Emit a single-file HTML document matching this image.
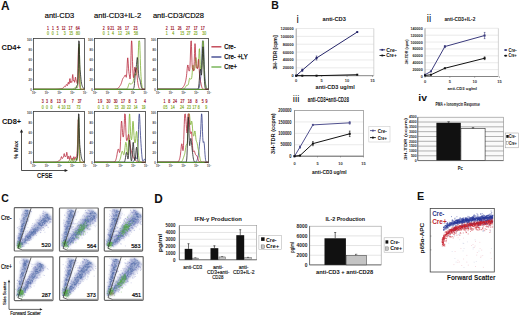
<!DOCTYPE html>
<html><head><meta charset="utf-8"><style>
html,body{margin:0;padding:0;background:#fff;width:520px;height:316px;overflow:hidden}
svg{display:block}
text{font-family:"Liberation Sans", sans-serif}
</style></head><body>
<svg width="520" height="316" viewBox="0 0 520 316">
<defs><filter id="bl" x="-50%" y="-50%" width="200%" height="200%"><feGaussianBlur stdDeviation="1.1"/></filter></defs>
<rect width="520" height="316" fill="#fff"/>
<text x="1.10" y="10.30" font-size="11.92" fill="#111" font-weight="bold" textLength="8.60" lengthAdjust="spacingAndGlyphs">A</text>
<text x="44.80" y="17.60" font-size="7.27" fill="#000" textLength="29.40" lengthAdjust="spacingAndGlyphs" stroke="#000" stroke-width="0.15">anti-CD3</text>
<text x="94.00" y="17.80" font-size="7.56" fill="#000" textLength="47.30" lengthAdjust="spacingAndGlyphs" stroke="#000" stroke-width="0.15">anti-CD3+IL-2</text>
<text x="152.90" y="17.80" font-size="7.27" fill="#000" textLength="51.10" lengthAdjust="spacingAndGlyphs" stroke="#000" stroke-width="0.15">anti-CD3/CD28</text>
<text x="1.50" y="50.30" font-size="7.56" fill="#111" font-weight="bold" textLength="19.40" lengthAdjust="spacingAndGlyphs">CD4+</text>
<text x="1.90" y="123.70" font-size="7.56" fill="#111" font-weight="bold" textLength="19.30" lengthAdjust="spacingAndGlyphs">CD8+</text>
<text x="47.12" y="29.65" font-size="4.80" fill="#a01830" textLength="1.95" lengthAdjust="spacingAndGlyphs" stroke="#a01830" stroke-width="0.2">1</text>
<text x="51.92" y="29.65" font-size="4.80" fill="#a01830" textLength="1.95" lengthAdjust="spacingAndGlyphs" stroke="#a01830" stroke-width="0.2">1</text>
<text x="56.82" y="29.65" font-size="4.80" fill="#a01830" textLength="1.95" lengthAdjust="spacingAndGlyphs" stroke="#a01830" stroke-width="0.2">5</text>
<text x="61.65" y="29.65" font-size="4.80" fill="#a01830" textLength="3.90" lengthAdjust="spacingAndGlyphs" stroke="#a01830" stroke-width="0.2">12</text>
<text x="68.55" y="29.65" font-size="4.80" fill="#a01830" textLength="3.90" lengthAdjust="spacingAndGlyphs" stroke="#a01830" stroke-width="0.2">17</text>
<text x="75.85" y="29.65" font-size="4.80" fill="#a01830" textLength="3.90" lengthAdjust="spacingAndGlyphs" stroke="#a01830" stroke-width="0.2">64</text>
<text x="46.92" y="34.55" font-size="4.80" fill="#88b030" textLength="1.95" lengthAdjust="spacingAndGlyphs" stroke="#88b030" stroke-width="0.2">0</text>
<text x="51.82" y="34.55" font-size="4.80" fill="#88b030" textLength="1.95" lengthAdjust="spacingAndGlyphs" stroke="#88b030" stroke-width="0.2">0</text>
<text x="56.62" y="34.55" font-size="4.80" fill="#88b030" textLength="1.95" lengthAdjust="spacingAndGlyphs" stroke="#88b030" stroke-width="0.2">1</text>
<text x="63.82" y="34.55" font-size="4.80" fill="#88b030" textLength="1.95" lengthAdjust="spacingAndGlyphs" stroke="#88b030" stroke-width="0.2">3</text>
<text x="69.15" y="34.55" font-size="4.80" fill="#88b030" textLength="3.90" lengthAdjust="spacingAndGlyphs" stroke="#88b030" stroke-width="0.2">15</text>
<text x="76.05" y="34.55" font-size="4.80" fill="#88b030" textLength="3.90" lengthAdjust="spacingAndGlyphs" stroke="#88b030" stroke-width="0.2">80</text>
<text x="102.73" y="29.95" font-size="4.80" fill="#a01830" textLength="1.95" lengthAdjust="spacingAndGlyphs" stroke="#a01830" stroke-width="0.2">2</text>
<text x="107.53" y="29.95" font-size="4.80" fill="#a01830" textLength="1.95" lengthAdjust="spacingAndGlyphs" stroke="#a01830" stroke-width="0.2">9</text>
<text x="110.35" y="29.95" font-size="4.80" fill="#a01830" textLength="3.90" lengthAdjust="spacingAndGlyphs" stroke="#a01830" stroke-width="0.2">21</text>
<text x="117.55" y="29.95" font-size="4.80" fill="#a01830" textLength="3.90" lengthAdjust="spacingAndGlyphs" stroke="#a01830" stroke-width="0.2">26</text>
<text x="124.95" y="29.95" font-size="4.80" fill="#a01830" textLength="3.90" lengthAdjust="spacingAndGlyphs" stroke="#a01830" stroke-width="0.2">17</text>
<text x="133.45" y="29.95" font-size="4.80" fill="#a01830" textLength="3.90" lengthAdjust="spacingAndGlyphs" stroke="#a01830" stroke-width="0.2">23</text>
<text x="102.73" y="34.95" font-size="4.80" fill="#88b030" textLength="1.95" lengthAdjust="spacingAndGlyphs" stroke="#88b030" stroke-width="0.2">0</text>
<text x="107.53" y="34.95" font-size="4.80" fill="#88b030" textLength="1.95" lengthAdjust="spacingAndGlyphs" stroke="#88b030" stroke-width="0.2">1</text>
<text x="112.03" y="34.95" font-size="4.80" fill="#88b030" textLength="1.95" lengthAdjust="spacingAndGlyphs" stroke="#88b030" stroke-width="0.2">4</text>
<text x="118.05" y="34.95" font-size="4.80" fill="#88b030" textLength="3.90" lengthAdjust="spacingAndGlyphs" stroke="#88b030" stroke-width="0.2">12</text>
<text x="125.75" y="34.95" font-size="4.80" fill="#88b030" textLength="3.90" lengthAdjust="spacingAndGlyphs" stroke="#88b030" stroke-width="0.2">24</text>
<text x="133.95" y="34.95" font-size="4.80" fill="#88b030" textLength="3.90" lengthAdjust="spacingAndGlyphs" stroke="#88b030" stroke-width="0.2">58</text>
<text x="165.83" y="29.95" font-size="4.80" fill="#a01830" textLength="1.95" lengthAdjust="spacingAndGlyphs" stroke="#a01830" stroke-width="0.2">2</text>
<text x="170.55" y="29.95" font-size="4.80" fill="#a01830" textLength="3.90" lengthAdjust="spacingAndGlyphs" stroke="#a01830" stroke-width="0.2">11</text>
<text x="177.65" y="29.95" font-size="4.80" fill="#a01830" textLength="3.90" lengthAdjust="spacingAndGlyphs" stroke="#a01830" stroke-width="0.2">26</text>
<text x="186.05" y="29.95" font-size="4.80" fill="#a01830" textLength="3.90" lengthAdjust="spacingAndGlyphs" stroke="#a01830" stroke-width="0.2">27</text>
<text x="193.65" y="29.95" font-size="4.80" fill="#a01830" textLength="3.90" lengthAdjust="spacingAndGlyphs" stroke="#a01830" stroke-width="0.2">17</text>
<text x="200.75" y="29.95" font-size="4.80" fill="#a01830" textLength="3.90" lengthAdjust="spacingAndGlyphs" stroke="#a01830" stroke-width="0.2">17</text>
<text x="165.72" y="34.75" font-size="4.80" fill="#88b030" textLength="1.95" lengthAdjust="spacingAndGlyphs" stroke="#88b030" stroke-width="0.2">1</text>
<text x="172.33" y="34.75" font-size="4.80" fill="#88b030" textLength="1.95" lengthAdjust="spacingAndGlyphs" stroke="#88b030" stroke-width="0.2">4</text>
<text x="180.35" y="34.75" font-size="4.80" fill="#88b030" textLength="3.90" lengthAdjust="spacingAndGlyphs" stroke="#88b030" stroke-width="0.2">15</text>
<text x="186.65" y="34.75" font-size="4.80" fill="#88b030" textLength="3.90" lengthAdjust="spacingAndGlyphs" stroke="#88b030" stroke-width="0.2">27</text>
<text x="193.65" y="34.75" font-size="4.80" fill="#88b030" textLength="3.90" lengthAdjust="spacingAndGlyphs" stroke="#88b030" stroke-width="0.2">23</text>
<text x="202.25" y="34.75" font-size="4.80" fill="#88b030" textLength="3.90" lengthAdjust="spacingAndGlyphs" stroke="#88b030" stroke-width="0.2">30</text>
<text x="41.82" y="103.35" font-size="4.80" fill="#a01830" textLength="1.95" lengthAdjust="spacingAndGlyphs" stroke="#a01830" stroke-width="0.2">3</text>
<text x="46.02" y="103.35" font-size="4.80" fill="#a01830" textLength="1.95" lengthAdjust="spacingAndGlyphs" stroke="#a01830" stroke-width="0.2">3</text>
<text x="50.62" y="103.35" font-size="4.80" fill="#a01830" textLength="1.95" lengthAdjust="spacingAndGlyphs" stroke="#a01830" stroke-width="0.2">8</text>
<text x="56.85" y="103.35" font-size="4.80" fill="#a01830" textLength="3.90" lengthAdjust="spacingAndGlyphs" stroke="#a01830" stroke-width="0.2">13</text>
<text x="63.82" y="103.35" font-size="4.80" fill="#a01830" textLength="1.95" lengthAdjust="spacingAndGlyphs" stroke="#a01830" stroke-width="0.2">9</text>
<text x="71.83" y="103.35" font-size="4.80" fill="#a01830" textLength="1.95" lengthAdjust="spacingAndGlyphs" stroke="#a01830" stroke-width="0.2">7</text>
<text x="77.65" y="103.35" font-size="4.80" fill="#a01830" textLength="3.90" lengthAdjust="spacingAndGlyphs" stroke="#a01830" stroke-width="0.2">37</text>
<text x="41.82" y="108.55" font-size="4.80" fill="#88b030" textLength="1.95" lengthAdjust="spacingAndGlyphs" stroke="#88b030" stroke-width="0.2">0</text>
<text x="46.12" y="108.55" font-size="4.80" fill="#88b030" textLength="1.95" lengthAdjust="spacingAndGlyphs" stroke="#88b030" stroke-width="0.2">0</text>
<text x="50.62" y="108.55" font-size="4.80" fill="#88b030" textLength="1.95" lengthAdjust="spacingAndGlyphs" stroke="#88b030" stroke-width="0.2">0</text>
<text x="58.02" y="108.55" font-size="4.80" fill="#88b030" textLength="1.95" lengthAdjust="spacingAndGlyphs" stroke="#88b030" stroke-width="0.2">4</text>
<text x="61.45" y="108.55" font-size="4.80" fill="#88b030" textLength="3.90" lengthAdjust="spacingAndGlyphs" stroke="#88b030" stroke-width="0.2">10</text>
<text x="66.65" y="108.55" font-size="4.80" fill="#88b030" textLength="3.90" lengthAdjust="spacingAndGlyphs" stroke="#88b030" stroke-width="0.2">13</text>
<text x="76.45" y="108.55" font-size="4.80" fill="#88b030" textLength="3.90" lengthAdjust="spacingAndGlyphs" stroke="#88b030" stroke-width="0.2">73</text>
<text x="97.73" y="103.35" font-size="4.80" fill="#a01830" textLength="1.95" lengthAdjust="spacingAndGlyphs" stroke="#a01830" stroke-width="0.2">1</text>
<text x="100.23" y="103.35" font-size="4.80" fill="#a01830" textLength="1.95" lengthAdjust="spacingAndGlyphs" stroke="#a01830" stroke-width="0.2">9</text>
<text x="106.55" y="103.35" font-size="4.80" fill="#a01830" textLength="3.90" lengthAdjust="spacingAndGlyphs" stroke="#a01830" stroke-width="0.2">30</text>
<text x="113.65" y="103.35" font-size="4.80" fill="#a01830" textLength="3.90" lengthAdjust="spacingAndGlyphs" stroke="#a01830" stroke-width="0.2">30</text>
<text x="120.95" y="103.35" font-size="4.80" fill="#a01830" textLength="3.90" lengthAdjust="spacingAndGlyphs" stroke="#a01830" stroke-width="0.2">17</text>
<text x="128.43" y="103.35" font-size="4.80" fill="#a01830" textLength="1.95" lengthAdjust="spacingAndGlyphs" stroke="#a01830" stroke-width="0.2">8</text>
<text x="134.83" y="103.35" font-size="4.80" fill="#a01830" textLength="1.95" lengthAdjust="spacingAndGlyphs" stroke="#a01830" stroke-width="0.2">3</text>
<text x="144.03" y="103.35" font-size="4.80" fill="#a01830" textLength="1.95" lengthAdjust="spacingAndGlyphs" stroke="#a01830" stroke-width="0.2">4</text>
<text x="97.83" y="108.55" font-size="4.80" fill="#88b030" textLength="1.95" lengthAdjust="spacingAndGlyphs" stroke="#88b030" stroke-width="0.2">0</text>
<text x="102.33" y="108.55" font-size="4.80" fill="#88b030" textLength="1.95" lengthAdjust="spacingAndGlyphs" stroke="#88b030" stroke-width="0.2">1</text>
<text x="106.53" y="108.55" font-size="4.80" fill="#88b030" textLength="1.95" lengthAdjust="spacingAndGlyphs" stroke="#88b030" stroke-width="0.2">0</text>
<text x="114.55" y="108.55" font-size="4.80" fill="#88b030" textLength="3.90" lengthAdjust="spacingAndGlyphs" stroke="#88b030" stroke-width="0.2">15</text>
<text x="121.15" y="108.55" font-size="4.80" fill="#88b030" textLength="3.90" lengthAdjust="spacingAndGlyphs" stroke="#88b030" stroke-width="0.2">20</text>
<text x="126.95" y="108.55" font-size="4.80" fill="#88b030" textLength="3.90" lengthAdjust="spacingAndGlyphs" stroke="#88b030" stroke-width="0.2">22</text>
<text x="133.65" y="108.55" font-size="4.80" fill="#88b030" textLength="3.90" lengthAdjust="spacingAndGlyphs" stroke="#88b030" stroke-width="0.2">14</text>
<text x="141.65" y="108.55" font-size="4.80" fill="#88b030" textLength="3.90" lengthAdjust="spacingAndGlyphs" stroke="#88b030" stroke-width="0.2">19</text>
<text x="163.43" y="103.35" font-size="4.80" fill="#a01830" textLength="1.95" lengthAdjust="spacingAndGlyphs" stroke="#a01830" stroke-width="0.2">1</text>
<text x="168.33" y="103.35" font-size="4.80" fill="#a01830" textLength="1.95" lengthAdjust="spacingAndGlyphs" stroke="#a01830" stroke-width="0.2">8</text>
<text x="173.05" y="103.35" font-size="4.80" fill="#a01830" textLength="3.90" lengthAdjust="spacingAndGlyphs" stroke="#a01830" stroke-width="0.2">24</text>
<text x="180.55" y="103.35" font-size="4.80" fill="#a01830" textLength="3.90" lengthAdjust="spacingAndGlyphs" stroke="#a01830" stroke-width="0.2">27</text>
<text x="187.85" y="103.35" font-size="4.80" fill="#a01830" textLength="3.90" lengthAdjust="spacingAndGlyphs" stroke="#a01830" stroke-width="0.2">18</text>
<text x="195.43" y="103.35" font-size="4.80" fill="#a01830" textLength="1.95" lengthAdjust="spacingAndGlyphs" stroke="#a01830" stroke-width="0.2">8</text>
<text x="201.72" y="103.35" font-size="4.80" fill="#a01830" textLength="1.95" lengthAdjust="spacingAndGlyphs" stroke="#a01830" stroke-width="0.2">5</text>
<text x="205.53" y="103.35" font-size="4.80" fill="#a01830" textLength="1.95" lengthAdjust="spacingAndGlyphs" stroke="#a01830" stroke-width="0.2">9</text>
<text x="163.33" y="108.55" font-size="4.80" fill="#88b030" textLength="1.95" lengthAdjust="spacingAndGlyphs" stroke="#88b030" stroke-width="0.2">0</text>
<text x="165.43" y="108.55" font-size="4.80" fill="#88b030" textLength="1.95" lengthAdjust="spacingAndGlyphs" stroke="#88b030" stroke-width="0.2">5</text>
<text x="170.75" y="108.55" font-size="4.80" fill="#88b030" textLength="3.90" lengthAdjust="spacingAndGlyphs" stroke="#88b030" stroke-width="0.2">14</text>
<text x="180.05" y="108.55" font-size="4.80" fill="#88b030" textLength="3.90" lengthAdjust="spacingAndGlyphs" stroke="#88b030" stroke-width="0.2">24</text>
<text x="186.95" y="108.55" font-size="4.80" fill="#88b030" textLength="3.90" lengthAdjust="spacingAndGlyphs" stroke="#88b030" stroke-width="0.2">23</text>
<text x="192.45" y="108.55" font-size="4.80" fill="#88b030" textLength="3.90" lengthAdjust="spacingAndGlyphs" stroke="#88b030" stroke-width="0.2">17</text>
<text x="197.72" y="108.55" font-size="4.80" fill="#88b030" textLength="1.95" lengthAdjust="spacingAndGlyphs" stroke="#88b030" stroke-width="0.2">8</text>
<text x="205.22" y="108.55" font-size="4.80" fill="#88b030" textLength="1.95" lengthAdjust="spacingAndGlyphs" stroke="#88b030" stroke-width="0.2">9</text>
<rect x="33.50" y="38.50" width="51.00" height="51.00" fill="#fff" stroke="#3a3a3a" stroke-width="0.8"/>
<line x1="32.50" y1="89.50" x2="33.50" y2="89.50" stroke="#666" stroke-width="0.5"/>
<text x="30.15" y="90.50" font-size="2.90" fill="#333" font-weight="bold" textLength="1.55" lengthAdjust="spacingAndGlyphs">0</text>
<line x1="32.50" y1="79.60" x2="33.50" y2="79.60" stroke="#666" stroke-width="0.5"/>
<text x="28.60" y="80.60" font-size="2.90" fill="#333" font-weight="bold" textLength="3.10" lengthAdjust="spacingAndGlyphs">20</text>
<line x1="32.50" y1="69.70" x2="33.50" y2="69.70" stroke="#666" stroke-width="0.5"/>
<text x="28.60" y="70.70" font-size="2.90" fill="#333" font-weight="bold" textLength="3.10" lengthAdjust="spacingAndGlyphs">40</text>
<line x1="32.50" y1="59.80" x2="33.50" y2="59.80" stroke="#666" stroke-width="0.5"/>
<text x="28.60" y="60.80" font-size="2.90" fill="#333" font-weight="bold" textLength="3.10" lengthAdjust="spacingAndGlyphs">60</text>
<line x1="32.50" y1="49.90" x2="33.50" y2="49.90" stroke="#666" stroke-width="0.5"/>
<text x="28.60" y="50.90" font-size="2.90" fill="#333" font-weight="bold" textLength="3.10" lengthAdjust="spacingAndGlyphs">80</text>
<line x1="32.50" y1="40.00" x2="33.50" y2="40.00" stroke="#666" stroke-width="0.5"/>
<text x="27.05" y="41.00" font-size="2.90" fill="#333" font-weight="bold" textLength="4.65" lengthAdjust="spacingAndGlyphs">100</text>
<line x1="33.50" y1="89.50" x2="33.50" y2="90.50" stroke="#666" stroke-width="0.5"/>
<text x="32.10" y="93.80" font-size="2.6" fill="#333" font-weight="bold">10<tspan dy="-1" font-size="1.9">0</tspan></text>
<line x1="46.25" y1="89.50" x2="46.25" y2="90.50" stroke="#666" stroke-width="0.5"/>
<text x="44.85" y="93.80" font-size="2.6" fill="#333" font-weight="bold">10<tspan dy="-1" font-size="1.9">1</tspan></text>
<line x1="59.00" y1="89.50" x2="59.00" y2="90.50" stroke="#666" stroke-width="0.5"/>
<text x="57.60" y="93.80" font-size="2.6" fill="#333" font-weight="bold">10<tspan dy="-1" font-size="1.9">2</tspan></text>
<line x1="71.75" y1="89.50" x2="71.75" y2="90.50" stroke="#666" stroke-width="0.5"/>
<text x="70.35" y="93.80" font-size="2.6" fill="#333" font-weight="bold">10<tspan dy="-1" font-size="1.9">3</tspan></text>
<line x1="84.50" y1="89.50" x2="84.50" y2="90.50" stroke="#666" stroke-width="0.5"/>
<text x="83.10" y="93.80" font-size="2.6" fill="#333" font-weight="bold">10<tspan dy="-1" font-size="1.9">4</tspan></text>
<path d="M33.50 89.20 L33.75 89.20 L34.00 89.20 L34.25 89.20 L34.50 89.20 L34.75 89.20 L35.00 89.20 L35.25 89.20 L35.50 89.20 L35.75 89.20 L36.00 89.20 L36.25 89.20 L36.50 89.20 L36.75 89.20 L37.00 89.20 L37.25 89.20 L37.50 89.20 L37.75 89.20 L38.00 89.20 L38.25 89.20 L38.50 89.20 L38.75 89.20 L39.00 89.20 L39.25 89.20 L39.50 89.20 L39.75 89.20 L40.00 89.20 L40.25 89.20 L40.50 89.20 L40.75 89.20 L41.00 89.20 L41.25 89.20 L41.50 89.20 L41.75 89.20 L42.00 89.20 L42.25 89.20 L42.50 89.20 L42.75 89.20 L43.00 89.20 L43.25 89.20 L43.50 89.20 L43.75 89.20 L44.00 89.20 L44.25 89.20 L44.50 89.20 L44.75 89.20 L45.00 89.20 L45.25 89.20 L45.50 89.20 L45.75 89.20 L46.00 89.20 L46.25 89.20 L46.50 89.20 L46.75 89.20 L47.00 89.20 L47.25 89.20 L47.50 89.20 L47.75 89.20 L48.00 89.20 L48.25 89.20 L48.50 89.20 L48.75 89.20 L49.00 89.20 L49.25 89.20 L49.50 89.20 L49.75 89.20 L50.00 89.20 L50.25 89.20 L50.50 89.20 L50.75 89.20 L51.00 89.20 L51.25 89.20 L51.50 89.20 L51.75 89.20 L52.00 89.20 L52.25 89.20 L52.50 89.20 L52.75 89.20 L53.00 89.20 L53.25 89.20 L53.50 89.20 L53.75 89.20 L54.00 89.19 L54.25 89.19 L54.50 89.19 L54.75 89.19 L55.00 89.19 L55.25 89.19 L55.50 89.18 L55.75 89.18 L56.00 89.18 L56.25 89.17 L56.50 89.16 L56.75 89.16 L57.00 89.15 L57.25 89.14 L57.50 89.13 L57.75 89.12 L58.00 89.11 L58.25 89.09 L58.50 89.07 L58.75 89.05 L59.00 89.03 L59.25 89.01 L59.50 88.98 L59.75 88.95 L60.00 88.92 L60.25 88.88 L60.50 88.84 L60.75 88.80 L61.00 88.75 L61.25 88.70 L61.50 88.65 L61.75 88.59 L62.00 88.53 L62.25 88.47 L62.50 88.39 L62.75 88.29 L63.00 88.14 L63.25 87.93 L63.50 87.63 L63.75 87.25 L64.00 86.84 L64.25 86.51 L64.50 86.33 L64.75 86.35 L65.00 86.49 L65.25 86.61 L65.50 86.52 L65.75 86.08 L66.00 85.36 L66.25 84.65 L66.50 84.33 L66.75 84.59 L67.00 85.21 L67.25 85.68 L67.50 85.50 L67.75 84.48 L68.00 83.07 L68.25 82.22 L68.50 82.56 L68.75 83.61 L69.00 84.14 L69.25 83.16 L69.50 80.87 L69.75 78.79 L70.00 78.53 L70.25 80.17 L70.50 82.13 L70.75 82.80 L71.00 82.18 L71.25 81.54 L71.50 81.80 L71.75 82.32 L72.00 81.49 L72.25 78.71 L72.50 75.54 L72.75 74.53 L73.00 76.42 L73.25 79.25 L73.50 80.65 L73.75 80.38 L74.00 80.13 L74.25 81.04 L74.50 82.30 L74.75 82.17 L75.00 80.15 L75.25 77.81 L75.50 77.14 L75.75 78.38 L76.00 79.99 L76.25 80.72 L76.50 80.89 L76.75 81.52 L77.00 82.79 L77.25 83.57 L77.50 81.89 L77.75 76.05 L78.00 66.01 L78.25 54.74 L78.50 47.51 L78.75 48.41 L79.00 56.98 L79.25 68.65 L79.50 78.61 L79.75 84.79 L80.00 87.71 L80.25 88.78 L80.50 89.10 L80.75 89.17 L81.00 89.19 L81.25 89.19 L81.50 89.19 L81.75 89.19 L82.00 89.19 L82.25 89.20 L82.50 89.20 L82.75 89.20 L83.00 89.20 L83.25 89.20 L83.50 89.20 L83.75 89.20 L84.00 89.20 L84.25 89.20 L84.50 89.20" stroke="#b8283c" stroke-width="0.8" fill="none" stroke-linejoin="round"/>
<path d="M33.50 89.20 L33.75 89.20 L34.00 89.20 L34.25 89.20 L34.50 89.20 L34.75 89.20 L35.00 89.20 L35.25 89.20 L35.50 89.20 L35.75 89.20 L36.00 89.20 L36.25 89.20 L36.50 89.20 L36.75 89.20 L37.00 89.20 L37.25 89.20 L37.50 89.20 L37.75 89.20 L38.00 89.20 L38.25 89.20 L38.50 89.20 L38.75 89.20 L39.00 89.20 L39.25 89.20 L39.50 89.20 L39.75 89.20 L40.00 89.20 L40.25 89.20 L40.50 89.20 L40.75 89.20 L41.00 89.20 L41.25 89.20 L41.50 89.20 L41.75 89.20 L42.00 89.20 L42.25 89.20 L42.50 89.20 L42.75 89.20 L43.00 89.20 L43.25 89.20 L43.50 89.20 L43.75 89.20 L44.00 89.20 L44.25 89.20 L44.50 89.20 L44.75 89.20 L45.00 89.20 L45.25 89.20 L45.50 89.20 L45.75 89.20 L46.00 89.20 L46.25 89.20 L46.50 89.20 L46.75 89.20 L47.00 89.20 L47.25 89.20 L47.50 89.20 L47.75 89.20 L48.00 89.20 L48.25 89.20 L48.50 89.20 L48.75 89.20 L49.00 89.20 L49.25 89.20 L49.50 89.20 L49.75 89.20 L50.00 89.20 L50.25 89.20 L50.50 89.20 L50.75 89.20 L51.00 89.20 L51.25 89.20 L51.50 89.20 L51.75 89.20 L52.00 89.20 L52.25 89.20 L52.50 89.20 L52.75 89.20 L53.00 89.20 L53.25 89.20 L53.50 89.20 L53.75 89.20 L54.00 89.20 L54.25 89.20 L54.50 89.20 L54.75 89.20 L55.00 89.20 L55.25 89.20 L55.50 89.20 L55.75 89.20 L56.00 89.20 L56.25 89.20 L56.50 89.20 L56.75 89.20 L57.00 89.20 L57.25 89.20 L57.50 89.20 L57.75 89.20 L58.00 89.20 L58.25 89.20 L58.50 89.20 L58.75 89.20 L59.00 89.20 L59.25 89.20 L59.50 89.20 L59.75 89.20 L60.00 89.20 L60.25 89.20 L60.50 89.20 L60.75 89.20 L61.00 89.20 L61.25 89.20 L61.50 89.20 L61.75 89.20 L62.00 89.20 L62.25 89.20 L62.50 89.20 L62.75 89.20 L63.00 89.20 L63.25 89.20 L63.50 89.20 L63.75 89.20 L64.00 89.20 L64.25 89.20 L64.50 89.20 L64.75 89.20 L65.00 89.20 L65.25 89.20 L65.50 89.20 L65.75 89.20 L66.00 89.20 L66.25 89.20 L66.50 89.20 L66.75 89.20 L67.00 89.20 L67.25 89.20 L67.50 89.20 L67.75 89.20 L68.00 89.20 L68.25 89.20 L68.50 89.20 L68.75 89.20 L69.00 89.20 L69.25 89.20 L69.50 89.20 L69.75 89.20 L70.00 89.20 L70.25 89.20 L70.50 89.20 L70.75 89.20 L71.00 89.20 L71.25 89.20 L71.50 89.19 L71.75 89.19 L72.00 89.18 L72.25 89.16 L72.50 89.13 L72.75 89.09 L73.00 89.03 L73.25 88.95 L73.50 88.84 L73.75 88.70 L74.00 88.54 L74.25 88.34 L74.50 88.13 L74.75 87.90 L75.00 87.69 L75.25 87.49 L75.50 87.34 L75.75 87.24 L76.00 87.21 L76.25 87.24 L76.50 87.34 L76.75 87.49 L77.00 87.66 L77.25 87.77 L77.50 87.56 L77.75 86.33 L78.00 82.78 L78.25 75.43 L78.50 64.13 L78.75 51.81 L79.00 43.99 L79.25 45.01 L79.50 54.31 L79.75 66.96 L80.00 77.75 L80.25 84.44 L80.50 87.60 L80.75 88.77 L81.00 89.10 L81.25 89.18 L81.50 89.20 L81.75 89.20 L82.00 89.20 L82.25 89.20 L82.50 89.20 L82.75 89.20 L83.00 89.20 L83.25 89.20 L83.50 89.20 L83.75 89.20 L84.00 89.20 L84.25 89.20 L84.50 89.20" stroke="#7cb030" stroke-width="0.8" fill="none" stroke-linejoin="round"/>
<path d="M33.50 89.20 L33.75 89.20 L34.00 89.20 L34.25 89.20 L34.50 89.20 L34.75 89.20 L35.00 89.20 L35.25 89.20 L35.50 89.20 L35.75 89.20 L36.00 89.20 L36.25 89.20 L36.50 89.20 L36.75 89.20 L37.00 89.20 L37.25 89.20 L37.50 89.20 L37.75 89.20 L38.00 89.20 L38.25 89.20 L38.50 89.20 L38.75 89.20 L39.00 89.20 L39.25 89.20 L39.50 89.20 L39.75 89.20 L40.00 89.20 L40.25 89.20 L40.50 89.20 L40.75 89.20 L41.00 89.20 L41.25 89.20 L41.50 89.20 L41.75 89.20 L42.00 89.20 L42.25 89.20 L42.50 89.20 L42.75 89.20 L43.00 89.20 L43.25 89.20 L43.50 89.20 L43.75 89.20 L44.00 89.20 L44.25 89.20 L44.50 89.20 L44.75 89.20 L45.00 89.20 L45.25 89.20 L45.50 89.20 L45.75 89.20 L46.00 89.20 L46.25 89.20 L46.50 89.20 L46.75 89.20 L47.00 89.20 L47.25 89.20 L47.50 89.20 L47.75 89.20 L48.00 89.20 L48.25 89.20 L48.50 89.20 L48.75 89.20 L49.00 89.20 L49.25 89.20 L49.50 89.20 L49.75 89.20 L50.00 89.20 L50.25 89.20 L50.50 89.20 L50.75 89.20 L51.00 89.20 L51.25 89.20 L51.50 89.20 L51.75 89.20 L52.00 89.20 L52.25 89.20 L52.50 89.20 L52.75 89.20 L53.00 89.20 L53.25 89.20 L53.50 89.20 L53.75 89.20 L54.00 89.20 L54.25 89.20 L54.50 89.20 L54.75 89.20 L55.00 89.20 L55.25 89.20 L55.50 89.20 L55.75 89.20 L56.00 89.20 L56.25 89.20 L56.50 89.20 L56.75 89.20 L57.00 89.20 L57.25 89.20 L57.50 89.20 L57.75 89.20 L58.00 89.20 L58.25 89.20 L58.50 89.20 L58.75 89.20 L59.00 89.20 L59.25 89.20 L59.50 89.20 L59.75 89.20 L60.00 89.20 L60.25 89.20 L60.50 89.20 L60.75 89.20 L61.00 89.20 L61.25 89.20 L61.50 89.20 L61.75 89.20 L62.00 89.20 L62.25 89.20 L62.50 89.20 L62.75 89.20 L63.00 89.20 L63.25 89.20 L63.50 89.20 L63.75 89.20 L64.00 89.20 L64.25 89.20 L64.50 89.20 L64.75 89.20 L65.00 89.20 L65.25 89.20 L65.50 89.20 L65.75 89.20 L66.00 89.20 L66.25 89.20 L66.50 89.20 L66.75 89.20 L67.00 89.20 L67.25 89.20 L67.50 89.20 L67.75 89.20 L68.00 89.20 L68.25 89.20 L68.50 89.20 L68.75 89.20 L69.00 89.20 L69.25 89.20 L69.50 89.20 L69.75 89.20 L70.00 89.20 L70.25 89.20 L70.50 89.20 L70.75 89.20 L71.00 89.20 L71.25 89.20 L71.50 89.20 L71.75 89.20 L72.00 89.20 L72.25 89.20 L72.50 89.20 L72.75 89.20 L73.00 89.20 L73.25 89.20 L73.50 89.20 L73.75 89.20 L74.00 89.20 L74.25 89.20 L74.50 89.19 L74.75 89.17 L75.00 89.13 L75.25 89.04 L75.50 88.86 L75.75 88.56 L76.00 88.10 L76.25 87.48 L76.50 86.74 L76.75 86.01 L77.00 85.42 L77.25 85.05 L77.50 84.71 L77.75 83.48 L78.00 79.05 L78.25 68.46 L78.50 52.03 L78.75 40.89 L79.00 40.89 L79.25 41.64 L79.50 54.77 L79.75 64.49 L80.00 69.41 L80.25 71.99 L80.50 74.28 L80.75 76.81 L81.00 79.32 L81.25 81.49 L81.50 83.19 L81.75 84.43 L82.00 85.34 L82.25 86.03 L82.50 86.61 L82.75 87.11 L83.00 87.55 L83.25 87.94 L83.50 88.27 L83.75 88.53 L84.00 88.74 L84.25 88.89 L84.50 89.00" stroke="#222" stroke-width="0.8" fill="none" stroke-linejoin="round"/>
<line x1="33.90" y1="89.40" x2="80.50" y2="89.40" stroke="#5a9a30" stroke-width="1.0"/>
<rect x="94.50" y="38.50" width="50.50" height="51.00" fill="#fff" stroke="#3a3a3a" stroke-width="0.8"/>
<line x1="93.50" y1="89.50" x2="94.50" y2="89.50" stroke="#666" stroke-width="0.5"/>
<text x="91.15" y="90.50" font-size="2.90" fill="#333" font-weight="bold" textLength="1.55" lengthAdjust="spacingAndGlyphs">0</text>
<line x1="93.50" y1="79.60" x2="94.50" y2="79.60" stroke="#666" stroke-width="0.5"/>
<text x="89.60" y="80.60" font-size="2.90" fill="#333" font-weight="bold" textLength="3.10" lengthAdjust="spacingAndGlyphs">20</text>
<line x1="93.50" y1="69.70" x2="94.50" y2="69.70" stroke="#666" stroke-width="0.5"/>
<text x="89.60" y="70.70" font-size="2.90" fill="#333" font-weight="bold" textLength="3.10" lengthAdjust="spacingAndGlyphs">40</text>
<line x1="93.50" y1="59.80" x2="94.50" y2="59.80" stroke="#666" stroke-width="0.5"/>
<text x="89.60" y="60.80" font-size="2.90" fill="#333" font-weight="bold" textLength="3.10" lengthAdjust="spacingAndGlyphs">60</text>
<line x1="93.50" y1="49.90" x2="94.50" y2="49.90" stroke="#666" stroke-width="0.5"/>
<text x="89.60" y="50.90" font-size="2.90" fill="#333" font-weight="bold" textLength="3.10" lengthAdjust="spacingAndGlyphs">80</text>
<line x1="93.50" y1="40.00" x2="94.50" y2="40.00" stroke="#666" stroke-width="0.5"/>
<text x="88.05" y="41.00" font-size="2.90" fill="#333" font-weight="bold" textLength="4.65" lengthAdjust="spacingAndGlyphs">100</text>
<line x1="94.50" y1="89.50" x2="94.50" y2="90.50" stroke="#666" stroke-width="0.5"/>
<text x="93.10" y="93.80" font-size="2.6" fill="#333" font-weight="bold">10<tspan dy="-1" font-size="1.9">0</tspan></text>
<line x1="107.12" y1="89.50" x2="107.12" y2="90.50" stroke="#666" stroke-width="0.5"/>
<text x="105.72" y="93.80" font-size="2.6" fill="#333" font-weight="bold">10<tspan dy="-1" font-size="1.9">1</tspan></text>
<line x1="119.75" y1="89.50" x2="119.75" y2="90.50" stroke="#666" stroke-width="0.5"/>
<text x="118.35" y="93.80" font-size="2.6" fill="#333" font-weight="bold">10<tspan dy="-1" font-size="1.9">2</tspan></text>
<line x1="132.38" y1="89.50" x2="132.38" y2="90.50" stroke="#666" stroke-width="0.5"/>
<text x="130.97" y="93.80" font-size="2.6" fill="#333" font-weight="bold">10<tspan dy="-1" font-size="1.9">3</tspan></text>
<line x1="145.00" y1="89.50" x2="145.00" y2="90.50" stroke="#666" stroke-width="0.5"/>
<text x="143.60" y="93.80" font-size="2.6" fill="#333" font-weight="bold">10<tspan dy="-1" font-size="1.9">4</tspan></text>
<path d="M94.50 89.20 L94.75 89.20 L95.00 89.20 L95.25 89.20 L95.50 89.20 L95.75 89.20 L96.00 89.20 L96.25 89.20 L96.50 89.20 L96.75 89.20 L97.00 89.20 L97.25 89.20 L97.50 89.20 L97.75 89.20 L98.00 89.20 L98.25 89.20 L98.50 89.20 L98.75 89.20 L99.00 89.20 L99.25 89.20 L99.50 89.20 L99.75 89.20 L100.00 89.20 L100.25 89.20 L100.50 89.20 L100.75 89.20 L101.00 89.20 L101.25 89.20 L101.50 89.20 L101.75 89.20 L102.00 89.20 L102.25 89.20 L102.50 89.20 L102.75 89.20 L103.00 89.20 L103.25 89.20 L103.50 89.20 L103.75 89.20 L104.00 89.20 L104.25 89.20 L104.50 89.20 L104.75 89.20 L105.00 89.20 L105.25 89.20 L105.50 89.20 L105.75 89.20 L106.00 89.20 L106.25 89.20 L106.50 89.20 L106.75 89.20 L107.00 89.20 L107.25 89.20 L107.50 89.20 L107.75 89.20 L108.00 89.20 L108.25 89.20 L108.50 89.20 L108.75 89.20 L109.00 89.20 L109.25 89.20 L109.50 89.20 L109.75 89.20 L110.00 89.20 L110.25 89.20 L110.50 89.20 L110.75 89.20 L111.00 89.20 L111.25 89.20 L111.50 89.20 L111.75 89.20 L112.00 89.20 L112.25 89.20 L112.50 89.20 L112.75 89.20 L113.00 89.20 L113.25 89.20 L113.50 89.20 L113.75 89.20 L114.00 89.20 L114.25 89.20 L114.50 89.20 L114.75 89.20 L115.00 89.20 L115.25 89.20 L115.50 89.20 L115.75 89.20 L116.00 89.20 L116.25 89.20 L116.50 89.20 L116.75 89.20 L117.00 89.20 L117.25 89.20 L117.50 89.20 L117.75 89.20 L118.00 89.20 L118.25 89.20 L118.50 89.20 L118.75 89.20 L119.00 89.20 L119.25 89.20 L119.50 89.20 L119.75 89.20 L120.00 89.20 L120.25 89.20 L120.50 89.20 L120.75 89.20 L121.00 89.20 L121.25 89.20 L121.50 89.20 L121.75 89.20 L122.00 89.20 L122.25 89.20 L122.50 89.20 L122.75 89.20 L123.00 89.20 L123.25 89.20 L123.50 89.20 L123.75 89.20 L124.00 89.20 L124.25 89.20 L124.50 89.20 L124.75 89.20 L125.00 89.20 L125.25 89.20 L125.50 89.19 L125.75 89.19 L126.00 89.17 L126.25 89.14 L126.50 89.07 L126.75 88.97 L127.00 88.79 L127.25 88.52 L127.50 88.12 L127.75 87.59 L128.00 86.92 L128.25 86.14 L128.50 85.30 L128.75 84.50 L129.00 83.81 L129.25 83.33 L129.50 83.11 L129.75 83.16 L130.00 83.41 L130.25 83.77 L130.50 84.11 L130.75 84.33 L131.00 84.36 L131.25 84.20 L131.50 83.91 L131.75 83.59 L132.00 83.32 L132.25 83.13 L132.50 82.97 L132.75 82.74 L133.00 82.28 L133.25 81.47 L133.50 80.29 L133.75 78.79 L134.00 77.15 L134.25 75.62 L134.50 74.44 L134.75 73.79 L135.00 73.70 L135.25 74.06 L135.50 74.65 L135.75 75.15 L136.00 75.32 L136.25 75.01 L136.50 74.24 L136.75 73.15 L137.00 71.89 L137.25 70.42 L137.50 68.48 L137.75 65.53 L138.00 61.07 L138.25 54.98 L138.50 47.83 L138.75 40.96 L139.00 40.89 L139.25 40.89 L139.50 40.89 L139.75 42.66 L140.00 50.32 L140.25 58.40 L140.50 65.73 L140.75 71.74 L141.00 76.40 L141.25 79.94 L141.50 82.64 L141.75 84.70 L142.00 86.25 L142.25 87.37 L142.50 88.13 L142.75 88.61 L143.00 88.90 L143.25 89.06 L143.50 89.14 L143.75 89.17 L144.00 89.19 L144.25 89.20 L144.50 89.20 L144.75 89.20 L145.00 89.20" stroke="#7cb030" stroke-width="0.8" fill="none" stroke-linejoin="round"/>
<path d="M94.50 89.20 L94.75 89.20 L95.00 89.20 L95.25 89.20 L95.50 89.20 L95.75 89.20 L96.00 89.20 L96.25 89.20 L96.50 89.20 L96.75 89.20 L97.00 89.20 L97.25 89.20 L97.50 89.20 L97.75 89.20 L98.00 89.20 L98.25 89.20 L98.50 89.20 L98.75 89.20 L99.00 89.20 L99.25 89.20 L99.50 89.20 L99.75 89.20 L100.00 89.20 L100.25 89.20 L100.50 89.20 L100.75 89.20 L101.00 89.20 L101.25 89.20 L101.50 89.20 L101.75 89.20 L102.00 89.20 L102.25 89.20 L102.50 89.20 L102.75 89.20 L103.00 89.20 L103.25 89.20 L103.50 89.20 L103.75 89.20 L104.00 89.20 L104.25 89.20 L104.50 89.20 L104.75 89.20 L105.00 89.20 L105.25 89.20 L105.50 89.20 L105.75 89.20 L106.00 89.20 L106.25 89.20 L106.50 89.20 L106.75 89.20 L107.00 89.20 L107.25 89.20 L107.50 89.20 L107.75 89.20 L108.00 89.20 L108.25 89.20 L108.50 89.20 L108.75 89.20 L109.00 89.20 L109.25 89.20 L109.50 89.20 L109.75 89.20 L110.00 89.20 L110.25 89.20 L110.50 89.20 L110.75 89.20 L111.00 89.20 L111.25 89.20 L111.50 89.20 L111.75 89.20 L112.00 89.20 L112.25 89.20 L112.50 89.20 L112.75 89.20 L113.00 89.20 L113.25 89.20 L113.50 89.20 L113.75 89.20 L114.00 89.20 L114.25 89.20 L114.50 89.20 L114.75 89.19 L115.00 89.19 L115.25 89.18 L115.50 89.17 L115.75 89.16 L116.00 89.14 L116.25 89.10 L116.50 89.06 L116.75 88.99 L117.00 88.91 L117.25 88.80 L117.50 88.66 L117.75 88.49 L118.00 88.29 L118.25 88.05 L118.50 87.79 L118.75 87.50 L119.00 87.19 L119.25 86.87 L119.50 86.54 L119.75 86.20 L120.00 85.85 L120.25 85.47 L120.50 85.05 L120.75 84.57 L121.00 84.02 L121.25 83.37 L121.50 82.63 L121.75 81.82 L122.00 80.98 L122.25 80.14 L122.50 79.38 L122.75 78.74 L123.00 78.24 L123.25 77.90 L123.50 77.64 L123.75 77.41 L124.00 77.09 L124.25 76.65 L124.50 76.09 L124.75 75.51 L125.00 75.09 L125.25 75.03 L125.50 75.43 L125.75 76.23 L126.00 77.06 L126.25 77.31 L126.50 76.18 L126.75 73.14 L127.00 68.37 L127.25 63.04 L127.50 59.00 L127.75 57.82 L128.00 59.83 L128.25 63.88 L128.50 68.15 L128.75 71.32 L129.00 73.20 L129.25 74.53 L129.50 76.04 L129.75 77.79 L130.00 78.90 L130.25 77.94 L130.50 73.68 L130.75 65.84 L131.00 55.68 L131.25 46.00 L131.50 40.89 L131.75 40.89 L132.00 44.93 L132.25 53.12 L132.50 61.54 L132.75 68.35 L133.00 73.14 L133.25 76.23 L133.50 77.73 L133.75 77.36 L134.00 75.00 L134.25 71.42 L134.50 68.30 L134.75 67.26 L135.00 68.59 L135.25 70.90 L135.50 72.17 L135.75 71.36 L136.00 69.25 L136.25 67.72 L136.50 68.23 L136.75 70.85 L137.00 74.50 L137.25 77.93 L137.50 80.53 L137.75 82.41 L138.00 83.88 L138.25 85.20 L138.50 86.38 L138.75 87.38 L139.00 88.12 L139.25 88.62 L139.50 88.92 L139.75 89.07 L140.00 89.15 L140.25 89.18 L140.50 89.19 L140.75 89.20 L141.00 89.20 L141.25 89.20 L141.50 89.20 L141.75 89.20 L142.00 89.20 L142.25 89.20 L142.50 89.20 L142.75 89.20 L143.00 89.20 L143.25 89.20 L143.50 89.20 L143.75 89.20 L144.00 89.20 L144.25 89.20 L144.50 89.20 L144.75 89.20 L145.00 89.20" stroke="#b8283c" stroke-width="0.8" fill="none" stroke-linejoin="round"/>
<path d="M94.50 89.20 L94.75 89.20 L95.00 89.20 L95.25 89.20 L95.50 89.20 L95.75 89.20 L96.00 89.20 L96.25 89.20 L96.50 89.20 L96.75 89.20 L97.00 89.20 L97.25 89.20 L97.50 89.20 L97.75 89.20 L98.00 89.20 L98.25 89.20 L98.50 89.20 L98.75 89.20 L99.00 89.20 L99.25 89.20 L99.50 89.20 L99.75 89.20 L100.00 89.20 L100.25 89.20 L100.50 89.20 L100.75 89.20 L101.00 89.20 L101.25 89.20 L101.50 89.20 L101.75 89.20 L102.00 89.20 L102.25 89.20 L102.50 89.20 L102.75 89.20 L103.00 89.20 L103.25 89.20 L103.50 89.20 L103.75 89.20 L104.00 89.20 L104.25 89.20 L104.50 89.20 L104.75 89.20 L105.00 89.20 L105.25 89.20 L105.50 89.20 L105.75 89.20 L106.00 89.20 L106.25 89.20 L106.50 89.20 L106.75 89.20 L107.00 89.20 L107.25 89.20 L107.50 89.20 L107.75 89.20 L108.00 89.20 L108.25 89.20 L108.50 89.20 L108.75 89.20 L109.00 89.20 L109.25 89.20 L109.50 89.20 L109.75 89.20 L110.00 89.20 L110.25 89.20 L110.50 89.20 L110.75 89.20 L111.00 89.20 L111.25 89.20 L111.50 89.20 L111.75 89.20 L112.00 89.20 L112.25 89.20 L112.50 89.20 L112.75 89.20 L113.00 89.20 L113.25 89.20 L113.50 89.20 L113.75 89.20 L114.00 89.20 L114.25 89.20 L114.50 89.20 L114.75 89.20 L115.00 89.20 L115.25 89.20 L115.50 89.20 L115.75 89.20 L116.00 89.20 L116.25 89.20 L116.50 89.20 L116.75 89.20 L117.00 89.20 L117.25 89.20 L117.50 89.20 L117.75 89.20 L118.00 89.20 L118.25 89.20 L118.50 89.20 L118.75 89.20 L119.00 89.20 L119.25 89.20 L119.50 89.20 L119.75 89.20 L120.00 89.20 L120.25 89.20 L120.50 89.20 L120.75 89.20 L121.00 89.20 L121.25 89.20 L121.50 89.20 L121.75 89.20 L122.00 89.20 L122.25 89.20 L122.50 89.20 L122.75 89.20 L123.00 89.20 L123.25 89.20 L123.50 89.20 L123.75 89.20 L124.00 89.20 L124.25 89.20 L124.50 89.20 L124.75 89.20 L125.00 89.20 L125.25 89.20 L125.50 89.20 L125.75 89.20 L126.00 89.20 L126.25 89.20 L126.50 89.20 L126.75 89.20 L127.00 89.20 L127.25 89.20 L127.50 89.20 L127.75 89.20 L128.00 89.20 L128.25 89.20 L128.50 89.20 L128.75 89.20 L129.00 89.20 L129.25 89.20 L129.50 89.20 L129.75 89.20 L130.00 89.20 L130.25 89.20 L130.50 89.20 L130.75 89.20 L131.00 89.20 L131.25 89.20 L131.50 89.20 L131.75 89.20 L132.00 89.20 L132.25 89.20 L132.50 89.19 L132.75 89.18 L133.00 89.13 L133.25 89.02 L133.50 88.76 L133.75 88.24 L134.00 87.27 L134.25 85.69 L134.50 83.37 L134.75 80.39 L135.00 77.05 L135.25 73.83 L135.50 71.21 L135.75 69.38 L136.00 68.07 L136.25 66.70 L136.50 64.67 L136.75 61.94 L137.00 59.16 L137.25 57.46 L137.50 57.80 L137.75 60.41 L138.00 64.62 L138.25 69.24 L138.50 73.19 L138.75 75.92 L139.00 77.46 L139.25 78.23 L139.50 78.72 L139.75 79.31 L140.00 80.19 L140.25 81.36 L140.50 82.71 L140.75 84.10 L141.00 85.40 L141.25 86.52 L141.50 87.41 L141.75 88.06 L142.00 88.52 L142.25 88.81 L142.50 88.99 L142.75 89.09 L143.00 89.15 L143.25 89.18 L143.50 89.19 L143.75 89.20 L144.00 89.20 L144.25 89.20 L144.50 89.20 L144.75 89.20 L145.00 89.20" stroke="#222" stroke-width="0.8" fill="none" stroke-linejoin="round"/>
<line x1="94.90" y1="89.40" x2="141.00" y2="89.40" stroke="#5a9a30" stroke-width="1.0"/>
<rect x="157.50" y="38.50" width="51.00" height="51.00" fill="#fff" stroke="#3a3a3a" stroke-width="0.8"/>
<line x1="156.50" y1="89.50" x2="157.50" y2="89.50" stroke="#666" stroke-width="0.5"/>
<text x="154.15" y="90.50" font-size="2.90" fill="#333" font-weight="bold" textLength="1.55" lengthAdjust="spacingAndGlyphs">0</text>
<line x1="156.50" y1="79.60" x2="157.50" y2="79.60" stroke="#666" stroke-width="0.5"/>
<text x="152.60" y="80.60" font-size="2.90" fill="#333" font-weight="bold" textLength="3.10" lengthAdjust="spacingAndGlyphs">20</text>
<line x1="156.50" y1="69.70" x2="157.50" y2="69.70" stroke="#666" stroke-width="0.5"/>
<text x="152.60" y="70.70" font-size="2.90" fill="#333" font-weight="bold" textLength="3.10" lengthAdjust="spacingAndGlyphs">40</text>
<line x1="156.50" y1="59.80" x2="157.50" y2="59.80" stroke="#666" stroke-width="0.5"/>
<text x="152.60" y="60.80" font-size="2.90" fill="#333" font-weight="bold" textLength="3.10" lengthAdjust="spacingAndGlyphs">60</text>
<line x1="156.50" y1="49.90" x2="157.50" y2="49.90" stroke="#666" stroke-width="0.5"/>
<text x="152.60" y="50.90" font-size="2.90" fill="#333" font-weight="bold" textLength="3.10" lengthAdjust="spacingAndGlyphs">80</text>
<line x1="156.50" y1="40.00" x2="157.50" y2="40.00" stroke="#666" stroke-width="0.5"/>
<text x="151.05" y="41.00" font-size="2.90" fill="#333" font-weight="bold" textLength="4.65" lengthAdjust="spacingAndGlyphs">100</text>
<line x1="157.50" y1="89.50" x2="157.50" y2="90.50" stroke="#666" stroke-width="0.5"/>
<text x="156.10" y="93.80" font-size="2.6" fill="#333" font-weight="bold">10<tspan dy="-1" font-size="1.9">0</tspan></text>
<line x1="170.25" y1="89.50" x2="170.25" y2="90.50" stroke="#666" stroke-width="0.5"/>
<text x="168.85" y="93.80" font-size="2.6" fill="#333" font-weight="bold">10<tspan dy="-1" font-size="1.9">1</tspan></text>
<line x1="183.00" y1="89.50" x2="183.00" y2="90.50" stroke="#666" stroke-width="0.5"/>
<text x="181.60" y="93.80" font-size="2.6" fill="#333" font-weight="bold">10<tspan dy="-1" font-size="1.9">2</tspan></text>
<line x1="195.75" y1="89.50" x2="195.75" y2="90.50" stroke="#666" stroke-width="0.5"/>
<text x="194.35" y="93.80" font-size="2.6" fill="#333" font-weight="bold">10<tspan dy="-1" font-size="1.9">3</tspan></text>
<line x1="208.50" y1="89.50" x2="208.50" y2="90.50" stroke="#666" stroke-width="0.5"/>
<text x="207.10" y="93.80" font-size="2.6" fill="#333" font-weight="bold">10<tspan dy="-1" font-size="1.9">4</tspan></text>
<path d="M157.50 89.20 L157.75 89.20 L158.00 89.20 L158.25 89.20 L158.50 89.20 L158.75 89.20 L159.00 89.20 L159.25 89.20 L159.50 89.20 L159.75 89.20 L160.00 89.20 L160.25 89.20 L160.50 89.20 L160.75 89.20 L161.00 89.20 L161.25 89.20 L161.50 89.20 L161.75 89.20 L162.00 89.20 L162.25 89.20 L162.50 89.20 L162.75 89.20 L163.00 89.20 L163.25 89.20 L163.50 89.20 L163.75 89.20 L164.00 89.20 L164.25 89.20 L164.50 89.20 L164.75 89.20 L165.00 89.20 L165.25 89.20 L165.50 89.20 L165.75 89.20 L166.00 89.20 L166.25 89.20 L166.50 89.20 L166.75 89.20 L167.00 89.20 L167.25 89.20 L167.50 89.20 L167.75 89.20 L168.00 89.20 L168.25 89.20 L168.50 89.20 L168.75 89.20 L169.00 89.20 L169.25 89.20 L169.50 89.20 L169.75 89.20 L170.00 89.20 L170.25 89.20 L170.50 89.20 L170.75 89.20 L171.00 89.20 L171.25 89.20 L171.50 89.20 L171.75 89.20 L172.00 89.20 L172.25 89.20 L172.50 89.20 L172.75 89.20 L173.00 89.20 L173.25 89.20 L173.50 89.20 L173.75 89.20 L174.00 89.20 L174.25 89.20 L174.50 89.20 L174.75 89.20 L175.00 89.20 L175.25 89.20 L175.50 89.20 L175.75 89.20 L176.00 89.20 L176.25 89.20 L176.50 89.20 L176.75 89.20 L177.00 89.20 L177.25 89.20 L177.50 89.20 L177.75 89.20 L178.00 89.20 L178.25 89.20 L178.50 89.20 L178.75 89.20 L179.00 89.20 L179.25 89.20 L179.50 89.20 L179.75 89.20 L180.00 89.20 L180.25 89.20 L180.50 89.20 L180.75 89.20 L181.00 89.20 L181.25 89.20 L181.50 89.20 L181.75 89.20 L182.00 89.20 L182.25 89.20 L182.50 89.20 L182.75 89.20 L183.00 89.20 L183.25 89.20 L183.50 89.20 L183.75 89.20 L184.00 89.20 L184.25 89.20 L184.50 89.20 L184.75 89.20 L185.00 89.20 L185.25 89.20 L185.50 89.20 L185.75 89.20 L186.00 89.20 L186.25 89.20 L186.50 89.20 L186.75 89.20 L187.00 89.20 L187.25 89.20 L187.50 89.20 L187.75 89.20 L188.00 89.20 L188.25 89.20 L188.50 89.20 L188.75 89.20 L189.00 89.20 L189.25 89.20 L189.50 89.20 L189.75 89.20 L190.00 89.20 L190.25 89.20 L190.50 89.20 L190.75 89.20 L191.00 89.20 L191.25 89.20 L191.50 89.20 L191.75 89.20 L192.00 89.20 L192.25 89.20 L192.50 89.20 L192.75 89.20 L193.00 89.20 L193.25 89.20 L193.50 89.20 L193.75 89.20 L194.00 89.20 L194.25 89.20 L194.50 89.20 L194.75 89.20 L195.00 89.20 L195.25 89.20 L195.50 89.20 L195.75 89.20 L196.00 89.20 L196.25 89.20 L196.50 89.20 L196.75 89.20 L197.00 89.20 L197.25 89.19 L197.50 89.18 L197.75 89.16 L198.00 89.12 L198.25 89.04 L198.50 88.88 L198.75 88.62 L199.00 88.17 L199.25 87.49 L199.50 86.51 L199.75 85.16 L200.00 83.45 L200.25 81.40 L200.50 79.06 L200.75 76.45 L201.00 73.50 L201.25 69.99 L201.50 65.59 L201.75 59.98 L202.00 53.17 L202.25 45.73 L202.50 40.89 L202.75 40.89 L203.00 40.89 L203.25 40.89 L203.50 41.31 L203.75 49.08 L204.00 57.20 L204.25 64.47 L204.50 70.32 L204.75 74.79 L205.00 78.19 L205.25 80.89 L205.50 83.09 L205.75 84.89 L206.00 86.32 L206.25 87.39 L206.50 88.13 L206.75 88.61 L207.00 88.90 L207.25 89.06 L207.50 89.14 L207.75 89.17 L208.00 89.19 L208.25 89.20 L208.50 89.20" stroke="#343c86" stroke-width="0.8" fill="none" stroke-linejoin="round"/>
<path d="M157.50 89.20 L157.75 89.20 L158.00 89.20 L158.25 89.20 L158.50 89.20 L158.75 89.20 L159.00 89.20 L159.25 89.20 L159.50 89.20 L159.75 89.20 L160.00 89.20 L160.25 89.20 L160.50 89.20 L160.75 89.20 L161.00 89.20 L161.25 89.20 L161.50 89.20 L161.75 89.20 L162.00 89.20 L162.25 89.20 L162.50 89.20 L162.75 89.20 L163.00 89.20 L163.25 89.20 L163.50 89.20 L163.75 89.20 L164.00 89.20 L164.25 89.20 L164.50 89.20 L164.75 89.20 L165.00 89.20 L165.25 89.20 L165.50 89.20 L165.75 89.20 L166.00 89.20 L166.25 89.20 L166.50 89.20 L166.75 89.20 L167.00 89.20 L167.25 89.20 L167.50 89.20 L167.75 89.20 L168.00 89.20 L168.25 89.20 L168.50 89.20 L168.75 89.20 L169.00 89.20 L169.25 89.20 L169.50 89.20 L169.75 89.20 L170.00 89.20 L170.25 89.20 L170.50 89.20 L170.75 89.20 L171.00 89.20 L171.25 89.20 L171.50 89.20 L171.75 89.20 L172.00 89.20 L172.25 89.20 L172.50 89.20 L172.75 89.20 L173.00 89.20 L173.25 89.20 L173.50 89.20 L173.75 89.20 L174.00 89.20 L174.25 89.20 L174.50 89.20 L174.75 89.20 L175.00 89.20 L175.25 89.20 L175.50 89.20 L175.75 89.20 L176.00 89.20 L176.25 89.20 L176.50 89.20 L176.75 89.20 L177.00 89.20 L177.25 89.20 L177.50 89.20 L177.75 89.20 L178.00 89.20 L178.25 89.20 L178.50 89.20 L178.75 89.20 L179.00 89.20 L179.25 89.20 L179.50 89.20 L179.75 89.20 L180.00 89.20 L180.25 89.20 L180.50 89.20 L180.75 89.20 L181.00 89.20 L181.25 89.20 L181.50 89.20 L181.75 89.20 L182.00 89.20 L182.25 89.19 L182.50 89.18 L182.75 89.17 L183.00 89.15 L183.25 89.12 L183.50 89.06 L183.75 88.98 L184.00 88.86 L184.25 88.70 L184.50 88.48 L184.75 88.21 L185.00 87.87 L185.25 87.48 L185.50 87.05 L185.75 86.60 L186.00 86.17 L186.25 85.78 L186.50 85.48 L186.75 85.27 L187.00 85.18 L187.25 85.18 L187.50 85.23 L187.75 85.24 L188.00 85.07 L188.25 84.60 L188.50 83.73 L188.75 82.47 L189.00 80.99 L189.25 79.60 L189.50 78.61 L189.75 78.22 L190.00 78.39 L190.25 78.83 L190.50 79.20 L190.75 79.32 L191.00 79.21 L191.25 79.00 L191.50 78.58 L191.75 77.55 L192.00 75.42 L192.25 72.16 L192.50 68.55 L192.75 65.83 L193.00 64.98 L193.25 65.98 L193.50 67.87 L193.75 69.46 L194.00 70.15 L194.25 70.08 L194.50 69.59 L194.75 68.61 L195.00 66.66 L195.25 63.55 L195.50 60.00 L195.75 57.56 L196.00 57.55 L196.25 60.03 L196.50 63.67 L196.75 66.61 L197.00 67.78 L197.25 67.49 L197.50 66.94 L197.75 67.06 L198.00 67.61 L198.25 67.27 L198.50 64.61 L198.75 59.45 L199.00 53.37 L199.25 49.06 L199.50 48.68 L199.75 52.51 L200.00 58.73 L200.25 64.68 L200.50 68.41 L200.75 69.66 L201.00 69.51 L201.25 69.17 L201.50 68.91 L201.75 67.71 L202.00 64.03 L202.25 57.23 L202.50 48.58 L202.75 41.04 L203.00 40.89 L203.25 40.89 L203.50 47.79 L203.75 57.41 L204.00 66.41 L204.25 73.20 L204.50 77.60 L204.75 80.29 L205.00 82.10 L205.25 83.56 L205.50 84.88 L205.75 86.07 L206.00 87.08 L206.25 87.85 L206.50 88.40 L206.75 88.76 L207.00 88.97 L207.25 89.09 L207.50 89.15 L207.75 89.18 L208.00 89.19 L208.25 89.20 L208.50 89.20" stroke="#7cb030" stroke-width="0.8" fill="none" stroke-linejoin="round"/>
<path d="M157.50 89.20 L157.75 89.20 L158.00 89.20 L158.25 89.20 L158.50 89.20 L158.75 89.20 L159.00 89.20 L159.25 89.20 L159.50 89.20 L159.75 89.20 L160.00 89.20 L160.25 89.20 L160.50 89.20 L160.75 89.20 L161.00 89.20 L161.25 89.20 L161.50 89.20 L161.75 89.20 L162.00 89.20 L162.25 89.20 L162.50 89.20 L162.75 89.20 L163.00 89.20 L163.25 89.20 L163.50 89.20 L163.75 89.20 L164.00 89.20 L164.25 89.20 L164.50 89.20 L164.75 89.20 L165.00 89.20 L165.25 89.20 L165.50 89.20 L165.75 89.20 L166.00 89.20 L166.25 89.20 L166.50 89.20 L166.75 89.20 L167.00 89.20 L167.25 89.20 L167.50 89.20 L167.75 89.20 L168.00 89.20 L168.25 89.20 L168.50 89.20 L168.75 89.20 L169.00 89.20 L169.25 89.20 L169.50 89.20 L169.75 89.20 L170.00 89.20 L170.25 89.20 L170.50 89.20 L170.75 89.20 L171.00 89.20 L171.25 89.20 L171.50 89.20 L171.75 89.20 L172.00 89.20 L172.25 89.20 L172.50 89.20 L172.75 89.20 L173.00 89.20 L173.25 89.20 L173.50 89.20 L173.75 89.20 L174.00 89.20 L174.25 89.20 L174.50 89.20 L174.75 89.20 L175.00 89.20 L175.25 89.20 L175.50 89.20 L175.75 89.20 L176.00 89.20 L176.25 89.20 L176.50 89.20 L176.75 89.20 L177.00 89.20 L177.25 89.20 L177.50 89.20 L177.75 89.20 L178.00 89.20 L178.25 89.20 L178.50 89.20 L178.75 89.19 L179.00 89.19 L179.25 89.18 L179.50 89.17 L179.75 89.16 L180.00 89.14 L180.25 89.10 L180.50 89.06 L180.75 88.99 L181.00 88.91 L181.25 88.80 L181.50 88.66 L181.75 88.49 L182.00 88.29 L182.25 88.06 L182.50 87.80 L182.75 87.51 L183.00 87.21 L183.25 86.90 L183.50 86.57 L183.75 86.22 L184.00 85.84 L184.25 85.39 L184.50 84.86 L184.75 84.23 L185.00 83.47 L185.25 82.60 L185.50 81.62 L185.75 80.52 L186.00 79.27 L186.25 77.76 L186.50 75.86 L186.75 73.51 L187.00 70.82 L187.25 68.14 L187.50 66.01 L187.75 64.96 L188.00 65.24 L188.25 66.59 L188.50 68.39 L188.75 69.94 L189.00 70.85 L189.25 71.13 L189.50 70.80 L189.75 69.41 L190.00 66.06 L190.25 60.07 L190.50 52.02 L190.75 44.17 L191.00 40.89 L191.25 40.89 L191.50 46.50 L191.75 55.05 L192.00 62.80 L192.25 67.54 L192.50 69.09 L192.75 68.90 L193.00 68.79 L193.25 69.67 L193.50 70.93 L193.75 70.90 L194.00 67.92 L194.25 61.60 L194.50 53.47 L194.75 46.51 L195.00 43.60 L195.25 45.92 L195.50 52.15 L195.75 59.37 L196.00 64.84 L196.25 67.44 L196.50 67.91 L196.75 67.80 L197.00 68.15 L197.25 68.81 L197.50 68.70 L197.75 66.92 L198.00 63.72 L198.25 60.57 L198.50 59.30 L198.75 60.92 L199.00 65.01 L199.25 70.10 L199.50 74.67 L199.75 77.87 L200.00 79.74 L200.25 80.77 L200.50 81.55 L200.75 82.42 L201.00 83.49 L201.25 84.69 L201.50 85.86 L201.75 86.90 L202.00 87.72 L202.25 88.31 L202.50 88.70 L202.75 88.94 L203.00 89.07 L203.25 89.14 L203.50 89.18 L203.75 89.19 L204.00 89.20 L204.25 89.20 L204.50 89.20 L204.75 89.20 L205.00 89.20 L205.25 89.20 L205.50 89.20 L205.75 89.20 L206.00 89.20 L206.25 89.20 L206.50 89.20 L206.75 89.20 L207.00 89.20 L207.25 89.20 L207.50 89.20 L207.75 89.20 L208.00 89.20 L208.25 89.20 L208.50 89.20" stroke="#b8283c" stroke-width="0.8" fill="none" stroke-linejoin="round"/>
<path d="M157.50 89.20 L157.75 89.20 L158.00 89.20 L158.25 89.20 L158.50 89.20 L158.75 89.20 L159.00 89.20 L159.25 89.20 L159.50 89.20 L159.75 89.20 L160.00 89.20 L160.25 89.20 L160.50 89.20 L160.75 89.20 L161.00 89.20 L161.25 89.20 L161.50 89.20 L161.75 89.20 L162.00 89.20 L162.25 89.20 L162.50 89.20 L162.75 89.20 L163.00 89.20 L163.25 89.20 L163.50 89.20 L163.75 89.20 L164.00 89.20 L164.25 89.20 L164.50 89.20 L164.75 89.20 L165.00 89.20 L165.25 89.20 L165.50 89.20 L165.75 89.20 L166.00 89.20 L166.25 89.20 L166.50 89.20 L166.75 89.20 L167.00 89.20 L167.25 89.20 L167.50 89.20 L167.75 89.20 L168.00 89.20 L168.25 89.20 L168.50 89.20 L168.75 89.20 L169.00 89.20 L169.25 89.20 L169.50 89.20 L169.75 89.20 L170.00 89.20 L170.25 89.20 L170.50 89.20 L170.75 89.20 L171.00 89.20 L171.25 89.20 L171.50 89.20 L171.75 89.20 L172.00 89.20 L172.25 89.20 L172.50 89.20 L172.75 89.20 L173.00 89.20 L173.25 89.20 L173.50 89.20 L173.75 89.20 L174.00 89.20 L174.25 89.20 L174.50 89.20 L174.75 89.20 L175.00 89.20 L175.25 89.20 L175.50 89.20 L175.75 89.20 L176.00 89.20 L176.25 89.20 L176.50 89.20 L176.75 89.20 L177.00 89.20 L177.25 89.20 L177.50 89.20 L177.75 89.20 L178.00 89.20 L178.25 89.20 L178.50 89.20 L178.75 89.20 L179.00 89.20 L179.25 89.20 L179.50 89.20 L179.75 89.20 L180.00 89.20 L180.25 89.20 L180.50 89.20 L180.75 89.20 L181.00 89.20 L181.25 89.20 L181.50 89.20 L181.75 89.20 L182.00 89.20 L182.25 89.20 L182.50 89.20 L182.75 89.20 L183.00 89.20 L183.25 89.20 L183.50 89.20 L183.75 89.20 L184.00 89.20 L184.25 89.20 L184.50 89.20 L184.75 89.20 L185.00 89.20 L185.25 89.20 L185.50 89.20 L185.75 89.20 L186.00 89.20 L186.25 89.20 L186.50 89.20 L186.75 89.20 L187.00 89.20 L187.25 89.20 L187.50 89.20 L187.75 89.20 L188.00 89.20 L188.25 89.20 L188.50 89.20 L188.75 89.20 L189.00 89.20 L189.25 89.20 L189.50 89.20 L189.75 89.20 L190.00 89.20 L190.25 89.20 L190.50 89.20 L190.75 89.20 L191.00 89.20 L191.25 89.20 L191.50 89.20 L191.75 89.20 L192.00 89.20 L192.25 89.20 L192.50 89.20 L192.75 89.20 L193.00 89.20 L193.25 89.20 L193.50 89.20 L193.75 89.20 L194.00 89.20 L194.25 89.20 L194.50 89.20 L194.75 89.20 L195.00 89.20 L195.25 89.20 L195.50 89.20 L195.75 89.20 L196.00 89.20 L196.25 89.20 L196.50 89.20 L196.75 89.20 L197.00 89.20 L197.25 89.18 L197.50 89.15 L197.75 89.06 L198.00 88.85 L198.25 88.39 L198.50 87.51 L198.75 86.01 L199.00 83.70 L199.25 80.60 L199.50 76.97 L199.75 73.37 L200.00 70.56 L200.25 69.18 L200.50 69.52 L200.75 71.24 L201.00 73.48 L201.25 75.08 L201.50 74.93 L201.75 72.32 L202.00 67.24 L202.25 60.53 L202.50 53.71 L202.75 48.63 L203.00 46.79 L203.25 48.81 L203.50 54.20 L203.75 61.62 L204.00 69.44 L204.25 76.33 L204.50 81.58 L204.75 85.10 L205.00 87.19 L205.25 88.31 L205.50 88.84 L205.75 89.07 L206.00 89.16 L206.25 89.19 L206.50 89.20 L206.75 89.20 L207.00 89.20 L207.25 89.20 L207.50 89.20 L207.75 89.20 L208.00 89.20 L208.25 89.20 L208.50 89.20" stroke="#222" stroke-width="0.8" fill="none" stroke-linejoin="round"/>
<line x1="157.90" y1="89.40" x2="204.50" y2="89.40" stroke="#5a9a30" stroke-width="1.0"/>
<rect x="33.50" y="111.50" width="51.00" height="51.00" fill="#fff" stroke="#3a3a3a" stroke-width="0.8"/>
<line x1="32.50" y1="162.50" x2="33.50" y2="162.50" stroke="#666" stroke-width="0.5"/>
<text x="30.15" y="163.50" font-size="2.90" fill="#333" font-weight="bold" textLength="1.55" lengthAdjust="spacingAndGlyphs">0</text>
<line x1="32.50" y1="152.60" x2="33.50" y2="152.60" stroke="#666" stroke-width="0.5"/>
<text x="28.60" y="153.60" font-size="2.90" fill="#333" font-weight="bold" textLength="3.10" lengthAdjust="spacingAndGlyphs">20</text>
<line x1="32.50" y1="142.70" x2="33.50" y2="142.70" stroke="#666" stroke-width="0.5"/>
<text x="28.60" y="143.70" font-size="2.90" fill="#333" font-weight="bold" textLength="3.10" lengthAdjust="spacingAndGlyphs">40</text>
<line x1="32.50" y1="132.80" x2="33.50" y2="132.80" stroke="#666" stroke-width="0.5"/>
<text x="28.60" y="133.80" font-size="2.90" fill="#333" font-weight="bold" textLength="3.10" lengthAdjust="spacingAndGlyphs">60</text>
<line x1="32.50" y1="122.90" x2="33.50" y2="122.90" stroke="#666" stroke-width="0.5"/>
<text x="28.60" y="123.90" font-size="2.90" fill="#333" font-weight="bold" textLength="3.10" lengthAdjust="spacingAndGlyphs">80</text>
<line x1="32.50" y1="113.00" x2="33.50" y2="113.00" stroke="#666" stroke-width="0.5"/>
<text x="27.05" y="114.00" font-size="2.90" fill="#333" font-weight="bold" textLength="4.65" lengthAdjust="spacingAndGlyphs">100</text>
<line x1="33.50" y1="162.50" x2="33.50" y2="163.50" stroke="#666" stroke-width="0.5"/>
<text x="32.10" y="166.80" font-size="2.6" fill="#333" font-weight="bold">10<tspan dy="-1" font-size="1.9">0</tspan></text>
<line x1="46.25" y1="162.50" x2="46.25" y2="163.50" stroke="#666" stroke-width="0.5"/>
<text x="44.85" y="166.80" font-size="2.6" fill="#333" font-weight="bold">10<tspan dy="-1" font-size="1.9">1</tspan></text>
<line x1="59.00" y1="162.50" x2="59.00" y2="163.50" stroke="#666" stroke-width="0.5"/>
<text x="57.60" y="166.80" font-size="2.6" fill="#333" font-weight="bold">10<tspan dy="-1" font-size="1.9">2</tspan></text>
<line x1="71.75" y1="162.50" x2="71.75" y2="163.50" stroke="#666" stroke-width="0.5"/>
<text x="70.35" y="166.80" font-size="2.6" fill="#333" font-weight="bold">10<tspan dy="-1" font-size="1.9">3</tspan></text>
<line x1="84.50" y1="162.50" x2="84.50" y2="163.50" stroke="#666" stroke-width="0.5"/>
<text x="83.10" y="166.80" font-size="2.6" fill="#333" font-weight="bold">10<tspan dy="-1" font-size="1.9">4</tspan></text>
<path d="M33.50 162.20 L33.75 162.20 L34.00 162.20 L34.25 162.20 L34.50 162.20 L34.75 162.20 L35.00 162.20 L35.25 162.20 L35.50 162.20 L35.75 162.20 L36.00 162.20 L36.25 162.20 L36.50 162.20 L36.75 162.20 L37.00 162.20 L37.25 162.20 L37.50 162.20 L37.75 162.20 L38.00 162.20 L38.25 162.20 L38.50 162.20 L38.75 162.20 L39.00 162.20 L39.25 162.20 L39.50 162.20 L39.75 162.20 L40.00 162.20 L40.25 162.20 L40.50 162.20 L40.75 162.20 L41.00 162.20 L41.25 162.20 L41.50 162.20 L41.75 162.20 L42.00 162.20 L42.25 162.20 L42.50 162.20 L42.75 162.20 L43.00 162.20 L43.25 162.20 L43.50 162.20 L43.75 162.20 L44.00 162.20 L44.25 162.20 L44.50 162.20 L44.75 162.20 L45.00 162.20 L45.25 162.20 L45.50 162.20 L45.75 162.20 L46.00 162.20 L46.25 162.20 L46.50 162.20 L46.75 162.20 L47.00 162.20 L47.25 162.20 L47.50 162.20 L47.75 162.20 L48.00 162.20 L48.25 162.20 L48.50 162.20 L48.75 162.20 L49.00 162.20 L49.25 162.20 L49.50 162.20 L49.75 162.20 L50.00 162.20 L50.25 162.20 L50.50 162.20 L50.75 162.20 L51.00 162.20 L51.25 162.20 L51.50 162.19 L51.75 162.19 L52.00 162.19 L52.25 162.19 L52.50 162.19 L52.75 162.18 L53.00 162.18 L53.25 162.18 L53.50 162.17 L53.75 162.17 L54.00 162.16 L54.25 162.16 L54.50 162.15 L54.75 162.14 L55.00 162.13 L55.25 162.12 L55.50 162.10 L55.75 162.09 L56.00 162.07 L56.25 162.05 L56.50 162.03 L56.75 162.01 L57.00 161.97 L57.25 161.93 L57.50 161.86 L57.75 161.75 L58.00 161.60 L58.25 161.37 L58.50 161.09 L58.75 160.77 L59.00 160.47 L59.25 160.23 L59.50 160.11 L59.75 160.11 L60.00 160.17 L60.25 160.17 L60.50 159.89 L60.75 159.18 L61.00 158.09 L61.25 157.05 L61.50 156.60 L61.75 156.97 L62.00 157.81 L62.25 158.45 L62.50 158.44 L62.75 157.95 L63.00 157.52 L63.25 157.29 L63.50 156.77 L63.75 155.49 L64.00 154.03 L64.25 153.59 L64.50 154.57 L64.75 156.03 L65.00 156.76 L65.25 156.62 L65.50 156.38 L65.75 156.52 L66.00 156.45 L66.25 155.34 L66.50 153.46 L66.75 152.30 L67.00 153.09 L67.25 155.45 L67.50 157.81 L67.75 158.90 L68.00 158.50 L68.25 157.26 L68.50 156.29 L68.75 156.48 L69.00 157.73 L69.25 159.10 L69.50 159.61 L69.75 158.87 L70.00 157.26 L70.25 155.86 L70.50 155.75 L70.75 157.05 L71.00 158.77 L71.25 159.77 L71.50 159.61 L71.75 158.70 L72.00 157.95 L72.25 158.10 L72.50 159.08 L72.75 160.13 L73.00 160.45 L73.25 159.68 L73.50 158.15 L73.75 156.82 L74.00 156.65 L74.25 157.71 L74.50 159.03 L74.75 159.59 L75.00 159.07 L75.25 157.98 L75.50 157.11 L75.75 156.95 L76.00 157.30 L76.25 157.45 L76.50 156.88 L76.75 155.61 L77.00 153.70 L77.25 150.38 L77.50 144.16 L77.75 134.71 L78.00 124.84 L78.25 119.63 L78.50 122.54 L78.75 132.25 L79.00 143.92 L79.25 153.19 L79.50 158.61 L79.75 161.05 L80.00 161.90 L80.25 162.14 L80.50 162.19 L80.75 162.20 L81.00 162.20 L81.25 162.20 L81.50 162.20 L81.75 162.20 L82.00 162.20 L82.25 162.20 L82.50 162.20 L82.75 162.20 L83.00 162.20 L83.25 162.20 L83.50 162.20 L83.75 162.20 L84.00 162.20 L84.25 162.20 L84.50 162.20" stroke="#b8283c" stroke-width="0.8" fill="none" stroke-linejoin="round"/>
<path d="M33.50 162.20 L33.75 162.20 L34.00 162.20 L34.25 162.20 L34.50 162.20 L34.75 162.20 L35.00 162.20 L35.25 162.20 L35.50 162.20 L35.75 162.20 L36.00 162.20 L36.25 162.20 L36.50 162.20 L36.75 162.20 L37.00 162.20 L37.25 162.20 L37.50 162.20 L37.75 162.20 L38.00 162.20 L38.25 162.20 L38.50 162.20 L38.75 162.20 L39.00 162.20 L39.25 162.20 L39.50 162.20 L39.75 162.20 L40.00 162.20 L40.25 162.20 L40.50 162.20 L40.75 162.20 L41.00 162.20 L41.25 162.20 L41.50 162.20 L41.75 162.20 L42.00 162.20 L42.25 162.20 L42.50 162.20 L42.75 162.20 L43.00 162.20 L43.25 162.20 L43.50 162.20 L43.75 162.20 L44.00 162.20 L44.25 162.20 L44.50 162.20 L44.75 162.20 L45.00 162.20 L45.25 162.20 L45.50 162.20 L45.75 162.20 L46.00 162.20 L46.25 162.20 L46.50 162.20 L46.75 162.20 L47.00 162.20 L47.25 162.20 L47.50 162.20 L47.75 162.20 L48.00 162.20 L48.25 162.20 L48.50 162.20 L48.75 162.20 L49.00 162.20 L49.25 162.20 L49.50 162.20 L49.75 162.20 L50.00 162.20 L50.25 162.20 L50.50 162.20 L50.75 162.20 L51.00 162.20 L51.25 162.20 L51.50 162.20 L51.75 162.20 L52.00 162.20 L52.25 162.20 L52.50 162.20 L52.75 162.20 L53.00 162.20 L53.25 162.20 L53.50 162.20 L53.75 162.20 L54.00 162.20 L54.25 162.20 L54.50 162.20 L54.75 162.20 L55.00 162.20 L55.25 162.20 L55.50 162.20 L55.75 162.20 L56.00 162.20 L56.25 162.20 L56.50 162.20 L56.75 162.20 L57.00 162.20 L57.25 162.20 L57.50 162.20 L57.75 162.20 L58.00 162.20 L58.25 162.20 L58.50 162.20 L58.75 162.20 L59.00 162.20 L59.25 162.20 L59.50 162.20 L59.75 162.20 L60.00 162.20 L60.25 162.20 L60.50 162.20 L60.75 162.20 L61.00 162.20 L61.25 162.20 L61.50 162.20 L61.75 162.20 L62.00 162.20 L62.25 162.20 L62.50 162.20 L62.75 162.20 L63.00 162.20 L63.25 162.20 L63.50 162.20 L63.75 162.20 L64.00 162.20 L64.25 162.20 L64.50 162.20 L64.75 162.20 L65.00 162.20 L65.25 162.20 L65.50 162.20 L65.75 162.20 L66.00 162.20 L66.25 162.20 L66.50 162.20 L66.75 162.20 L67.00 162.20 L67.25 162.19 L67.50 162.18 L67.75 162.13 L68.00 162.03 L68.25 161.84 L68.50 161.54 L68.75 161.13 L69.00 160.69 L69.25 160.34 L69.50 160.21 L69.75 160.34 L70.00 160.68 L70.25 161.11 L70.50 161.46 L70.75 161.60 L71.00 161.40 L71.25 160.80 L71.50 159.90 L71.75 159.06 L72.00 158.71 L72.25 159.07 L72.50 159.93 L72.75 160.87 L73.00 161.56 L73.25 161.91 L73.50 161.96 L73.75 161.73 L74.00 161.20 L74.25 160.41 L74.50 159.61 L74.75 159.12 L75.00 159.07 L75.25 159.24 L75.50 159.19 L75.75 158.75 L76.00 158.23 L76.25 158.15 L76.50 158.74 L76.75 159.69 L77.00 160.30 L77.25 159.59 L77.50 156.23 L77.75 148.86 L78.00 137.47 L78.25 125.06 L78.50 117.16 L78.75 118.12 L79.00 127.38 L79.25 140.00 L79.50 150.78 L79.75 157.46 L80.00 160.61 L80.25 161.77 L80.50 162.11 L80.75 162.18 L81.00 162.20 L81.25 162.20 L81.50 162.20 L81.75 162.20 L82.00 162.20 L82.25 162.20 L82.50 162.20 L82.75 162.20 L83.00 162.20 L83.25 162.20 L83.50 162.20 L83.75 162.20 L84.00 162.20 L84.25 162.20 L84.50 162.20" stroke="#7cb030" stroke-width="0.8" fill="none" stroke-linejoin="round"/>
<path d="M33.50 162.20 L33.75 162.20 L34.00 162.20 L34.25 162.20 L34.50 162.20 L34.75 162.20 L35.00 162.20 L35.25 162.20 L35.50 162.20 L35.75 162.20 L36.00 162.20 L36.25 162.20 L36.50 162.20 L36.75 162.20 L37.00 162.20 L37.25 162.20 L37.50 162.20 L37.75 162.20 L38.00 162.20 L38.25 162.20 L38.50 162.20 L38.75 162.20 L39.00 162.20 L39.25 162.20 L39.50 162.20 L39.75 162.20 L40.00 162.20 L40.25 162.20 L40.50 162.20 L40.75 162.20 L41.00 162.20 L41.25 162.20 L41.50 162.20 L41.75 162.20 L42.00 162.20 L42.25 162.20 L42.50 162.20 L42.75 162.20 L43.00 162.20 L43.25 162.20 L43.50 162.20 L43.75 162.20 L44.00 162.20 L44.25 162.20 L44.50 162.20 L44.75 162.20 L45.00 162.20 L45.25 162.20 L45.50 162.20 L45.75 162.20 L46.00 162.20 L46.25 162.20 L46.50 162.20 L46.75 162.20 L47.00 162.20 L47.25 162.20 L47.50 162.20 L47.75 162.20 L48.00 162.20 L48.25 162.20 L48.50 162.20 L48.75 162.20 L49.00 162.20 L49.25 162.20 L49.50 162.20 L49.75 162.20 L50.00 162.20 L50.25 162.20 L50.50 162.20 L50.75 162.20 L51.00 162.20 L51.25 162.20 L51.50 162.20 L51.75 162.20 L52.00 162.20 L52.25 162.20 L52.50 162.20 L52.75 162.20 L53.00 162.20 L53.25 162.20 L53.50 162.20 L53.75 162.20 L54.00 162.20 L54.25 162.20 L54.50 162.20 L54.75 162.20 L55.00 162.20 L55.25 162.20 L55.50 162.20 L55.75 162.20 L56.00 162.20 L56.25 162.20 L56.50 162.20 L56.75 162.20 L57.00 162.20 L57.25 162.20 L57.50 162.20 L57.75 162.20 L58.00 162.20 L58.25 162.20 L58.50 162.20 L58.75 162.20 L59.00 162.20 L59.25 162.20 L59.50 162.20 L59.75 162.20 L60.00 162.20 L60.25 162.20 L60.50 162.20 L60.75 162.20 L61.00 162.20 L61.25 162.20 L61.50 162.20 L61.75 162.20 L62.00 162.20 L62.25 162.20 L62.50 162.20 L62.75 162.20 L63.00 162.20 L63.25 162.20 L63.50 162.20 L63.75 162.20 L64.00 162.20 L64.25 162.20 L64.50 162.20 L64.75 162.20 L65.00 162.20 L65.25 162.20 L65.50 162.20 L65.75 162.20 L66.00 162.20 L66.25 162.20 L66.50 162.20 L66.75 162.20 L67.00 162.20 L67.25 162.20 L67.50 162.20 L67.75 162.20 L68.00 162.20 L68.25 162.20 L68.50 162.20 L68.75 162.20 L69.00 162.20 L69.25 162.20 L69.50 162.20 L69.75 162.20 L70.00 162.20 L70.25 162.20 L70.50 162.20 L70.75 162.20 L71.00 162.20 L71.25 162.20 L71.50 162.20 L71.75 162.20 L72.00 162.20 L72.25 162.20 L72.50 162.20 L72.75 162.20 L73.00 162.20 L73.25 162.20 L73.50 162.20 L73.75 162.20 L74.00 162.20 L74.25 162.20 L74.50 162.19 L74.75 162.17 L75.00 162.13 L75.25 162.04 L75.50 161.86 L75.75 161.56 L76.00 161.10 L76.25 160.47 L76.50 159.73 L76.75 158.99 L77.00 158.36 L77.25 157.78 L77.50 156.65 L77.75 153.04 L78.00 144.02 L78.25 128.85 L78.50 113.89 L78.75 113.89 L79.00 114.31 L79.25 127.73 L79.50 138.71 L79.75 144.52 L80.00 147.24 L80.25 149.21 L80.50 151.29 L80.75 153.40 L81.00 155.28 L81.25 156.78 L81.50 157.89 L81.75 158.71 L82.00 159.33 L82.25 159.84 L82.50 160.29 L82.75 160.68 L83.00 161.03 L83.25 161.33 L83.50 161.57 L83.75 161.76 L84.00 161.90 L84.25 162.01 L84.50 162.08" stroke="#222" stroke-width="0.8" fill="none" stroke-linejoin="round"/>
<line x1="33.90" y1="162.40" x2="80.50" y2="162.40" stroke="#5a9a30" stroke-width="1.0"/>
<rect x="94.50" y="111.50" width="51.00" height="51.00" fill="#fff" stroke="#3a3a3a" stroke-width="0.8"/>
<line x1="93.50" y1="162.50" x2="94.50" y2="162.50" stroke="#666" stroke-width="0.5"/>
<text x="91.15" y="163.50" font-size="2.90" fill="#333" font-weight="bold" textLength="1.55" lengthAdjust="spacingAndGlyphs">0</text>
<line x1="93.50" y1="152.60" x2="94.50" y2="152.60" stroke="#666" stroke-width="0.5"/>
<text x="89.60" y="153.60" font-size="2.90" fill="#333" font-weight="bold" textLength="3.10" lengthAdjust="spacingAndGlyphs">20</text>
<line x1="93.50" y1="142.70" x2="94.50" y2="142.70" stroke="#666" stroke-width="0.5"/>
<text x="89.60" y="143.70" font-size="2.90" fill="#333" font-weight="bold" textLength="3.10" lengthAdjust="spacingAndGlyphs">40</text>
<line x1="93.50" y1="132.80" x2="94.50" y2="132.80" stroke="#666" stroke-width="0.5"/>
<text x="89.60" y="133.80" font-size="2.90" fill="#333" font-weight="bold" textLength="3.10" lengthAdjust="spacingAndGlyphs">60</text>
<line x1="93.50" y1="122.90" x2="94.50" y2="122.90" stroke="#666" stroke-width="0.5"/>
<text x="89.60" y="123.90" font-size="2.90" fill="#333" font-weight="bold" textLength="3.10" lengthAdjust="spacingAndGlyphs">80</text>
<line x1="93.50" y1="113.00" x2="94.50" y2="113.00" stroke="#666" stroke-width="0.5"/>
<text x="88.05" y="114.00" font-size="2.90" fill="#333" font-weight="bold" textLength="4.65" lengthAdjust="spacingAndGlyphs">100</text>
<line x1="94.50" y1="162.50" x2="94.50" y2="163.50" stroke="#666" stroke-width="0.5"/>
<text x="93.10" y="166.80" font-size="2.6" fill="#333" font-weight="bold">10<tspan dy="-1" font-size="1.9">0</tspan></text>
<line x1="107.25" y1="162.50" x2="107.25" y2="163.50" stroke="#666" stroke-width="0.5"/>
<text x="105.85" y="166.80" font-size="2.6" fill="#333" font-weight="bold">10<tspan dy="-1" font-size="1.9">1</tspan></text>
<line x1="120.00" y1="162.50" x2="120.00" y2="163.50" stroke="#666" stroke-width="0.5"/>
<text x="118.60" y="166.80" font-size="2.6" fill="#333" font-weight="bold">10<tspan dy="-1" font-size="1.9">2</tspan></text>
<line x1="132.75" y1="162.50" x2="132.75" y2="163.50" stroke="#666" stroke-width="0.5"/>
<text x="131.35" y="166.80" font-size="2.6" fill="#333" font-weight="bold">10<tspan dy="-1" font-size="1.9">3</tspan></text>
<line x1="145.50" y1="162.50" x2="145.50" y2="163.50" stroke="#666" stroke-width="0.5"/>
<text x="144.10" y="166.80" font-size="2.6" fill="#333" font-weight="bold">10<tspan dy="-1" font-size="1.9">4</tspan></text>
<path d="M94.50 162.20 L94.75 162.20 L95.00 162.20 L95.25 162.20 L95.50 162.20 L95.75 162.20 L96.00 162.20 L96.25 162.20 L96.50 162.20 L96.75 162.20 L97.00 162.20 L97.25 162.20 L97.50 162.20 L97.75 162.20 L98.00 162.20 L98.25 162.20 L98.50 162.20 L98.75 162.20 L99.00 162.20 L99.25 162.20 L99.50 162.20 L99.75 162.20 L100.00 162.20 L100.25 162.20 L100.50 162.20 L100.75 162.20 L101.00 162.20 L101.25 162.20 L101.50 162.20 L101.75 162.20 L102.00 162.20 L102.25 162.20 L102.50 162.20 L102.75 162.20 L103.00 162.20 L103.25 162.20 L103.50 162.20 L103.75 162.20 L104.00 162.20 L104.25 162.20 L104.50 162.20 L104.75 162.20 L105.00 162.20 L105.25 162.20 L105.50 162.20 L105.75 162.20 L106.00 162.20 L106.25 162.20 L106.50 162.20 L106.75 162.20 L107.00 162.20 L107.25 162.20 L107.50 162.20 L107.75 162.20 L108.00 162.20 L108.25 162.20 L108.50 162.20 L108.75 162.20 L109.00 162.20 L109.25 162.20 L109.50 162.20 L109.75 162.20 L110.00 162.20 L110.25 162.20 L110.50 162.20 L110.75 162.20 L111.00 162.20 L111.25 162.20 L111.50 162.20 L111.75 162.20 L112.00 162.20 L112.25 162.20 L112.50 162.20 L112.75 162.20 L113.00 162.20 L113.25 162.20 L113.50 162.20 L113.75 162.20 L114.00 162.20 L114.25 162.20 L114.50 162.20 L114.75 162.20 L115.00 162.20 L115.25 162.20 L115.50 162.20 L115.75 162.20 L116.00 162.20 L116.25 162.20 L116.50 162.20 L116.75 162.20 L117.00 162.20 L117.25 162.20 L117.50 162.20 L117.75 162.20 L118.00 162.20 L118.25 162.20 L118.50 162.20 L118.75 162.20 L119.00 162.20 L119.25 162.20 L119.50 162.20 L119.75 162.20 L120.00 162.20 L120.25 162.20 L120.50 162.20 L120.75 162.20 L121.00 162.20 L121.25 162.20 L121.50 162.20 L121.75 162.20 L122.00 162.20 L122.25 162.20 L122.50 162.20 L122.75 162.20 L123.00 162.20 L123.25 162.20 L123.50 162.20 L123.75 162.20 L124.00 162.20 L124.25 162.20 L124.50 162.20 L124.75 162.20 L125.00 162.20 L125.25 162.20 L125.50 162.20 L125.75 162.20 L126.00 162.20 L126.25 162.20 L126.50 162.20 L126.75 162.20 L127.00 162.20 L127.25 162.20 L127.50 162.20 L127.75 162.20 L128.00 162.20 L128.25 162.20 L128.50 162.20 L128.75 162.20 L129.00 162.20 L129.25 162.20 L129.50 162.20 L129.75 162.20 L130.00 162.20 L130.25 162.20 L130.50 162.20 L130.75 162.20 L131.00 162.20 L131.25 162.20 L131.50 162.20 L131.75 162.19 L132.00 162.19 L132.25 162.17 L132.50 162.14 L132.75 162.08 L133.00 161.98 L133.25 161.82 L133.50 161.57 L133.75 161.22 L134.00 160.76 L134.25 160.18 L134.50 159.51 L134.75 158.82 L135.00 158.16 L135.25 157.63 L135.50 157.30 L135.75 157.22 L136.00 157.39 L136.25 157.76 L136.50 158.23 L136.75 158.61 L137.00 158.62 L137.25 157.84 L137.50 155.78 L137.75 151.94 L138.00 146.02 L138.25 138.26 L138.50 129.54 L138.75 121.38 L139.00 115.48 L139.25 113.89 L139.50 114.36 L139.75 118.57 L140.00 124.28 L140.25 130.13 L140.50 135.34 L140.75 139.79 L141.00 143.75 L141.25 147.49 L141.50 151.08 L141.75 154.35 L142.00 157.07 L142.25 159.09 L142.50 160.40 L142.75 161.08 L143.00 161.29 L143.25 161.14 L143.50 160.75 L143.75 160.23 L144.00 159.72 L144.25 159.35 L144.50 159.21 L144.75 159.35 L145.00 159.73 L145.25 160.25 L145.50 160.81" stroke="#343c86" stroke-width="0.8" fill="none" stroke-linejoin="round"/>
<path d="M94.50 162.20 L94.75 162.20 L95.00 162.20 L95.25 162.20 L95.50 162.20 L95.75 162.20 L96.00 162.20 L96.25 162.20 L96.50 162.20 L96.75 162.20 L97.00 162.20 L97.25 162.20 L97.50 162.20 L97.75 162.20 L98.00 162.20 L98.25 162.20 L98.50 162.20 L98.75 162.20 L99.00 162.20 L99.25 162.20 L99.50 162.20 L99.75 162.20 L100.00 162.20 L100.25 162.20 L100.50 162.20 L100.75 162.20 L101.00 162.20 L101.25 162.20 L101.50 162.20 L101.75 162.20 L102.00 162.20 L102.25 162.20 L102.50 162.20 L102.75 162.20 L103.00 162.20 L103.25 162.20 L103.50 162.20 L103.75 162.20 L104.00 162.20 L104.25 162.20 L104.50 162.20 L104.75 162.20 L105.00 162.20 L105.25 162.20 L105.50 162.20 L105.75 162.20 L106.00 162.20 L106.25 162.20 L106.50 162.20 L106.75 162.20 L107.00 162.20 L107.25 162.20 L107.50 162.20 L107.75 162.20 L108.00 162.20 L108.25 162.20 L108.50 162.20 L108.75 162.20 L109.00 162.20 L109.25 162.20 L109.50 162.20 L109.75 162.20 L110.00 162.20 L110.25 162.20 L110.50 162.20 L110.75 162.20 L111.00 162.20 L111.25 162.20 L111.50 162.20 L111.75 162.20 L112.00 162.20 L112.25 162.20 L112.50 162.20 L112.75 162.20 L113.00 162.20 L113.25 162.20 L113.50 162.20 L113.75 162.20 L114.00 162.20 L114.25 162.20 L114.50 162.20 L114.75 162.20 L115.00 162.20 L115.25 162.20 L115.50 162.20 L115.75 162.20 L116.00 162.20 L116.25 162.19 L116.50 162.19 L116.75 162.18 L117.00 162.17 L117.25 162.15 L117.50 162.11 L117.75 162.06 L118.00 161.99 L118.25 161.88 L118.50 161.74 L118.75 161.55 L119.00 161.30 L119.25 160.99 L119.50 160.60 L119.75 160.11 L120.00 159.51 L120.25 158.76 L120.50 157.86 L120.75 156.81 L121.00 155.63 L121.25 154.38 L121.50 153.18 L121.75 152.16 L122.00 151.44 L122.25 151.14 L122.50 151.30 L122.75 151.86 L123.00 152.72 L123.25 153.66 L123.50 154.43 L123.75 154.81 L124.00 154.59 L124.25 153.68 L124.50 152.09 L124.75 149.96 L125.00 147.57 L125.25 145.27 L125.50 143.44 L125.75 142.39 L126.00 142.33 L126.25 143.28 L126.50 145.11 L126.75 147.53 L127.00 150.18 L127.25 152.60 L127.50 154.31 L127.75 154.69 L128.00 153.10 L128.25 148.96 L128.50 142.13 L128.75 133.30 L129.00 124.12 L129.25 116.84 L129.50 113.89 L129.75 114.42 L130.00 119.04 L130.25 125.29 L130.50 131.17 L130.75 135.53 L131.00 138.22 L131.25 139.57 L131.50 139.82 L131.75 138.80 L132.00 136.17 L132.25 131.98 L132.50 127.09 L132.75 123.01 L133.00 121.25 L133.25 122.47 L133.50 126.15 L133.75 130.95 L134.00 135.49 L134.25 138.95 L134.50 141.22 L134.75 142.54 L135.00 143.05 L135.25 142.62 L135.50 141.08 L135.75 138.48 L136.00 135.39 L136.25 132.73 L136.50 131.45 L136.75 132.09 L137.00 134.57 L137.25 138.31 L137.50 142.52 L137.75 146.56 L138.00 150.05 L138.25 152.92 L138.50 155.25 L138.75 157.13 L139.00 158.63 L139.25 159.81 L139.50 160.69 L139.75 161.30 L140.00 161.70 L140.25 161.94 L140.50 162.07 L140.75 162.14 L141.00 162.18 L141.25 162.19 L141.50 162.20 L141.75 162.20 L142.00 162.20 L142.25 162.20 L142.50 162.20 L142.75 162.20 L143.00 162.20 L143.25 162.20 L143.50 162.20 L143.75 162.20 L144.00 162.20 L144.25 162.20 L144.50 162.20 L144.75 162.20 L145.00 162.20 L145.25 162.20 L145.50 162.20" stroke="#7cb030" stroke-width="0.8" fill="none" stroke-linejoin="round"/>
<path d="M94.50 162.20 L94.75 162.20 L95.00 162.20 L95.25 162.20 L95.50 162.20 L95.75 162.20 L96.00 162.20 L96.25 162.20 L96.50 162.20 L96.75 162.20 L97.00 162.20 L97.25 162.20 L97.50 162.20 L97.75 162.20 L98.00 162.20 L98.25 162.20 L98.50 162.20 L98.75 162.20 L99.00 162.20 L99.25 162.20 L99.50 162.20 L99.75 162.20 L100.00 162.20 L100.25 162.20 L100.50 162.20 L100.75 162.20 L101.00 162.20 L101.25 162.20 L101.50 162.20 L101.75 162.20 L102.00 162.20 L102.25 162.20 L102.50 162.20 L102.75 162.20 L103.00 162.20 L103.25 162.20 L103.50 162.20 L103.75 162.20 L104.00 162.20 L104.25 162.20 L104.50 162.20 L104.75 162.20 L105.00 162.20 L105.25 162.20 L105.50 162.20 L105.75 162.20 L106.00 162.20 L106.25 162.20 L106.50 162.20 L106.75 162.20 L107.00 162.20 L107.25 162.20 L107.50 162.20 L107.75 162.20 L108.00 162.20 L108.25 162.20 L108.50 162.20 L108.75 162.20 L109.00 162.20 L109.25 162.20 L109.50 162.20 L109.75 162.20 L110.00 162.20 L110.25 162.20 L110.50 162.20 L110.75 162.20 L111.00 162.20 L111.25 162.20 L111.50 162.20 L111.75 162.20 L112.00 162.20 L112.25 162.20 L112.50 162.20 L112.75 162.19 L113.00 162.18 L113.25 162.17 L113.50 162.15 L113.75 162.12 L114.00 162.06 L114.25 161.98 L114.50 161.85 L114.75 161.68 L115.00 161.43 L115.25 161.10 L115.50 160.66 L115.75 160.09 L116.00 159.37 L116.25 158.47 L116.50 157.38 L116.75 156.11 L117.00 154.68 L117.25 153.19 L117.50 151.73 L117.75 150.46 L118.00 149.53 L118.25 149.08 L118.50 149.17 L118.75 149.78 L119.00 150.77 L119.25 151.82 L119.50 152.52 L119.75 152.29 L120.00 150.60 L120.25 147.04 L120.50 141.66 L120.75 135.09 L121.00 128.53 L121.25 123.47 L121.50 121.04 L121.75 121.60 L122.00 124.52 L122.25 128.54 L122.50 132.35 L122.75 135.13 L123.00 136.67 L123.25 137.08 L123.50 136.37 L123.75 134.22 L124.00 130.24 L124.25 124.60 L124.50 118.43 L124.75 113.89 L125.00 113.89 L125.25 114.51 L125.50 120.19 L125.75 127.19 L126.00 133.49 L126.25 137.83 L126.50 140.05 L126.75 140.70 L127.00 140.51 L127.25 139.91 L127.50 139.02 L127.75 137.83 L128.00 136.45 L128.25 135.19 L128.50 134.46 L128.75 134.61 L129.00 135.71 L129.25 137.58 L129.50 139.86 L129.75 142.17 L130.00 144.27 L130.25 146.05 L130.50 147.56 L130.75 148.85 L131.00 149.99 L131.25 150.99 L131.50 151.89 L131.75 152.70 L132.00 153.48 L132.25 154.28 L132.50 155.12 L132.75 155.97 L133.00 156.78 L133.25 157.48 L133.50 158.03 L133.75 158.41 L134.00 158.66 L134.25 158.82 L134.50 158.97 L134.75 159.16 L135.00 159.40 L135.25 159.71 L135.50 160.06 L135.75 160.44 L136.00 160.80 L136.25 161.14 L136.50 161.43 L136.75 161.66 L137.00 161.84 L137.25 161.97 L137.50 162.06 L137.75 162.12 L138.00 162.15 L138.25 162.17 L138.50 162.19 L138.75 162.19 L139.00 162.20 L139.25 162.20 L139.50 162.20 L139.75 162.20 L140.00 162.20 L140.25 162.20 L140.50 162.20 L140.75 162.20 L141.00 162.20 L141.25 162.20 L141.50 162.20 L141.75 162.20 L142.00 162.20 L142.25 162.20 L142.50 162.20 L142.75 162.20 L143.00 162.20 L143.25 162.20 L143.50 162.20 L143.75 162.20 L144.00 162.20 L144.25 162.20 L144.50 162.20 L144.75 162.20 L145.00 162.20 L145.25 162.20 L145.50 162.20" stroke="#b8283c" stroke-width="0.8" fill="none" stroke-linejoin="round"/>
<path d="M94.50 162.20 L94.75 162.20 L95.00 162.20 L95.25 162.20 L95.50 162.20 L95.75 162.20 L96.00 162.20 L96.25 162.20 L96.50 162.20 L96.75 162.20 L97.00 162.20 L97.25 162.20 L97.50 162.20 L97.75 162.20 L98.00 162.20 L98.25 162.20 L98.50 162.20 L98.75 162.20 L99.00 162.20 L99.25 162.20 L99.50 162.20 L99.75 162.20 L100.00 162.20 L100.25 162.20 L100.50 162.20 L100.75 162.20 L101.00 162.20 L101.25 162.20 L101.50 162.20 L101.75 162.20 L102.00 162.20 L102.25 162.20 L102.50 162.20 L102.75 162.20 L103.00 162.20 L103.25 162.20 L103.50 162.20 L103.75 162.20 L104.00 162.20 L104.25 162.20 L104.50 162.20 L104.75 162.20 L105.00 162.20 L105.25 162.20 L105.50 162.20 L105.75 162.20 L106.00 162.20 L106.25 162.20 L106.50 162.20 L106.75 162.20 L107.00 162.20 L107.25 162.20 L107.50 162.20 L107.75 162.20 L108.00 162.20 L108.25 162.20 L108.50 162.20 L108.75 162.20 L109.00 162.20 L109.25 162.20 L109.50 162.20 L109.75 162.20 L110.00 162.20 L110.25 162.20 L110.50 162.20 L110.75 162.20 L111.00 162.20 L111.25 162.20 L111.50 162.20 L111.75 162.20 L112.00 162.20 L112.25 162.20 L112.50 162.20 L112.75 162.20 L113.00 162.20 L113.25 162.20 L113.50 162.20 L113.75 162.20 L114.00 162.20 L114.25 162.20 L114.50 162.20 L114.75 162.20 L115.00 162.20 L115.25 162.20 L115.50 162.20 L115.75 162.20 L116.00 162.20 L116.25 162.20 L116.50 162.20 L116.75 162.20 L117.00 162.20 L117.25 162.20 L117.50 162.20 L117.75 162.20 L118.00 162.20 L118.25 162.20 L118.50 162.20 L118.75 162.20 L119.00 162.20 L119.25 162.20 L119.50 162.20 L119.75 162.20 L120.00 162.20 L120.25 162.20 L120.50 162.20 L120.75 162.20 L121.00 162.20 L121.25 162.20 L121.50 162.20 L121.75 162.20 L122.00 162.20 L122.25 162.20 L122.50 162.20 L122.75 162.20 L123.00 162.20 L123.25 162.20 L123.50 162.19 L123.75 162.17 L124.00 162.11 L124.25 161.99 L124.50 161.73 L124.75 161.23 L125.00 160.41 L125.25 159.17 L125.50 157.55 L125.75 155.71 L126.00 153.97 L126.25 152.70 L126.50 152.24 L126.75 152.70 L127.00 153.95 L127.25 155.66 L127.50 157.37 L127.75 158.65 L128.00 159.06 L128.25 158.20 L128.50 155.79 L128.75 151.85 L129.00 147.02 L129.25 142.58 L129.50 140.02 L129.75 140.33 L130.00 143.40 L130.25 148.10 L130.50 152.98 L130.75 156.92 L131.00 159.49 L131.25 160.76 L131.50 160.94 L131.75 160.08 L132.00 158.06 L132.25 154.79 L132.50 150.56 L132.75 146.25 L133.00 143.14 L133.25 142.33 L133.50 144.15 L133.75 147.90 L134.00 152.32 L134.25 156.20 L134.50 158.90 L134.75 160.25 L135.00 160.37 L135.25 159.31 L135.50 157.15 L135.75 154.13 L136.00 150.84 L136.25 148.25 L136.50 147.26 L136.75 148.25 L137.00 150.84 L137.25 154.14 L137.50 157.21 L137.75 159.51 L138.00 160.94 L138.25 161.68 L138.50 162.01 L138.75 162.14 L139.00 162.18 L139.25 162.20 L139.50 162.20 L139.75 162.20 L140.00 162.20 L140.25 162.20 L140.50 162.20 L140.75 162.20 L141.00 162.20 L141.25 162.20 L141.50 162.20 L141.75 162.20 L142.00 162.20 L142.25 162.20 L142.50 162.20 L142.75 162.20 L143.00 162.20 L143.25 162.20 L143.50 162.20 L143.75 162.20 L144.00 162.20 L144.25 162.20 L144.50 162.20 L144.75 162.20 L145.00 162.20 L145.25 162.20 L145.50 162.20" stroke="#222" stroke-width="0.8" fill="none" stroke-linejoin="round"/>
<line x1="94.90" y1="162.40" x2="141.50" y2="162.40" stroke="#5a9a30" stroke-width="1.0"/>
<rect x="157.50" y="111.50" width="51.00" height="51.00" fill="#fff" stroke="#3a3a3a" stroke-width="0.8"/>
<line x1="156.50" y1="162.50" x2="157.50" y2="162.50" stroke="#666" stroke-width="0.5"/>
<text x="154.15" y="163.50" font-size="2.90" fill="#333" font-weight="bold" textLength="1.55" lengthAdjust="spacingAndGlyphs">0</text>
<line x1="156.50" y1="152.60" x2="157.50" y2="152.60" stroke="#666" stroke-width="0.5"/>
<text x="152.60" y="153.60" font-size="2.90" fill="#333" font-weight="bold" textLength="3.10" lengthAdjust="spacingAndGlyphs">20</text>
<line x1="156.50" y1="142.70" x2="157.50" y2="142.70" stroke="#666" stroke-width="0.5"/>
<text x="152.60" y="143.70" font-size="2.90" fill="#333" font-weight="bold" textLength="3.10" lengthAdjust="spacingAndGlyphs">40</text>
<line x1="156.50" y1="132.80" x2="157.50" y2="132.80" stroke="#666" stroke-width="0.5"/>
<text x="152.60" y="133.80" font-size="2.90" fill="#333" font-weight="bold" textLength="3.10" lengthAdjust="spacingAndGlyphs">60</text>
<line x1="156.50" y1="122.90" x2="157.50" y2="122.90" stroke="#666" stroke-width="0.5"/>
<text x="152.60" y="123.90" font-size="2.90" fill="#333" font-weight="bold" textLength="3.10" lengthAdjust="spacingAndGlyphs">80</text>
<line x1="156.50" y1="113.00" x2="157.50" y2="113.00" stroke="#666" stroke-width="0.5"/>
<text x="151.05" y="114.00" font-size="2.90" fill="#333" font-weight="bold" textLength="4.65" lengthAdjust="spacingAndGlyphs">100</text>
<line x1="157.50" y1="162.50" x2="157.50" y2="163.50" stroke="#666" stroke-width="0.5"/>
<text x="156.10" y="166.80" font-size="2.6" fill="#333" font-weight="bold">10<tspan dy="-1" font-size="1.9">0</tspan></text>
<line x1="170.25" y1="162.50" x2="170.25" y2="163.50" stroke="#666" stroke-width="0.5"/>
<text x="168.85" y="166.80" font-size="2.6" fill="#333" font-weight="bold">10<tspan dy="-1" font-size="1.9">1</tspan></text>
<line x1="183.00" y1="162.50" x2="183.00" y2="163.50" stroke="#666" stroke-width="0.5"/>
<text x="181.60" y="166.80" font-size="2.6" fill="#333" font-weight="bold">10<tspan dy="-1" font-size="1.9">2</tspan></text>
<line x1="195.75" y1="162.50" x2="195.75" y2="163.50" stroke="#666" stroke-width="0.5"/>
<text x="194.35" y="166.80" font-size="2.6" fill="#333" font-weight="bold">10<tspan dy="-1" font-size="1.9">3</tspan></text>
<line x1="208.50" y1="162.50" x2="208.50" y2="163.50" stroke="#666" stroke-width="0.5"/>
<text x="207.10" y="166.80" font-size="2.6" fill="#333" font-weight="bold">10<tspan dy="-1" font-size="1.9">4</tspan></text>
<path d="M157.50 162.20 L157.75 162.20 L158.00 162.20 L158.25 162.20 L158.50 162.20 L158.75 162.20 L159.00 162.20 L159.25 162.20 L159.50 162.20 L159.75 162.20 L160.00 162.20 L160.25 162.20 L160.50 162.20 L160.75 162.20 L161.00 162.20 L161.25 162.20 L161.50 162.20 L161.75 162.20 L162.00 162.20 L162.25 162.20 L162.50 162.20 L162.75 162.20 L163.00 162.20 L163.25 162.20 L163.50 162.20 L163.75 162.20 L164.00 162.20 L164.25 162.20 L164.50 162.20 L164.75 162.20 L165.00 162.20 L165.25 162.20 L165.50 162.20 L165.75 162.20 L166.00 162.20 L166.25 162.20 L166.50 162.20 L166.75 162.20 L167.00 162.20 L167.25 162.20 L167.50 162.20 L167.75 162.20 L168.00 162.20 L168.25 162.20 L168.50 162.20 L168.75 162.20 L169.00 162.20 L169.25 162.20 L169.50 162.20 L169.75 162.20 L170.00 162.20 L170.25 162.20 L170.50 162.20 L170.75 162.20 L171.00 162.20 L171.25 162.20 L171.50 162.20 L171.75 162.20 L172.00 162.20 L172.25 162.20 L172.50 162.20 L172.75 162.20 L173.00 162.20 L173.25 162.20 L173.50 162.20 L173.75 162.20 L174.00 162.20 L174.25 162.20 L174.50 162.20 L174.75 162.20 L175.00 162.20 L175.25 162.20 L175.50 162.20 L175.75 162.20 L176.00 162.20 L176.25 162.20 L176.50 162.20 L176.75 162.20 L177.00 162.20 L177.25 162.20 L177.50 162.20 L177.75 162.20 L178.00 162.20 L178.25 162.20 L178.50 162.20 L178.75 162.20 L179.00 162.20 L179.25 162.20 L179.50 162.20 L179.75 162.20 L180.00 162.20 L180.25 162.20 L180.50 162.20 L180.75 162.20 L181.00 162.20 L181.25 162.20 L181.50 162.20 L181.75 162.20 L182.00 162.20 L182.25 162.20 L182.50 162.20 L182.75 162.20 L183.00 162.20 L183.25 162.20 L183.50 162.20 L183.75 162.20 L184.00 162.20 L184.25 162.20 L184.50 162.20 L184.75 162.20 L185.00 162.20 L185.25 162.20 L185.50 162.20 L185.75 162.20 L186.00 162.20 L186.25 162.20 L186.50 162.20 L186.75 162.20 L187.00 162.20 L187.25 162.20 L187.50 162.20 L187.75 162.20 L188.00 162.20 L188.25 162.20 L188.50 162.20 L188.75 162.20 L189.00 162.20 L189.25 162.20 L189.50 162.20 L189.75 162.20 L190.00 162.20 L190.25 162.20 L190.50 162.20 L190.75 162.20 L191.00 162.20 L191.25 162.20 L191.50 162.20 L191.75 162.20 L192.00 162.20 L192.25 162.20 L192.50 162.20 L192.75 162.20 L193.00 162.20 L193.25 162.20 L193.50 162.20 L193.75 162.20 L194.00 162.20 L194.25 162.20 L194.50 162.19 L194.75 162.19 L195.00 162.17 L195.25 162.15 L195.50 162.09 L195.75 162.01 L196.00 161.86 L196.25 161.63 L196.50 161.30 L196.75 160.85 L197.00 160.28 L197.25 159.60 L197.50 158.81 L197.75 157.92 L198.00 156.90 L198.25 155.66 L198.50 154.08 L198.75 152.04 L199.00 149.53 L199.25 146.73 L199.50 143.97 L199.75 141.54 L200.00 139.47 L200.25 137.29 L200.50 134.21 L200.75 129.62 L201.00 123.67 L201.25 117.65 L201.50 113.89 L201.75 113.89 L202.00 116.93 L202.25 123.74 L202.50 131.37 L202.75 137.65 L203.00 141.33 L203.25 142.46 L203.50 142.09 L203.75 141.58 L204.00 142.04 L204.25 143.93 L204.50 147.02 L204.75 150.70 L205.00 154.28 L205.25 157.23 L205.50 159.37 L205.75 160.73 L206.00 161.51 L206.25 161.90 L206.50 162.08 L206.75 162.16 L207.00 162.19 L207.25 162.20 L207.50 162.20 L207.75 162.20 L208.00 162.20 L208.25 162.20 L208.50 162.20" stroke="#343c86" stroke-width="0.8" fill="none" stroke-linejoin="round"/>
<path d="M157.50 162.20 L157.75 162.20 L158.00 162.20 L158.25 162.20 L158.50 162.20 L158.75 162.20 L159.00 162.20 L159.25 162.20 L159.50 162.20 L159.75 162.20 L160.00 162.20 L160.25 162.20 L160.50 162.20 L160.75 162.20 L161.00 162.20 L161.25 162.20 L161.50 162.20 L161.75 162.20 L162.00 162.20 L162.25 162.20 L162.50 162.20 L162.75 162.20 L163.00 162.20 L163.25 162.20 L163.50 162.20 L163.75 162.20 L164.00 162.20 L164.25 162.20 L164.50 162.20 L164.75 162.20 L165.00 162.20 L165.25 162.20 L165.50 162.20 L165.75 162.20 L166.00 162.20 L166.25 162.20 L166.50 162.20 L166.75 162.20 L167.00 162.20 L167.25 162.20 L167.50 162.20 L167.75 162.20 L168.00 162.20 L168.25 162.20 L168.50 162.20 L168.75 162.20 L169.00 162.20 L169.25 162.20 L169.50 162.20 L169.75 162.20 L170.00 162.20 L170.25 162.20 L170.50 162.20 L170.75 162.20 L171.00 162.20 L171.25 162.20 L171.50 162.20 L171.75 162.20 L172.00 162.20 L172.25 162.20 L172.50 162.20 L172.75 162.20 L173.00 162.20 L173.25 162.20 L173.50 162.20 L173.75 162.20 L174.00 162.20 L174.25 162.20 L174.50 162.20 L174.75 162.20 L175.00 162.20 L175.25 162.20 L175.50 162.20 L175.75 162.20 L176.00 162.20 L176.25 162.20 L176.50 162.20 L176.75 162.20 L177.00 162.20 L177.25 162.20 L177.50 162.20 L177.75 162.20 L178.00 162.20 L178.25 162.20 L178.50 162.20 L178.75 162.20 L179.00 162.20 L179.25 162.20 L179.50 162.19 L179.75 162.19 L180.00 162.18 L180.25 162.16 L180.50 162.13 L180.75 162.07 L181.00 161.99 L181.25 161.87 L181.50 161.69 L181.75 161.45 L182.00 161.12 L182.25 160.71 L182.50 160.20 L182.75 159.61 L183.00 158.96 L183.25 158.27 L183.50 157.56 L183.75 156.86 L184.00 156.17 L184.25 155.45 L184.50 154.63 L184.75 153.64 L185.00 152.38 L185.25 150.85 L185.50 149.11 L185.75 147.37 L186.00 145.87 L186.25 144.88 L186.50 144.47 L186.75 144.46 L187.00 144.33 L187.25 143.33 L187.50 140.70 L187.75 136.04 L188.00 129.61 L188.25 122.42 L188.50 115.92 L188.75 113.89 L189.00 113.89 L189.25 113.89 L189.50 113.89 L189.75 116.87 L190.00 120.12 L190.25 122.72 L190.50 124.35 L190.75 124.83 L191.00 124.17 L191.25 122.79 L191.50 121.49 L191.75 121.16 L192.00 122.32 L192.25 124.86 L192.50 128.12 L192.75 131.29 L193.00 133.77 L193.25 135.37 L193.50 136.11 L193.75 136.06 L194.00 135.26 L194.25 133.84 L194.50 132.22 L194.75 131.06 L195.00 131.00 L195.25 132.29 L195.50 134.62 L195.75 137.26 L196.00 139.46 L196.25 140.84 L196.50 141.52 L196.75 141.95 L197.00 142.61 L197.25 143.72 L197.50 145.19 L197.75 146.78 L198.00 148.24 L198.25 149.49 L198.50 150.59 L198.75 151.68 L199.00 152.88 L199.25 154.22 L199.50 155.65 L199.75 157.08 L200.00 158.40 L200.25 159.52 L200.50 160.41 L200.75 161.06 L201.00 161.52 L201.25 161.81 L201.50 161.99 L201.75 162.09 L202.00 162.15 L202.25 162.18 L202.50 162.19 L202.75 162.20 L203.00 162.20 L203.25 162.20 L203.50 162.20 L203.75 162.20 L204.00 162.20 L204.25 162.20 L204.50 162.20 L204.75 162.20 L205.00 162.20 L205.25 162.20 L205.50 162.20 L205.75 162.20 L206.00 162.20 L206.25 162.20 L206.50 162.20 L206.75 162.20 L207.00 162.20 L207.25 162.20 L207.50 162.20 L207.75 162.20 L208.00 162.20 L208.25 162.20 L208.50 162.20" stroke="#7cb030" stroke-width="0.8" fill="none" stroke-linejoin="round"/>
<path d="M157.50 162.20 L157.75 162.20 L158.00 162.20 L158.25 162.20 L158.50 162.20 L158.75 162.20 L159.00 162.20 L159.25 162.20 L159.50 162.20 L159.75 162.20 L160.00 162.20 L160.25 162.20 L160.50 162.20 L160.75 162.20 L161.00 162.20 L161.25 162.20 L161.50 162.20 L161.75 162.20 L162.00 162.20 L162.25 162.20 L162.50 162.20 L162.75 162.20 L163.00 162.20 L163.25 162.20 L163.50 162.20 L163.75 162.20 L164.00 162.20 L164.25 162.20 L164.50 162.20 L164.75 162.20 L165.00 162.20 L165.25 162.20 L165.50 162.20 L165.75 162.20 L166.00 162.20 L166.25 162.20 L166.50 162.20 L166.75 162.20 L167.00 162.20 L167.25 162.20 L167.50 162.20 L167.75 162.20 L168.00 162.20 L168.25 162.20 L168.50 162.20 L168.75 162.20 L169.00 162.20 L169.25 162.20 L169.50 162.20 L169.75 162.20 L170.00 162.20 L170.25 162.20 L170.50 162.20 L170.75 162.20 L171.00 162.20 L171.25 162.20 L171.50 162.20 L171.75 162.20 L172.00 162.20 L172.25 162.20 L172.50 162.20 L172.75 162.20 L173.00 162.20 L173.25 162.20 L173.50 162.20 L173.75 162.20 L174.00 162.20 L174.25 162.20 L174.50 162.20 L174.75 162.20 L175.00 162.20 L175.25 162.20 L175.50 162.20 L175.75 162.20 L176.00 162.20 L176.25 162.20 L176.50 162.19 L176.75 162.18 L177.00 162.16 L177.25 162.13 L177.50 162.08 L177.75 161.99 L178.00 161.85 L178.25 161.65 L178.50 161.37 L178.75 160.99 L179.00 160.51 L179.25 159.92 L179.50 159.21 L179.75 158.33 L180.00 157.24 L180.25 155.83 L180.50 154.01 L180.75 151.77 L181.00 149.23 L181.25 146.72 L181.50 144.74 L181.75 143.79 L182.00 144.15 L182.25 145.72 L182.50 147.93 L182.75 149.90 L183.00 150.66 L183.25 149.36 L183.50 145.58 L183.75 139.50 L184.00 131.98 L184.25 124.39 L184.50 118.19 L184.75 114.37 L185.00 113.89 L185.25 113.94 L185.50 115.90 L185.75 118.41 L186.00 121.29 L186.25 124.63 L186.50 128.27 L186.75 131.44 L187.00 132.91 L187.25 131.53 L187.50 127.03 L187.75 120.42 L188.00 113.89 L188.25 113.89 L188.50 113.89 L188.75 113.89 L189.00 114.73 L189.25 119.61 L189.50 124.06 L189.75 127.73 L190.00 130.61 L190.25 132.59 L190.50 133.51 L190.75 133.32 L191.00 132.45 L191.25 131.74 L191.50 132.09 L191.75 134.04 L192.00 137.46 L192.25 141.66 L192.50 145.70 L192.75 148.83 L193.00 150.73 L193.25 151.48 L193.50 151.45 L193.75 151.12 L194.00 150.85 L194.25 150.90 L194.50 151.32 L194.75 152.06 L195.00 152.97 L195.25 153.85 L195.50 154.58 L195.75 155.06 L196.00 155.33 L196.25 155.44 L196.50 155.52 L196.75 155.69 L197.00 156.03 L197.25 156.57 L197.50 157.28 L197.75 158.10 L198.00 158.96 L198.25 159.77 L198.50 160.47 L198.75 161.03 L199.00 161.45 L199.25 161.74 L199.50 161.94 L199.75 162.06 L200.00 162.13 L200.25 162.16 L200.50 162.18 L200.75 162.19 L201.00 162.20 L201.25 162.20 L201.50 162.20 L201.75 162.20 L202.00 162.20 L202.25 162.20 L202.50 162.20 L202.75 162.20 L203.00 162.20 L203.25 162.20 L203.50 162.20 L203.75 162.20 L204.00 162.20 L204.25 162.20 L204.50 162.20 L204.75 162.20 L205.00 162.20 L205.25 162.20 L205.50 162.20 L205.75 162.20 L206.00 162.20 L206.25 162.20 L206.50 162.20 L206.75 162.20 L207.00 162.20 L207.25 162.20 L207.50 162.20 L207.75 162.20 L208.00 162.20 L208.25 162.20 L208.50 162.20" stroke="#b8283c" stroke-width="0.8" fill="none" stroke-linejoin="round"/>
<path d="M157.50 162.20 L157.75 162.20 L158.00 162.20 L158.25 162.20 L158.50 162.20 L158.75 162.20 L159.00 162.20 L159.25 162.20 L159.50 162.20 L159.75 162.20 L160.00 162.20 L160.25 162.20 L160.50 162.20 L160.75 162.20 L161.00 162.20 L161.25 162.20 L161.50 162.20 L161.75 162.20 L162.00 162.20 L162.25 162.20 L162.50 162.20 L162.75 162.20 L163.00 162.20 L163.25 162.20 L163.50 162.20 L163.75 162.20 L164.00 162.20 L164.25 162.20 L164.50 162.20 L164.75 162.20 L165.00 162.20 L165.25 162.20 L165.50 162.20 L165.75 162.20 L166.00 162.20 L166.25 162.20 L166.50 162.20 L166.75 162.20 L167.00 162.20 L167.25 162.20 L167.50 162.20 L167.75 162.20 L168.00 162.20 L168.25 162.20 L168.50 162.20 L168.75 162.20 L169.00 162.20 L169.25 162.20 L169.50 162.20 L169.75 162.20 L170.00 162.20 L170.25 162.20 L170.50 162.20 L170.75 162.20 L171.00 162.20 L171.25 162.20 L171.50 162.20 L171.75 162.20 L172.00 162.20 L172.25 162.20 L172.50 162.20 L172.75 162.20 L173.00 162.20 L173.25 162.20 L173.50 162.20 L173.75 162.20 L174.00 162.20 L174.25 162.20 L174.50 162.20 L174.75 162.20 L175.00 162.20 L175.25 162.20 L175.50 162.20 L175.75 162.20 L176.00 162.20 L176.25 162.20 L176.50 162.20 L176.75 162.20 L177.00 162.20 L177.25 162.20 L177.50 162.20 L177.75 162.20 L178.00 162.20 L178.25 162.20 L178.50 162.20 L178.75 162.20 L179.00 162.20 L179.25 162.20 L179.50 162.20 L179.75 162.20 L180.00 162.20 L180.25 162.20 L180.50 162.20 L180.75 162.20 L181.00 162.20 L181.25 162.20 L181.50 162.20 L181.75 162.20 L182.00 162.20 L182.25 162.20 L182.50 162.20 L182.75 162.20 L183.00 162.20 L183.25 162.20 L183.50 162.20 L183.75 162.20 L184.00 162.20 L184.25 162.20 L184.50 162.20 L184.75 162.20 L185.00 162.20 L185.25 162.20 L185.50 162.19 L185.75 162.16 L186.00 162.07 L186.25 161.75 L186.50 160.92 L186.75 158.99 L187.00 155.18 L187.25 148.83 L187.50 139.98 L187.75 130.00 L188.00 121.48 L188.25 117.20 L188.50 118.60 L188.75 124.82 L189.00 133.13 L189.25 140.44 L189.50 144.75 L189.75 145.67 L190.00 144.12 L190.25 141.57 L190.50 139.38 L190.75 138.40 L191.00 138.86 L191.25 140.49 L191.50 142.80 L191.75 145.31 L192.00 147.77 L192.25 150.08 L192.50 152.27 L192.75 154.34 L193.00 156.26 L193.25 157.95 L193.50 159.34 L193.75 160.40 L194.00 161.14 L194.25 161.61 L194.50 161.90 L194.75 162.06 L195.00 162.14 L195.25 162.17 L195.50 162.19 L195.75 162.20 L196.00 162.20 L196.25 162.20 L196.50 162.20 L196.75 162.20 L197.00 162.20 L197.25 162.20 L197.50 162.20 L197.75 162.20 L198.00 162.20 L198.25 162.20 L198.50 162.20 L198.75 162.20 L199.00 162.20 L199.25 162.20 L199.50 162.20 L199.75 162.20 L200.00 162.20 L200.25 162.20 L200.50 162.20 L200.75 162.20 L201.00 162.20 L201.25 162.20 L201.50 162.20 L201.75 162.20 L202.00 162.20 L202.25 162.20 L202.50 162.20 L202.75 162.20 L203.00 162.20 L203.25 162.20 L203.50 162.20 L203.75 162.20 L204.00 162.20 L204.25 162.20 L204.50 162.20 L204.75 162.20 L205.00 162.20 L205.25 162.20 L205.50 162.20 L205.75 162.20 L206.00 162.20 L206.25 162.20 L206.50 162.20 L206.75 162.20 L207.00 162.20 L207.25 162.20 L207.50 162.20 L207.75 162.20 L208.00 162.20 L208.25 162.20 L208.50 162.20" stroke="#222" stroke-width="0.8" fill="none" stroke-linejoin="round"/>
<line x1="157.90" y1="162.40" x2="204.50" y2="162.40" stroke="#5a9a30" stroke-width="1.0"/>
<line x1="211.40" y1="46.80" x2="221.40" y2="46.80" stroke="#c04050" stroke-width="1.4"/>
<text x="224.20" y="49.00" font-size="6.40" fill="#000" textLength="11.40" lengthAdjust="spacingAndGlyphs" stroke="#000" stroke-width="0.25">Cre-</text>
<line x1="211.40" y1="57.00" x2="221.40" y2="57.00" stroke="#404890" stroke-width="1.4"/>
<text x="224.20" y="59.20" font-size="6.40" fill="#000" textLength="23.50" lengthAdjust="spacingAndGlyphs" stroke="#000" stroke-width="0.25">Cre- +LY</text>
<line x1="211.40" y1="67.00" x2="221.40" y2="67.00" stroke="#70b050" stroke-width="1.4"/>
<text x="224.20" y="69.20" font-size="6.40" fill="#000" textLength="12.80" lengthAdjust="spacingAndGlyphs" stroke="#000" stroke-width="0.25">Cre+</text>
<line x1="21.50" y1="170.50" x2="21.50" y2="131.50" stroke="#222" stroke-width="0.8"/>
<path d="M21.5 129.2 L19.9 132.6 L23.1 132.6 Z" fill="#222"/>
<line x1="21.50" y1="170.50" x2="65.50" y2="170.50" stroke="#222" stroke-width="0.8"/>
<path d="M68 170.5 L64.6 168.9 L64.6 172.1 Z" fill="#222"/>
<text x="37.00" y="178.40" font-size="7.85" fill="#111" font-weight="bold" textLength="15.50" lengthAdjust="spacingAndGlyphs">CFSE</text>
<text x="17.70" y="159.00" font-size="5.50" fill="#111" font-weight="bold" textLength="18.30" lengthAdjust="spacingAndGlyphs" transform="rotate(-90 17.70 159.00)">% Max</text>
<text x="271.20" y="8.90" font-size="10.32" fill="#111" font-weight="bold" textLength="7.60" lengthAdjust="spacingAndGlyphs">B</text>
<text x="296.80" y="22.80" font-size="10.17" fill="#111" font-weight="bold" textLength="1.80" lengthAdjust="spacingAndGlyphs">i</text>
<text x="291.43" y="77.21" font-size="4.40" fill="#222" font-weight="bold" textLength="2.17" lengthAdjust="spacingAndGlyphs">0</text>
<line x1="296.20" y1="67.83" x2="373.80" y2="67.83" stroke="#e4e4e4" stroke-width="0.8"/>
<text x="282.77" y="69.35" font-size="4.40" fill="#222" font-weight="bold" textLength="10.83" lengthAdjust="spacingAndGlyphs">20000</text>
<line x1="296.20" y1="59.97" x2="373.80" y2="59.97" stroke="#e4e4e4" stroke-width="0.8"/>
<text x="282.77" y="61.48" font-size="4.40" fill="#222" font-weight="bold" textLength="10.83" lengthAdjust="spacingAndGlyphs">40000</text>
<line x1="296.20" y1="52.10" x2="373.80" y2="52.10" stroke="#e4e4e4" stroke-width="0.8"/>
<text x="282.77" y="53.61" font-size="4.40" fill="#222" font-weight="bold" textLength="10.83" lengthAdjust="spacingAndGlyphs">60000</text>
<line x1="296.20" y1="44.23" x2="373.80" y2="44.23" stroke="#e4e4e4" stroke-width="0.8"/>
<text x="282.77" y="45.75" font-size="4.40" fill="#222" font-weight="bold" textLength="10.83" lengthAdjust="spacingAndGlyphs">80000</text>
<line x1="296.20" y1="36.37" x2="373.80" y2="36.37" stroke="#e4e4e4" stroke-width="0.8"/>
<text x="280.60" y="37.88" font-size="4.40" fill="#222" font-weight="bold" textLength="13.00" lengthAdjust="spacingAndGlyphs">100000</text>
<line x1="296.20" y1="28.50" x2="373.80" y2="28.50" stroke="#e4e4e4" stroke-width="0.8"/>
<text x="280.60" y="30.01" font-size="4.40" fill="#222" font-weight="bold" textLength="13.00" lengthAdjust="spacingAndGlyphs">120000</text>
<line x1="296.20" y1="28.50" x2="296.20" y2="75.70" stroke="#888" stroke-width="0.8"/>
<line x1="296.20" y1="75.70" x2="373.80" y2="75.70" stroke="#666" stroke-width="0.8"/>
<line x1="296.20" y1="75.70" x2="296.20" y2="76.90" stroke="#666" stroke-width="0.6"/>
<text x="296.20" y="81.70" font-size="4.00" fill="#333" font-weight="bold" text-anchor="middle">0</text>
<line x1="321.63" y1="75.70" x2="321.63" y2="76.90" stroke="#666" stroke-width="0.6"/>
<text x="321.63" y="81.70" font-size="4.00" fill="#333" font-weight="bold" text-anchor="middle">5</text>
<line x1="347.07" y1="75.70" x2="347.07" y2="76.90" stroke="#666" stroke-width="0.6"/>
<text x="347.07" y="81.70" font-size="4.00" fill="#333" font-weight="bold" text-anchor="middle">10</text>
<line x1="372.50" y1="75.70" x2="372.50" y2="76.90" stroke="#666" stroke-width="0.6"/>
<text x="372.50" y="81.70" font-size="4.00" fill="#333" font-weight="bold" text-anchor="middle">15</text>
<path d="M296.20 75.70 L302.30 70.19 L316.55 58.00 L357.24 32.04" stroke="#26266a" stroke-width="1.0" fill="none" stroke-linejoin="round"/>
<rect x="295.20" y="74.70" width="2.00" height="2.00" fill="#26266a"/>
<line x1="302.30" y1="71.37" x2="302.30" y2="69.01" stroke="#26266a" stroke-width="0.6"/>
<line x1="301.50" y1="69.01" x2="303.10" y2="69.01" stroke="#26266a" stroke-width="0.6"/>
<line x1="301.50" y1="71.37" x2="303.10" y2="71.37" stroke="#26266a" stroke-width="0.6"/>
<rect x="301.30" y="69.19" width="2.00" height="2.00" fill="#26266a"/>
<line x1="316.55" y1="59.97" x2="316.55" y2="56.03" stroke="#26266a" stroke-width="0.6"/>
<line x1="315.75" y1="56.03" x2="317.35" y2="56.03" stroke="#26266a" stroke-width="0.6"/>
<line x1="315.75" y1="59.97" x2="317.35" y2="59.97" stroke="#26266a" stroke-width="0.6"/>
<rect x="315.55" y="57.00" width="2.00" height="2.00" fill="#26266a"/>
<rect x="356.24" y="31.04" width="2.00" height="2.00" fill="#26266a"/>
<path d="M296.20 75.70 L302.30 75.70 L316.55 75.70 L357.24 74.72" stroke="#111" stroke-width="1.0" fill="none" stroke-linejoin="round"/>
<rect x="295.20" y="74.70" width="2.00" height="2.00" fill="#111"/>
<rect x="301.30" y="74.70" width="2.00" height="2.00" fill="#111"/>
<rect x="315.55" y="74.70" width="2.00" height="2.00" fill="#111"/>
<rect x="356.24" y="73.72" width="2.00" height="2.00" fill="#111"/>
<text x="322.50" y="21.00" font-size="5.09" fill="#111" font-weight="bold" textLength="23.40" lengthAdjust="spacingAndGlyphs">anti-CD3</text>
<text x="276.90" y="69.60" font-size="5.50" fill="#111" font-weight="bold" textLength="34.20" lengthAdjust="spacingAndGlyphs" transform="rotate(-90 276.90 69.60)">3H-TDR [cpm]</text>
<text x="315.60" y="89.30" font-size="5.96" fill="#111" font-weight="bold" textLength="39.20" lengthAdjust="spacingAndGlyphs">anti-CD3 ug/ml</text>
<line x1="373.80" y1="28.50" x2="373.80" y2="75.70" stroke="#ccc" stroke-width="0.8"/>
<line x1="379.50" y1="49.80" x2="385.20" y2="49.80" stroke="#26266a" stroke-width="0.9"/>
<rect x="381.40" y="48.90" width="1.80" height="1.80" fill="#26266a"/>
<text x="386.20" y="51.60" font-size="5.23" fill="#111" font-weight="bold" textLength="10.50" lengthAdjust="spacingAndGlyphs">Cre-</text>
<line x1="379.50" y1="55.50" x2="385.20" y2="55.50" stroke="#111" stroke-width="0.9"/>
<rect x="381.40" y="54.60" width="1.80" height="1.80" fill="#111"/>
<text x="386.20" y="57.30" font-size="5.23" fill="#111" font-weight="bold" textLength="10.50" lengthAdjust="spacingAndGlyphs">Cre+</text>
<text x="426.80" y="22.00" font-size="10.03" fill="#111" textLength="4.40" lengthAdjust="spacingAndGlyphs">ii</text>
<text x="420.65" y="77.94" font-size="4.20" fill="#222" font-weight="bold" textLength="2.05" lengthAdjust="spacingAndGlyphs">0</text>
<line x1="425.00" y1="69.61" x2="498.40" y2="69.61" stroke="#e4e4e4" stroke-width="0.8"/>
<text x="412.45" y="71.06" font-size="4.20" fill="#222" font-weight="bold" textLength="10.25" lengthAdjust="spacingAndGlyphs">20000</text>
<line x1="425.00" y1="62.73" x2="498.40" y2="62.73" stroke="#e4e4e4" stroke-width="0.8"/>
<text x="412.45" y="64.17" font-size="4.20" fill="#222" font-weight="bold" textLength="10.25" lengthAdjust="spacingAndGlyphs">40000</text>
<line x1="425.00" y1="55.84" x2="498.40" y2="55.84" stroke="#e4e4e4" stroke-width="0.8"/>
<text x="412.45" y="57.29" font-size="4.20" fill="#222" font-weight="bold" textLength="10.25" lengthAdjust="spacingAndGlyphs">60000</text>
<line x1="425.00" y1="48.96" x2="498.40" y2="48.96" stroke="#e4e4e4" stroke-width="0.8"/>
<text x="412.45" y="50.40" font-size="4.20" fill="#222" font-weight="bold" textLength="10.25" lengthAdjust="spacingAndGlyphs">80000</text>
<line x1="425.00" y1="42.07" x2="498.40" y2="42.07" stroke="#e4e4e4" stroke-width="0.8"/>
<text x="410.40" y="43.52" font-size="4.20" fill="#222" font-weight="bold" textLength="12.30" lengthAdjust="spacingAndGlyphs">100000</text>
<line x1="425.00" y1="35.19" x2="498.40" y2="35.19" stroke="#e4e4e4" stroke-width="0.8"/>
<text x="410.40" y="36.63" font-size="4.20" fill="#222" font-weight="bold" textLength="12.30" lengthAdjust="spacingAndGlyphs">120000</text>
<line x1="425.00" y1="28.30" x2="498.40" y2="28.30" stroke="#e4e4e4" stroke-width="0.8"/>
<text x="410.40" y="29.74" font-size="4.20" fill="#222" font-weight="bold" textLength="12.30" lengthAdjust="spacingAndGlyphs">140000</text>
<line x1="425.00" y1="28.30" x2="425.00" y2="76.50" stroke="#888" stroke-width="0.8"/>
<line x1="425.00" y1="76.50" x2="498.40" y2="76.50" stroke="#666" stroke-width="0.8"/>
<line x1="425.00" y1="76.50" x2="425.00" y2="77.70" stroke="#666" stroke-width="0.6"/>
<text x="425.00" y="83.40" font-size="4.00" fill="#333" font-weight="bold" text-anchor="middle">0</text>
<line x1="449.83" y1="76.50" x2="449.83" y2="77.70" stroke="#666" stroke-width="0.6"/>
<text x="449.83" y="83.40" font-size="4.00" fill="#333" font-weight="bold" text-anchor="middle">5</text>
<line x1="474.67" y1="76.50" x2="474.67" y2="77.70" stroke="#666" stroke-width="0.6"/>
<text x="474.67" y="83.40" font-size="4.00" fill="#333" font-weight="bold" text-anchor="middle">10</text>
<line x1="499.50" y1="76.50" x2="499.50" y2="77.70" stroke="#666" stroke-width="0.6"/>
<text x="499.50" y="83.40" font-size="4.00" fill="#333" font-weight="bold" text-anchor="middle">15</text>
<path d="M425.00 74.78 L430.96 71.34 L444.87 46.55 L484.60 35.53" stroke="#3a3a7c" stroke-width="1.0" fill="none" stroke-linejoin="round"/>
<rect x="424.00" y="73.78" width="2.00" height="2.00" fill="#3a3a7c"/>
<rect x="429.96" y="70.34" width="2.00" height="2.00" fill="#3a3a7c"/>
<line x1="444.87" y1="47.58" x2="444.87" y2="45.51" stroke="#3a3a7c" stroke-width="0.6"/>
<line x1="444.07" y1="45.51" x2="445.67" y2="45.51" stroke="#3a3a7c" stroke-width="0.6"/>
<line x1="444.07" y1="47.58" x2="445.67" y2="47.58" stroke="#3a3a7c" stroke-width="0.6"/>
<rect x="443.87" y="45.55" width="2.00" height="2.00" fill="#3a3a7c"/>
<line x1="484.60" y1="38.63" x2="484.60" y2="32.43" stroke="#3a3a7c" stroke-width="0.6"/>
<line x1="483.80" y1="32.43" x2="485.40" y2="32.43" stroke="#3a3a7c" stroke-width="0.6"/>
<line x1="483.80" y1="38.63" x2="485.40" y2="38.63" stroke="#3a3a7c" stroke-width="0.6"/>
<rect x="483.60" y="34.53" width="2.00" height="2.00" fill="#3a3a7c"/>
<path d="M425.00 75.47 L430.96 74.78 L444.87 68.24 L484.60 58.25" stroke="#111" stroke-width="1.0" fill="none" stroke-linejoin="round"/>
<rect x="424.00" y="74.47" width="2.00" height="2.00" fill="#111"/>
<rect x="429.96" y="73.78" width="2.00" height="2.00" fill="#111"/>
<rect x="443.87" y="67.24" width="2.00" height="2.00" fill="#111"/>
<line x1="484.60" y1="59.63" x2="484.60" y2="56.88" stroke="#111" stroke-width="0.6"/>
<line x1="483.80" y1="56.88" x2="485.40" y2="56.88" stroke="#111" stroke-width="0.6"/>
<line x1="483.80" y1="59.63" x2="485.40" y2="59.63" stroke="#111" stroke-width="0.6"/>
<rect x="483.60" y="57.25" width="2.00" height="2.00" fill="#111"/>
<text x="444.40" y="21.00" font-size="5.09" fill="#111" font-weight="bold" textLength="30.90" lengthAdjust="spacingAndGlyphs">anti-CD3+IL-2</text>
<text x="408.20" y="64.20" font-size="3.60" fill="#111" font-weight="bold" textLength="24.70" lengthAdjust="spacingAndGlyphs" transform="rotate(-90 408.20 64.20)">3H-TDR (cpm)</text>
<text x="447.50" y="90.00" font-size="3.78" fill="#111" font-weight="bold" textLength="29.50" lengthAdjust="spacingAndGlyphs">anti-CD3 ug/ml</text>
<line x1="498.40" y1="28.40" x2="498.40" y2="76.00" stroke="#ccc" stroke-width="0.8"/>
<line x1="504.00" y1="50.00" x2="507.20" y2="50.00" stroke="#3a3a7c" stroke-width="0.9"/>
<rect x="504.80" y="49.10" width="1.80" height="1.80" fill="#3a3a7c"/>
<text x="508.50" y="51.70" font-size="4.94" fill="#111" font-weight="bold" textLength="8.20" lengthAdjust="spacingAndGlyphs">Cre-</text>
<line x1="504.00" y1="55.70" x2="507.20" y2="55.70" stroke="#111" stroke-width="0.9"/>
<rect x="504.80" y="54.80" width="1.80" height="1.80" fill="#111"/>
<text x="508.50" y="57.40" font-size="4.94" fill="#111" font-weight="bold" textLength="8.20" lengthAdjust="spacingAndGlyphs">Cre+</text>
<text x="292.80" y="102.40" font-size="9.88" fill="#111" textLength="6.60" lengthAdjust="spacingAndGlyphs">iii</text>
<text x="289.37" y="157.92" font-size="5.00" fill="#222" font-weight="bold" textLength="2.23" lengthAdjust="spacingAndGlyphs">0</text>
<line x1="294.50" y1="144.77" x2="363.50" y2="144.77" stroke="#e4e4e4" stroke-width="0.8"/>
<text x="280.43" y="146.49" font-size="5.00" fill="#222" font-weight="bold" textLength="11.17" lengthAdjust="spacingAndGlyphs">50000</text>
<line x1="294.50" y1="133.35" x2="363.50" y2="133.35" stroke="#e4e4e4" stroke-width="0.8"/>
<text x="278.20" y="135.07" font-size="5.00" fill="#222" font-weight="bold" textLength="13.40" lengthAdjust="spacingAndGlyphs">100000</text>
<line x1="294.50" y1="121.92" x2="363.50" y2="121.92" stroke="#e4e4e4" stroke-width="0.8"/>
<text x="278.20" y="123.64" font-size="5.00" fill="#222" font-weight="bold" textLength="13.40" lengthAdjust="spacingAndGlyphs">150000</text>
<line x1="294.50" y1="110.50" x2="363.50" y2="110.50" stroke="#e4e4e4" stroke-width="0.8"/>
<text x="278.20" y="112.22" font-size="5.00" fill="#222" font-weight="bold" textLength="13.40" lengthAdjust="spacingAndGlyphs">200000</text>
<rect x="294.50" y="110.50" width="69.00" height="45.70" fill="none" stroke="#999" stroke-width="0.8"/>
<line x1="294.50" y1="110.50" x2="294.50" y2="156.20" stroke="#888" stroke-width="0.8"/>
<line x1="294.50" y1="156.20" x2="363.50" y2="156.20" stroke="#666" stroke-width="0.8"/>
<line x1="294.50" y1="156.20" x2="294.50" y2="157.40" stroke="#666" stroke-width="0.6"/>
<text x="294.50" y="165.00" font-size="4.00" fill="#333" font-weight="bold" text-anchor="middle">0</text>
<line x1="317.50" y1="156.20" x2="317.50" y2="157.40" stroke="#666" stroke-width="0.6"/>
<text x="317.50" y="165.00" font-size="4.00" fill="#333" font-weight="bold" text-anchor="middle">5</text>
<line x1="340.50" y1="156.20" x2="340.50" y2="157.40" stroke="#666" stroke-width="0.6"/>
<text x="340.50" y="165.00" font-size="4.00" fill="#333" font-weight="bold" text-anchor="middle">10</text>
<line x1="363.50" y1="156.20" x2="363.50" y2="157.40" stroke="#666" stroke-width="0.6"/>
<text x="363.50" y="165.00" font-size="4.00" fill="#333" font-weight="bold" text-anchor="middle">15</text>
<path d="M294.50 156.20 L300.02 147.06 L312.90 124.90 L349.70 122.84" stroke="#50508e" stroke-width="1.0" fill="none" stroke-linejoin="round"/>
<rect x="293.50" y="155.20" width="2.00" height="2.00" fill="#50508e"/>
<line x1="300.02" y1="148.20" x2="300.02" y2="145.92" stroke="#50508e" stroke-width="0.6"/>
<line x1="299.22" y1="145.92" x2="300.82" y2="145.92" stroke="#50508e" stroke-width="0.6"/>
<line x1="299.22" y1="148.20" x2="300.82" y2="148.20" stroke="#50508e" stroke-width="0.6"/>
<rect x="299.02" y="146.06" width="2.00" height="2.00" fill="#50508e"/>
<rect x="311.90" y="123.90" width="2.00" height="2.00" fill="#50508e"/>
<line x1="349.70" y1="124.21" x2="349.70" y2="121.47" stroke="#50508e" stroke-width="0.6"/>
<line x1="348.90" y1="121.47" x2="350.50" y2="121.47" stroke="#50508e" stroke-width="0.6"/>
<line x1="348.90" y1="124.21" x2="350.50" y2="124.21" stroke="#50508e" stroke-width="0.6"/>
<rect x="348.70" y="121.84" width="2.00" height="2.00" fill="#50508e"/>
<path d="M294.50 156.20 L300.02 155.51 L312.90 143.63 L349.70 133.81" stroke="#111" stroke-width="1.0" fill="none" stroke-linejoin="round"/>
<rect x="293.50" y="155.20" width="2.00" height="2.00" fill="#111"/>
<rect x="299.02" y="154.51" width="2.00" height="2.00" fill="#111"/>
<line x1="312.90" y1="145.69" x2="312.90" y2="141.58" stroke="#111" stroke-width="0.6"/>
<line x1="312.10" y1="141.58" x2="313.70" y2="141.58" stroke="#111" stroke-width="0.6"/>
<line x1="312.10" y1="145.69" x2="313.70" y2="145.69" stroke="#111" stroke-width="0.6"/>
<rect x="311.90" y="142.63" width="2.00" height="2.00" fill="#111"/>
<line x1="349.70" y1="136.55" x2="349.70" y2="131.06" stroke="#111" stroke-width="0.6"/>
<line x1="348.90" y1="131.06" x2="350.50" y2="131.06" stroke="#111" stroke-width="0.6"/>
<line x1="348.90" y1="136.55" x2="350.50" y2="136.55" stroke="#111" stroke-width="0.6"/>
<rect x="348.70" y="132.81" width="2.00" height="2.00" fill="#111"/>
<text x="307.70" y="102.40" font-size="6.69" fill="#111" font-weight="bold" textLength="41.20" lengthAdjust="spacingAndGlyphs">anti-CD3+anti-CD28</text>
<text x="275.10" y="153.90" font-size="5.10" fill="#111" font-weight="bold" textLength="40.50" lengthAdjust="spacingAndGlyphs" transform="rotate(-90 275.10 153.90)">3H-TDR (ccpm)</text>
<text x="312.10" y="174.10" font-size="4.94" fill="#111" font-weight="bold" textLength="34.60" lengthAdjust="spacingAndGlyphs">anti-CD3 ug/ml</text>
<rect x="368.80" y="126.30" width="21.20" height="15.70" fill="none" stroke="#ccc" stroke-width="0.6"/>
<line x1="370.00" y1="130.60" x2="375.80" y2="130.60" stroke="#50508e" stroke-width="0.9"/>
<rect x="372.00" y="129.70" width="1.80" height="1.80" fill="#50508e"/>
<text x="377.70" y="132.60" font-size="5.81" fill="#111" font-weight="bold" textLength="9.10" lengthAdjust="spacingAndGlyphs">Cre-</text>
<line x1="370.00" y1="137.60" x2="375.80" y2="137.60" stroke="#111" stroke-width="0.9"/>
<rect x="372.00" y="136.70" width="1.80" height="1.80" fill="#111"/>
<text x="377.70" y="139.60" font-size="5.81" fill="#111" font-weight="bold" textLength="9.10" lengthAdjust="spacingAndGlyphs">Cre+</text>
<text x="418.30" y="101.40" font-size="8.43" fill="#111" font-weight="bold" textLength="8.70" lengthAdjust="spacingAndGlyphs">iv</text>
<text x="435.60" y="105.80" font-size="5.96" fill="#111" font-weight="bold" textLength="44.20" lengthAdjust="spacingAndGlyphs">PMA + Ionomycin Response</text>
<rect x="417.80" y="117.20" width="85.80" height="43.40" fill="#fafafa" stroke="#888" stroke-width="0.6"/>
<text x="416.60" y="161.80" font-size="3.40" fill="#222" font-weight="bold" text-anchor="end">0</text>
<line x1="417.80" y1="155.78" x2="503.60" y2="155.78" stroke="#909090" stroke-width="0.7"/>
<text x="416.60" y="156.98" font-size="3.40" fill="#222" font-weight="bold" text-anchor="end">500</text>
<line x1="417.80" y1="150.96" x2="503.60" y2="150.96" stroke="#909090" stroke-width="0.7"/>
<text x="416.60" y="152.16" font-size="3.40" fill="#222" font-weight="bold" text-anchor="end">1000</text>
<line x1="417.80" y1="146.13" x2="503.60" y2="146.13" stroke="#909090" stroke-width="0.7"/>
<text x="416.60" y="147.33" font-size="3.40" fill="#222" font-weight="bold" text-anchor="end">1500</text>
<line x1="417.80" y1="141.31" x2="503.60" y2="141.31" stroke="#909090" stroke-width="0.7"/>
<text x="416.60" y="142.51" font-size="3.40" fill="#222" font-weight="bold" text-anchor="end">2000</text>
<line x1="417.80" y1="136.49" x2="503.60" y2="136.49" stroke="#909090" stroke-width="0.7"/>
<text x="416.60" y="137.69" font-size="3.40" fill="#222" font-weight="bold" text-anchor="end">2500</text>
<line x1="417.80" y1="131.67" x2="503.60" y2="131.67" stroke="#909090" stroke-width="0.7"/>
<text x="416.60" y="132.87" font-size="3.40" fill="#222" font-weight="bold" text-anchor="end">3000</text>
<line x1="417.80" y1="126.84" x2="503.60" y2="126.84" stroke="#909090" stroke-width="0.7"/>
<text x="416.60" y="128.04" font-size="3.40" fill="#222" font-weight="bold" text-anchor="end">3500</text>
<line x1="417.80" y1="122.02" x2="503.60" y2="122.02" stroke="#909090" stroke-width="0.7"/>
<text x="416.60" y="123.22" font-size="3.40" fill="#222" font-weight="bold" text-anchor="end">4000</text>
<text x="416.60" y="118.40" font-size="3.40" fill="#222" font-weight="bold" text-anchor="end">4500</text>
<rect x="436.40" y="122.80" width="24.40" height="37.80" fill="#111"/>
<rect x="460.90" y="128.50" width="24.20" height="32.10" fill="#fff" stroke="#222" stroke-width="0.6"/>
<line x1="448.60" y1="121.80" x2="448.60" y2="122.80" stroke="#111" stroke-width="0.6"/>
<line x1="447.40" y1="121.80" x2="449.80" y2="121.80" stroke="#111" stroke-width="0.6"/>
<line x1="473.00" y1="127.70" x2="473.00" y2="128.50" stroke="#111" stroke-width="0.6"/>
<line x1="471.80" y1="127.70" x2="474.20" y2="127.70" stroke="#111" stroke-width="0.6"/>
<line x1="417.80" y1="117.20" x2="417.80" y2="160.60" stroke="#555" stroke-width="0.7"/>
<line x1="417.80" y1="160.60" x2="503.60" y2="160.60" stroke="#555" stroke-width="0.7"/>
<text x="406.60" y="160.00" font-size="3.00" fill="#111" font-weight="bold" textLength="42.00" lengthAdjust="spacingAndGlyphs" transform="rotate(-90 406.60 160.00)">3H-TDR (ccpm)</text>
<text x="457.80" y="170.20" font-size="5.23" fill="#111" font-weight="bold" textLength="5.10" lengthAdjust="spacingAndGlyphs">Pc</text>
<rect x="505.20" y="133.00" width="13.50" height="14.80" fill="#fff" stroke="#999" stroke-width="0.5"/>
<rect x="506.30" y="135.00" width="2.40" height="2.80" fill="#111"/>
<text x="509.00" y="138.00" font-size="4.65" fill="#111" font-weight="bold" textLength="6.80" lengthAdjust="spacingAndGlyphs">Cre-</text>
<rect x="506.30" y="141.60" width="2.40" height="2.80" fill="#fff" stroke="#444" stroke-width="0.3"/>
<text x="509.00" y="144.60" font-size="4.65" fill="#111" font-weight="bold" textLength="7.80" lengthAdjust="spacingAndGlyphs">Cre+</text>
<text x="1.30" y="201.60" font-size="11.19" fill="#111" font-weight="bold" textLength="7.60" lengthAdjust="spacingAndGlyphs">C</text>
<text x="1.10" y="219.90" font-size="6.83" fill="#000" textLength="10.50" lengthAdjust="spacingAndGlyphs" stroke="#000" stroke-width="0.2">Cre-</text>
<text x="1.00" y="268.50" font-size="6.83" fill="#000" textLength="10.80" lengthAdjust="spacingAndGlyphs" stroke="#000" stroke-width="0.2">Cre+</text>
<rect x="14.30" y="207.60" width="38.60" height="43.40" fill="#fff"/>
<g clip-path="url(#cc0)">
<clipPath id="cc0"><rect x="14.8" y="208.1" width="37.6" height="42.4"/></clipPath>
<path d="M19.2 246.4 L31.2 210.5 L23.4 208.5 L16.0 245.6Z" fill="#bcc2e0" fill-opacity="0.6" filter="url(#bl)"/>
<path d="M18.5 246.2 L29.4 210.1 L25.2 208.9 L16.7 245.8Z" fill="#7688bc" fill-opacity="0.5" filter="url(#bl)"/>
<path d="M21.3 247.6 L53.6 219.0 L44.8 210.6 L17.9 244.4Z" fill="#bcc2e0" fill-opacity="0.6" filter="url(#bl)"/>
<path d="M20.5 246.9 L51.6 217.0 L46.8 212.6 L18.7 245.1Z" fill="#7688bc" fill-opacity="0.5" filter="url(#bl)"/>
<path d="M31.5 211.3v0.9M28.2 219.5v0.9M22.7 240.3v0.9M20.5 221.5v0.9M28.0 221.2v0.9M24.8 230.7v0.9M17.6 237.4v0.9M18.4 228.6v0.9M21.5 214.4v0.9M22.3 238.2v0.9M31.3 211.0v0.9M21.7 216.4v0.9M21.9 209.4v0.9M21.7 215.0v0.9M18.1 227.5v0.9M29.5 216.3v0.9M19.7 218.6v0.9M26.2 225.6v0.9M19.0 226.0v0.9M28.3 219.5v0.9M18.5 233.0v0.9M27.0 223.9v0.9M17.4 227.2v0.9M23.1 234.5v0.9M17.1 235.5v0.9M21.3 218.6v0.9M20.9 221.4v0.9M20.8 219.9v0.9M22.5 236.3v0.9M22.5 236.3v0.9M39.9 214.7v0.9M22.5 237.9v0.9M27.2 231.2v0.9M28.0 227.1v0.9M43.7 230.0v0.9M36.5 235.1v0.9M44.4 228.5v0.9M25.4 231.3v0.9M28.6 243.3v0.9M19.2 242.8v0.9M32.0 225.2v0.9M48.9 223.0v0.9M26.1 232.7v0.9M27.0 230.3v0.9M31.3 238.8v0.9M20.7 240.8v0.9M47.9 226.6v0.9M30.7 239.7v0.9M31.7 227.1v0.9M23.2 245.8v0.9M24.0 246.1v0.9M19.2 242.5v0.9M25.1 232.7v0.9M46.6 225.1v0.9M40.4 215.8v0.9M21.2 237.9v0.9M42.8 212.8v0.9M43.4 210.6v0.9M41.3 230.0v0.9M43.3 212.7v0.9M50.7 221.2v0.9M40.5 232.2v0.9M33.0 237.6v0.9M44.9 231.8v0.9M47.0 225.2v0.9M35.7 219.5v0.9M18.1 242.8v0.9M34.8 223.5v0.9M27.3 232.8v0.9M25.3 234.0v0.9M27.2 242.9v0.9M43.3 211.0v0.9M51.0 221.8v0.9M40.8 232.0v0.9M36.9 220.6v0.9M48.3 227.2v0.9M37.3 219.2v0.9M32.6 223.2v0.9" stroke="#9aa0d0" stroke-width="0.9" stroke-opacity="0.5"/>
<path d="M22.8 231.5v0.9M20.1 241.9v0.9M26.6 221.5v0.9M18.4 236.3v0.9M19.2 233.8v0.9M17.4 243.0v0.9M21.1 221.9v0.9M26.6 222.6v0.9M28.5 213.9v0.9M17.5 240.8v0.9M22.8 218.3v0.9M21.4 224.0v0.9M17.4 242.2v0.9M24.1 230.3v0.9M30.4 210.5v0.9M19.3 244.5v0.9M25.7 224.2v0.9M23.0 215.4v0.9M19.3 234.5v0.9M29.5 213.2v0.9M22.9 213.4v0.9M17.6 240.6v0.9M22.9 231.2v0.9M24.7 229.1v0.9M21.0 239.4v0.9M21.3 238.6v0.9M24.6 210.9v0.9M24.7 227.9v0.9M18.6 235.0v0.9M19.8 229.6v0.9M24.1 228.2v0.9M25.3 224.8v0.9M23.4 217.3v0.9M21.9 220.7v0.9M20.9 226.2v0.9M17.8 241.2v0.9M23.1 211.6v0.9M17.8 237.8v0.9M18.5 237.1v0.9M19.5 244.8v0.9M25.0 228.4v0.9M19.5 233.3v0.9M21.2 238.4v0.9M20.7 241.1v0.9M20.3 241.9v0.9M29.1 212.3v0.9M22.2 233.6v0.9M21.9 234.7v0.9M23.5 233.1v0.9M18.8 244.7v0.9M23.6 214.3v0.9M19.7 228.1v0.9M21.8 219.9v0.9M20.2 241.3v0.9M24.2 226.8v0.9M19.3 243.4v0.9M29.4 210.5v0.9M26.9 221.0v0.9M19.6 243.3v0.9M24.8 225.3v0.9M22.6 213.8v0.9M26.1 222.8v0.9M23.0 218.3v0.9M22.2 220.3v0.9M16.7 245.3v0.9M21.4 223.3v0.9M27.4 220.6v0.9M27.6 217.9v0.9M21.2 220.4v0.9M19.1 245.2v0.9M27.8 219.6v0.9M24.8 226.8v0.9M25.5 226.9v0.9M22.2 236.5v0.9M47.4 221.8v0.9M30.2 237.6v0.9M18.8 244.6v0.9M29.1 239.4v0.9M35.5 224.3v0.9M45.8 225.3v0.9M33.6 234.0v0.9M35.8 233.2v0.9M41.0 228.5v0.9M32.2 228.8v0.9M32.5 228.9v0.9M34.0 225.5v0.9M26.1 234.8v0.9M37.0 231.4v0.9M51.1 218.8v0.9M41.0 227.6v0.9M43.6 225.1v0.9M40.2 217.7v0.9M30.7 238.1v0.9M45.0 225.6v0.9M26.2 241.9v0.9M21.8 246.5v0.9M20.1 243.7v0.9M28.1 234.1v0.9M29.8 230.8v0.9M26.2 235.6v0.9M45.9 214.0v0.9M49.7 220.8v0.9M29.5 240.0v0.9M27.9 239.5v0.9M34.0 233.6v0.9M21.2 242.1v0.9M25.5 235.7v0.9M20.1 241.9v0.9M30.9 236.7v0.9M43.2 213.1v0.9M38.5 230.2v0.9M29.5 231.1v0.9M29.6 231.7v0.9M25.1 243.5v0.9M20.6 243.0v0.9M22.2 239.3v0.9M27.0 234.5v0.9M45.0 223.1v0.9M23.5 238.7v0.9M35.2 233.9v0.9M27.5 240.3v0.9M30.2 231.9v0.9M35.8 233.1v0.9M37.4 230.3v0.9M31.0 229.9v0.9M50.6 218.7v0.9M41.5 226.4v0.9M27.7 233.8v0.9M26.6 236.1v0.9M29.2 239.7v0.9M23.8 243.5v0.9M50.2 218.0v0.9M29.9 232.4v0.9M48.3 220.4v0.9M44.1 215.6v0.9M50.7 219.0v0.9M42.8 227.5v0.9M47.2 221.4v0.9M30.7 238.7v0.9M35.9 232.7v0.9M25.0 235.9v0.9M26.9 235.4v0.9M20.1 241.9v0.9M47.7 221.2v0.9M39.8 228.4v0.9M40.8 227.7v0.9M33.2 228.3v0.9M20.1 243.6v0.9M25.5 236.6v0.9M22.6 240.1v0.9M43.2 227.1v0.9M45.7 222.3v0.9M39.1 229.8v0.9M45.9 223.6v0.9M49.6 219.0v0.9M33.4 235.3v0.9M23.0 238.7v0.9M43.1 215.1v0.9M26.3 242.6v0.9M25.5 236.8v0.9M43.1 226.9v0.9M37.4 222.6v0.9M22.6 246.0v0.9M26.8 234.9v0.9M28.3 233.8v0.9M30.7 230.9v0.9M44.5 223.4v0.9M26.4 236.1v0.9M23.8 244.7v0.9M39.7 219.8v0.9M21.1 246.4v0.9M33.1 226.6v0.9M30.1 237.6v0.9M43.7 224.5v0.9M27.8 233.2v0.9M46.5 224.7v0.9M45.1 211.9v0.9M37.3 230.4v0.9M42.6 215.4v0.9M29.0 231.9v0.9M39.4 220.6v0.9M40.2 219.1v0.9M22.0 241.6v0.9M28.5 232.6v0.9M26.0 242.7v0.9M29.4 238.6v0.9M30.0 232.0v0.9M20.4 243.1v0.9M26.5 235.1v0.9M49.7 221.9v0.9M28.2 239.8v0.9M18.8 244.5v0.9M25.9 236.7v0.9M40.5 216.9v0.9M22.3 245.5v0.9M28.0 240.2v0.9M33.4 234.8v0.9M31.9 227.3v0.9M35.2 233.0v0.9M38.6 219.8v0.9M24.7 238.4v0.9M44.1 214.3v0.9M50.2 221.5v0.9M38.6 222.4v0.9M22.3 239.3v0.9M44.1 224.0v0.9M37.3 231.2v0.9M37.2 222.1v0.9M49.6 218.5v0.9M25.8 236.7v0.9M31.0 229.0v0.9M22.9 239.7v0.9M34.6 225.5v0.9M34.4 224.8v0.9M19.6 244.1v0.9M36.6 224.7v0.9M30.0 237.8v0.9M29.1 232.7v0.9M40.6 229.3v0.9M34.8 234.6v0.9M31.0 237.0v0.9M37.7 230.2v0.9M32.9 228.5v0.9M30.8 230.3v0.9" stroke="#7880c0" stroke-width="0.9" stroke-opacity="0.5"/>
<path d="M23.1 223.7v0.9M23.7 224.9v0.9M17.9 243.3v0.9M19.2 240.7v0.9M22.9 227.7v0.9M19.9 234.8v0.9M21.5 228.4v0.9M22.0 232.7v0.9M20.5 238.5v0.9M27.1 215.3v0.9M20.9 229.1v0.9M24.2 223.6v0.9M20.5 235.7v0.9M23.2 218.8v0.9M24.6 222.4v0.9M21.8 226.4v0.9M25.1 212.9v0.9M23.8 217.3v0.9M22.5 227.8v0.9M22.1 225.1v0.9M25.0 212.8v0.9M28.0 211.4v0.9M22.6 225.8v0.9M24.3 218.4v0.9M21.0 232.6v0.9M22.0 228.9v0.9M22.5 226.2v0.9M20.3 237.3v0.9M25.9 216.6v0.9M19.5 238.9v0.9M27.3 213.2v0.9M27.0 215.2v0.9M21.4 227.7v0.9M20.1 236.9v0.9M24.3 225.9v0.9M23.9 222.1v0.9M22.6 227.8v0.9M27.4 212.7v0.9M21.6 228.6v0.9M24.9 220.8v0.9M19.3 242.2v0.9M20.2 237.6v0.9M21.7 230.6v0.9M19.7 237.9v0.9M19.0 240.1v0.9M26.7 213.3v0.9M25.0 221.5v0.9M22.7 230.6v0.9M22.1 226.0v0.9M19.2 240.1v0.9M21.4 230.4v0.9M19.2 238.0v0.9M27.6 210.3v0.9M25.7 213.4v0.9M20.8 229.3v0.9M20.1 237.3v0.9M22.1 231.1v0.9M27.5 214.2v0.9M18.1 243.8v0.9M18.0 243.9v0.9M26.3 219.2v0.9M29.0 210.3v0.9M25.9 210.5v0.9M21.3 235.1v0.9M20.8 236.2v0.9M26.1 215.6v0.9M24.0 216.7v0.9M25.8 215.8v0.9M19.3 237.0v0.9M21.0 230.0v0.9M17.8 244.7v0.9M25.4 209.9v0.9M20.5 233.8v0.9M25.3 222.5v0.9M20.2 233.4v0.9M27.2 212.3v0.9M27.3 212.5v0.9M22.4 223.7v0.9M20.3 236.7v0.9M17.9 245.6v0.9M21.9 225.7v0.9M22.8 224.3v0.9M23.8 223.2v0.9M22.9 222.8v0.9M20.4 233.9v0.9M24.0 223.1v0.9M24.7 218.8v0.9M26.3 211.1v0.9M18.7 238.3v0.9M19.0 239.1v0.9M20.9 234.4v0.9M19.4 237.7v0.9M27.9 213.4v0.9M26.6 210.8v0.9M26.5 214.6v0.9M22.5 230.8v0.9M19.3 235.9v0.9M23.3 223.2v0.9M21.7 230.9v0.9M23.6 220.8v0.9M27.1 209.9v0.9M26.6 216.1v0.9M20.8 233.3v0.9M18.5 243.3v0.9M18.5 238.6v0.9M23.6 218.2v0.9M23.4 227.8v0.9M24.6 215.1v0.9M19.2 241.1v0.9M25.6 213.4v0.9M21.6 226.3v0.9M19.5 239.8v0.9M20.7 236.0v0.9M20.6 231.4v0.9M23.9 225.2v0.9M23.9 223.4v0.9M19.7 240.0v0.9M27.0 214.7v0.9M27.0 210.0v0.9M22.9 230.8v0.9M22.0 228.2v0.9M19.8 239.0v0.9M18.7 241.6v0.9M18.9 237.2v0.9M21.2 232.8v0.9M18.9 237.4v0.9M27.6 210.8v0.9M25.4 209.9v0.9M26.5 210.4v0.9M21.4 231.7v0.9M22.1 229.1v0.9M21.8 225.6v0.9M23.2 224.9v0.9M17.7 245.5v0.9M23.0 228.7v0.9M20.8 234.7v0.9M23.9 219.7v0.9M26.5 218.4v0.9M20.5 230.8v0.9M25.6 217.6v0.9M22.5 224.0v0.9M21.3 234.9v0.9M22.1 229.9v0.9M20.0 240.2v0.9M23.3 220.7v0.9M25.7 215.5v0.9M21.8 234.1v0.9M18.6 241.4v0.9M21.8 229.0v0.9M21.8 225.4v0.9M25.4 220.6v0.9M21.2 233.9v0.9M24.4 217.0v0.9M18.4 242.1v0.9M24.1 219.2v0.9M27.5 210.2v0.9M22.7 226.4v0.9M29.6 234.8v0.9M29.0 238.0v0.9M38.3 225.3v0.9M25.0 239.3v0.9M41.7 222.2v0.9M20.4 243.7v0.9M31.0 234.1v0.9M25.1 238.9v0.9M47.1 220.5v0.9M19.8 245.8v0.9M46.2 215.5v0.9M31.4 231.0v0.9M22.6 243.6v0.9M24.9 241.5v0.9M45.9 214.7v0.9M29.2 235.6v0.9M43.3 218.3v0.9M36.2 230.4v0.9M42.0 220.0v0.9M21.5 242.5v0.9M49.4 218.5v0.9M30.5 233.9v0.9M39.9 222.9v0.9M27.2 239.0v0.9M48.4 218.5v0.9M37.3 228.9v0.9M36.0 230.3v0.9M24.6 242.0v0.9M33.2 233.8v0.9M30.2 236.0v0.9M31.8 232.7v0.9M22.3 242.1v0.9M30.0 235.0v0.9M20.9 243.4v0.9M47.5 216.6v0.9M25.5 241.5v0.9M47.2 215.7v0.9M34.9 228.8v0.9M43.7 220.2v0.9M29.9 232.9v0.9M25.3 240.0v0.9M39.9 226.8v0.9M33.9 231.7v0.9M41.8 225.3v0.9M44.6 216.0v0.9M29.4 236.0v0.9M47.6 215.2v0.9M35.6 227.3v0.9M42.4 224.7v0.9M21.2 243.6v0.9M28.8 238.5v0.9M44.1 219.8v0.9M46.7 213.8v0.9M28.5 236.7v0.9M37.0 228.7v0.9M35.5 231.6v0.9M42.1 224.6v0.9M33.3 230.9v0.9M29.0 237.7v0.9M22.3 243.0v0.9M31.7 233.1v0.9M20.8 243.3v0.9M39.4 222.1v0.9M33.0 234.2v0.9M32.4 232.5v0.9M47.7 217.2v0.9M35.3 231.8v0.9M44.7 222.9v0.9M29.2 234.2v0.9M46.7 214.5v0.9M41.1 221.0v0.9M31.4 233.5v0.9M43.5 221.3v0.9M49.1 216.9v0.9M33.4 231.4v0.9M49.3 218.4v0.9M45.4 219.7v0.9M27.7 237.5v0.9M22.0 241.7v0.9M48.0 214.6v0.9M48.3 219.6v0.9M23.6 241.6v0.9M35.2 229.6v0.9M42.7 224.7v0.9M44.5 218.0v0.9M43.4 222.0v0.9M30.3 236.9v0.9M28.7 236.2v0.9M21.7 243.5v0.9M28.1 238.4v0.9M44.2 216.5v0.9M44.4 221.0v0.9M27.8 236.3v0.9M28.5 237.8v0.9M19.7 244.4v0.9M32.1 234.5v0.9M39.1 227.8v0.9M41.4 225.2v0.9M42.5 223.3v0.9M33.8 230.4v0.9M33.6 229.9v0.9M27.6 237.5v0.9M42.6 221.9v0.9M47.1 217.5v0.9M35.3 231.1v0.9M35.7 229.4v0.9M38.3 226.9v0.9M41.1 224.9v0.9M39.4 224.2v0.9M32.0 231.0v0.9M30.4 234.6v0.9M38.0 228.3v0.9M35.9 228.0v0.9M46.0 221.2v0.9M25.1 239.9v0.9M22.2 242.8v0.9M34.6 232.7v0.9M25.2 240.2v0.9M21.0 243.0v0.9M39.2 223.8v0.9M33.5 229.2v0.9M27.7 235.1v0.9M43.9 221.3v0.9M36.6 229.6v0.9M35.3 230.7v0.9M22.4 244.0v0.9M33.9 232.3v0.9M43.3 222.2v0.9M47.2 213.8v0.9M25.8 237.8v0.9M44.9 220.9v0.9M32.1 232.2v0.9M46.5 221.1v0.9M27.9 237.0v0.9M22.0 244.0v0.9M49.0 217.7v0.9M42.4 224.1v0.9M43.1 219.5v0.9M32.2 231.8v0.9M45.3 216.7v0.9M33.5 231.1v0.9M43.6 219.3v0.9M32.8 232.4v0.9M30.3 236.4v0.9M40.6 223.3v0.9M31.7 234.1v0.9M26.1 239.2v0.9M47.9 218.6v0.9M25.7 240.1v0.9M19.6 245.4v0.9M33.2 232.9v0.9M26.9 236.3v0.9M38.8 223.5v0.9M47.9 216.6v0.9M29.6 236.3v0.9M41.0 224.9v0.9M46.6 218.5v0.9M19.6 244.3v0.9M29.7 236.1v0.9M37.1 226.9v0.9M34.0 230.9v0.9M44.6 221.2v0.9M24.8 238.5v0.9M38.8 222.6v0.9M45.6 220.4v0.9M32.2 235.3v0.9M41.4 220.0v0.9M24.8 241.1v0.9M43.6 221.7v0.9M38.6 228.7v0.9M48.2 219.6v0.9M29.0 236.3v0.9M30.8 232.4v0.9M45.5 217.0v0.9M48.6 218.7v0.9M39.0 223.4v0.9M34.5 229.5v0.9M27.7 236.6v0.9M46.4 216.4v0.9M26.5 240.0v0.9M47.7 216.8v0.9M32.5 232.9v0.9M22.1 243.7v0.9M43.6 218.3v0.9M45.5 220.0v0.9M45.5 217.6v0.9M48.3 218.0v0.9M27.7 237.0v0.9M45.6 220.5v0.9M41.5 225.6v0.9M31.2 233.2v0.9M29.7 235.6v0.9M30.0 234.3v0.9M39.7 224.7v0.9M45.0 221.8v0.9M31.7 232.1v0.9M20.3 246.3v0.9M44.4 220.1v0.9M45.2 219.1v0.9M30.9 236.5v0.9M27.8 236.5v0.9M40.8 221.5v0.9M40.2 224.3v0.9M24.0 242.3v0.9M38.7 223.2v0.9M35.1 232.5v0.9M27.7 236.9v0.9M34.2 232.5v0.9M34.6 228.3v0.9M37.5 227.3v0.9M31.9 232.1v0.9M46.7 220.0v0.9M40.8 223.5v0.9M33.8 228.8v0.9M42.6 219.6v0.9M35.1 228.7v0.9M46.6 217.8v0.9M32.0 235.0v0.9M42.6 223.1v0.9M25.6 238.3v0.9M28.4 235.0v0.9M24.9 241.5v0.9M33.2 231.3v0.9M50.0 216.3v0.9M27.2 237.1v0.9M27.4 236.7v0.9M44.6 220.6v0.9M35.6 229.1v0.9M41.5 220.1v0.9M44.4 222.4v0.9M34.8 230.7v0.9M42.3 219.3v0.9M40.5 225.0v0.9M40.0 224.5v0.9M36.9 228.9v0.9M37.7 226.8v0.9M27.1 239.4v0.9M41.0 220.9v0.9M35.3 231.8v0.9M41.0 222.5v0.9M33.7 231.3v0.9M47.5 213.9v0.9M33.8 233.6v0.9M34.3 231.5v0.9M42.9 223.7v0.9M32.3 232.4v0.9M44.5 223.0v0.9M46.0 214.6v0.9M44.1 219.6v0.9M33.8 231.5v0.9M45.0 221.6v0.9M42.8 218.0v0.9M39.8 223.8v0.9M45.9 220.4v0.9M45.4 218.3v0.9M34.6 230.3v0.9M42.6 222.1v0.9M30.4 234.7v0.9M48.0 217.1v0.9M44.4 218.6v0.9M47.2 217.4v0.9" stroke="#506aa8" stroke-width="0.9" stroke-opacity="0.5"/>
<path d="M19.9 246.9 L21.3 244.1 L19.0 243.1 L17.7 245.9Z" fill="#58b040" fill-opacity="0.7" filter="url(#bl)"/>
<path d="M18.5 246.3v0.9M17.6 245.3v0.9M19.3 247.5v0.9M18.7 245.0v0.9M19.9 245.8v0.9M20.1 245.3v0.9M18.0 247.3v0.9M21.8 245.3v0.9M18.5 246.9v0.9M18.1 245.5v0.9M17.3 247.5v0.9M17.8 245.6v0.9M18.5 244.2v0.9M17.7 244.9v0.9M17.8 246.7v0.9M18.1 244.9v0.9M20.3 246.4v0.9M20.6 246.9v0.9M19.9 246.3v0.9M20.6 242.7v0.9M19.3 245.1v0.9M19.2 246.1v0.9M18.0 242.5v0.9M18.5 246.0v0.9M18.2 241.0v0.9M21.0 247.3v0.9M20.2 244.7v0.9M19.0 242.9v0.9M18.0 246.5v0.9M18.8 247.2v0.9M19.1 241.1v0.9M19.6 247.8v0.9M19.8 243.8v0.9M18.4 246.1v0.9M18.3 242.8v0.9M19.6 245.2v0.9M18.3 243.2v0.9M19.9 241.8v0.9M18.4 244.1v0.9M21.8 243.2v0.9" stroke="#58b040" stroke-width="0.9" stroke-opacity="0.5"/>
</g>
<path d="M31.10 208.10 L17.90 248.20 L22.80 250.20 L52.10 250.20" stroke="#222" stroke-width="0.7" fill="none" stroke-linejoin="round"/>
<rect x="14.30" y="207.60" width="38.60" height="43.40" fill="none" stroke="#666" stroke-width="1.2" rx="0.8"/>
<line x1="22.30" y1="250.00" x2="52.10" y2="250.00" stroke="#999" stroke-width="1.3"/>
<text x="41.60" y="247.40" font-size="6.20" fill="#000" textLength="9.20" lengthAdjust="spacingAndGlyphs" stroke="#000" stroke-width="0.2">520</text>
<rect x="59.50" y="208.00" width="38.80" height="43.20" fill="#fff"/>
<g clip-path="url(#cc1)">
<clipPath id="cc1"><rect x="60.0" y="208.5" width="37.8" height="42.2"/></clipPath>
<path d="M64.8 246.7 L76.8 210.9 L67.2 208.5 L60.8 245.7Z" fill="#bcc2e0" fill-opacity="0.6" filter="url(#bl)"/>
<path d="M63.8 246.5 L74.5 210.3 L69.5 209.1 L61.8 245.9Z" fill="#7688bc" fill-opacity="0.5" filter="url(#bl)"/>
<path d="M68.6 247.4 L100.6 217.1 L89.4 207.3 L63.4 243.0Z" fill="#bcc2e0" fill-opacity="0.6" filter="url(#bl)"/>
<path d="M67.4 246.4 L98.0 214.8 L92.0 209.6 L64.6 244.0Z" fill="#7688bc" fill-opacity="0.5" filter="url(#bl)"/>
<path d="M73.7 222.9v0.9M64.2 220.3v0.9M74.7 223.7v0.9M64.5 214.6v0.9M61.8 233.8v0.9M64.1 225.7v0.9M63.0 234.1v0.9M72.4 223.5v0.9M64.9 214.9v0.9M78.1 211.5v0.9M66.7 241.2v0.9M73.6 231.6v0.9M66.5 243.2v0.9M66.4 245.7v0.9M75.3 214.8v0.9M72.6 226.6v0.9M66.3 212.5v0.9M66.1 242.9v0.9M64.3 224.5v0.9M71.1 228.3v0.9M63.8 219.5v0.9M63.4 223.3v0.9M61.5 240.3v0.9M67.8 238.6v0.9M76.2 219.1v0.9M64.4 225.2v0.9M61.4 238.4v0.9M75.5 214.7v0.9M73.0 223.6v0.9M61.9 235.1v0.9M63.7 221.8v0.9M89.6 228.4v0.9M77.8 222.7v0.9M75.3 223.0v0.9M73.0 226.5v0.9M82.1 237.6v0.9M90.7 228.7v0.9M85.4 210.3v0.9M83.0 234.8v0.9M80.8 219.4v0.9M72.8 229.1v0.9M83.5 214.5v0.9M81.5 235.3v0.9M72.0 226.7v0.9M72.1 228.4v0.9M88.9 229.2v0.9M96.0 224.7v0.9M94.2 224.9v0.9M82.6 215.5v0.9M85.6 210.0v0.9M70.2 233.2v0.9M87.9 228.8v0.9M63.4 241.0v0.9M89.9 228.2v0.9M65.7 238.2v0.9M69.7 233.1v0.9M87.3 232.3v0.9M73.5 229.0v0.9M73.2 243.0v0.9M83.9 234.8v0.9M76.0 240.4v0.9M85.2 233.4v0.9M90.8 226.0v0.9M73.5 226.3v0.9M78.6 239.2v0.9M85.5 233.7v0.9M70.7 248.5v0.9M65.1 239.1v0.9M88.0 229.4v0.9M78.6 221.4v0.9M68.5 236.4v0.9M69.3 235.3v0.9M95.3 226.3v0.9M77.0 223.3v0.9M73.1 222.3v0.9M85.3 212.4v0.9M89.3 229.1v0.9M71.8 230.6v0.9M89.8 229.5v0.9M80.4 219.4v0.9M87.9 209.6v0.9M77.8 239.0v0.9" stroke="#9aa0d0" stroke-width="0.9" stroke-opacity="0.5"/>
<path d="M71.2 225.8v0.9M63.9 245.8v0.9M66.6 220.8v0.9M66.4 221.4v0.9M70.7 227.4v0.9M73.4 217.2v0.9M63.8 233.3v0.9M65.2 243.9v0.9M71.5 223.4v0.9M65.7 225.5v0.9M69.6 228.8v0.9M66.9 236.0v0.9M66.9 239.7v0.9M72.2 218.9v0.9M62.3 240.7v0.9M68.6 211.0v0.9M68.5 234.7v0.9M61.8 244.6v0.9M61.9 240.9v0.9M69.8 226.2v0.9M65.3 229.6v0.9M65.2 227.5v0.9M64.3 231.4v0.9M72.2 222.7v0.9M64.2 232.4v0.9M71.1 223.0v0.9M72.8 215.9v0.9M64.4 232.8v0.9M67.5 211.3v0.9M68.8 231.1v0.9M63.8 235.5v0.9M65.6 223.8v0.9M66.6 222.6v0.9M68.8 231.2v0.9M67.6 212.8v0.9M73.0 217.4v0.9M69.4 210.7v0.9M74.7 213.2v0.9M72.6 221.5v0.9M70.5 227.7v0.9M75.5 213.6v0.9M62.2 242.7v0.9M68.0 209.1v0.9M65.1 242.9v0.9M75.2 212.4v0.9M73.3 217.8v0.9M73.3 220.4v0.9M67.2 220.5v0.9M65.6 226.3v0.9M71.2 226.8v0.9M65.3 242.9v0.9M64.0 235.3v0.9M66.6 239.2v0.9M62.8 235.6v0.9M65.6 241.8v0.9M73.0 219.3v0.9M66.7 216.9v0.9M64.9 242.9v0.9M68.1 214.7v0.9M70.7 222.6v0.9M61.6 245.4v0.9M67.8 216.6v0.9M65.6 224.1v0.9M65.3 221.8v0.9M66.3 225.0v0.9M69.0 228.9v0.9M73.6 214.5v0.9M62.5 237.7v0.9M73.1 215.5v0.9M68.2 213.8v0.9M67.3 220.4v0.9M65.1 242.2v0.9M74.5 216.4v0.9M61.7 243.3v0.9M68.7 233.9v0.9M71.1 224.5v0.9M68.0 233.2v0.9M65.1 225.9v0.9M70.7 226.2v0.9M67.6 233.2v0.9M69.2 227.7v0.9M62.7 242.0v0.9M71.5 222.0v0.9M65.0 223.8v0.9M70.7 226.0v0.9M72.8 216.8v0.9M65.2 228.9v0.9M64.5 226.1v0.9M65.3 228.5v0.9M65.7 226.6v0.9M68.7 231.9v0.9M74.3 215.2v0.9M71.0 224.6v0.9M81.8 233.8v0.9M69.0 237.8v0.9M88.9 224.6v0.9M87.4 213.0v0.9M86.9 228.3v0.9M73.1 240.6v0.9M73.4 241.9v0.9M94.1 219.8v0.9M81.9 233.7v0.9M81.6 231.6v0.9M70.6 243.5v0.9M91.3 210.9v0.9M94.7 217.9v0.9M81.1 232.8v0.9M86.7 226.6v0.9M81.4 231.5v0.9M78.2 237.4v0.9M73.7 240.5v0.9M77.2 238.1v0.9M94.7 218.0v0.9M86.0 226.9v0.9M84.0 219.2v0.9M71.7 242.0v0.9M69.3 238.2v0.9M89.1 223.6v0.9M81.3 231.6v0.9M75.9 239.1v0.9M86.8 212.6v0.9M64.8 243.9v0.9M67.0 241.4v0.9M92.9 222.4v0.9M90.6 223.3v0.9M78.4 225.0v0.9M80.4 223.6v0.9M70.4 244.3v0.9M91.6 210.7v0.9M73.6 232.6v0.9M75.7 237.5v0.9M79.6 234.2v0.9M90.4 224.2v0.9M84.1 230.5v0.9M70.5 236.9v0.9M76.1 237.5v0.9M68.4 246.1v0.9M90.4 211.9v0.9M89.9 210.8v0.9M71.1 234.5v0.9M88.6 210.0v0.9M76.9 228.5v0.9M77.8 237.0v0.9M88.4 227.0v0.9M68.5 246.9v0.9M94.6 219.4v0.9M77.3 225.6v0.9M78.1 226.5v0.9M75.1 228.6v0.9M94.8 221.0v0.9M79.5 224.5v0.9M95.0 217.7v0.9M84.7 230.9v0.9M82.6 221.9v0.9M77.4 226.2v0.9M72.7 240.8v0.9M87.1 227.3v0.9M87.4 225.7v0.9M83.0 229.9v0.9M85.4 217.6v0.9M71.4 235.7v0.9M88.4 224.9v0.9M89.3 213.3v0.9M86.7 216.2v0.9M93.1 223.2v0.9M88.1 225.6v0.9M73.5 241.6v0.9M82.3 232.5v0.9M90.0 222.9v0.9M95.0 218.2v0.9M84.8 218.8v0.9M86.4 212.0v0.9M89.0 226.0v0.9M79.6 225.3v0.9M73.6 231.8v0.9M82.3 218.9v0.9M84.6 215.6v0.9M80.3 234.1v0.9M73.6 240.0v0.9M87.9 228.2v0.9M89.6 210.4v0.9M88.6 212.9v0.9M76.0 237.8v0.9M87.9 225.4v0.9M71.7 234.3v0.9M92.5 222.8v0.9M91.6 221.2v0.9M83.1 218.8v0.9M80.1 233.0v0.9M75.0 228.8v0.9M94.0 222.5v0.9M82.9 230.7v0.9M80.9 222.6v0.9M78.8 236.7v0.9M92.8 221.2v0.9M79.6 224.9v0.9M75.6 227.7v0.9M86.7 226.9v0.9M87.7 215.3v0.9M82.8 219.7v0.9M75.1 239.9v0.9M72.8 230.9v0.9M81.8 220.4v0.9M94.3 218.1v0.9M72.6 242.4v0.9M81.4 234.0v0.9M90.8 223.6v0.9M68.9 237.6v0.9M66.7 241.0v0.9M82.4 233.6v0.9M80.0 221.6v0.9M75.4 230.1v0.9M82.8 230.8v0.9M87.3 227.7v0.9M87.4 212.5v0.9M72.7 232.8v0.9M76.5 227.6v0.9M85.3 217.6v0.9M87.1 227.9v0.9M79.0 224.3v0.9M77.6 237.9v0.9M83.5 219.7v0.9M95.7 221.1v0.9M66.3 240.7v0.9M81.5 231.8v0.9M87.1 214.6v0.9M83.4 232.7v0.9M85.0 218.9v0.9M77.1 236.4v0.9M68.5 245.0v0.9M77.1 236.2v0.9M94.7 219.9v0.9M70.9 233.3v0.9M88.0 224.7v0.9M81.5 232.4v0.9M89.2 224.3v0.9M96.3 216.9v0.9M86.6 216.5v0.9M84.7 228.2v0.9M84.0 228.9v0.9M84.9 215.8v0.9M83.4 232.3v0.9M76.4 238.1v0.9M78.4 224.5v0.9M82.9 231.4v0.9M83.9 229.8v0.9M66.8 239.9v0.9M95.5 219.2v0.9M95.4 220.2v0.9M73.2 242.2v0.9" stroke="#7880c0" stroke-width="0.9" stroke-opacity="0.5"/>
<path d="M67.2 233.6v0.9M69.9 215.8v0.9M66.0 231.0v0.9M70.5 222.8v0.9M69.3 220.9v0.9M69.2 217.9v0.9M70.3 212.9v0.9M66.2 232.2v0.9M70.6 220.4v0.9M70.4 219.6v0.9M71.5 217.1v0.9M63.9 243.7v0.9M65.5 229.4v0.9M71.4 215.2v0.9M64.9 231.8v0.9M68.3 227.8v0.9M70.0 220.8v0.9M68.3 222.9v0.9M71.0 212.0v0.9M67.2 229.1v0.9M65.0 238.2v0.9M69.6 219.3v0.9M65.1 239.6v0.9M70.8 213.5v0.9M66.1 234.5v0.9M70.3 217.8v0.9M71.0 216.7v0.9M68.5 220.9v0.9M62.6 245.1v0.9M66.3 231.8v0.9M69.4 213.4v0.9M69.5 223.0v0.9M67.1 227.2v0.9M69.2 215.4v0.9M68.1 229.4v0.9M68.4 223.0v0.9M72.8 210.7v0.9M70.8 218.9v0.9M67.2 221.3v0.9M73.7 210.8v0.9M69.0 228.0v0.9M68.1 218.9v0.9M62.8 246.0v0.9M71.2 215.3v0.9M70.3 214.5v0.9M72.3 214.5v0.9M72.1 216.2v0.9M65.3 236.1v0.9M67.9 221.4v0.9M65.9 234.0v0.9M65.0 241.2v0.9M66.7 225.7v0.9M64.7 236.3v0.9M64.7 236.8v0.9M66.1 228.3v0.9M63.5 243.1v0.9M71.0 209.5v0.9M70.0 221.1v0.9M72.3 216.5v0.9M68.8 224.7v0.9M72.0 210.0v0.9M66.1 233.8v0.9M72.6 215.6v0.9M63.2 243.5v0.9M65.6 236.2v0.9M64.1 243.0v0.9M70.2 223.8v0.9M68.2 229.0v0.9M65.6 239.8v0.9M68.2 223.0v0.9M66.4 228.7v0.9M66.8 235.6v0.9M67.1 230.5v0.9M69.5 215.9v0.9M68.6 219.2v0.9M63.8 240.0v0.9M65.5 239.6v0.9M68.7 226.1v0.9M65.7 238.7v0.9M65.5 236.4v0.9M64.3 243.8v0.9M70.7 211.4v0.9M72.1 213.9v0.9M66.9 226.8v0.9M70.2 221.3v0.9M64.5 242.7v0.9M68.5 218.0v0.9M70.5 213.4v0.9M65.1 233.3v0.9M66.6 233.5v0.9M70.0 214.3v0.9M69.1 225.8v0.9M67.2 231.8v0.9M71.1 210.1v0.9M67.5 225.9v0.9M66.6 236.4v0.9M70.9 211.8v0.9M63.5 240.3v0.9M68.1 217.5v0.9M69.8 215.3v0.9M63.4 246.1v0.9M69.1 214.3v0.9M67.3 227.4v0.9M72.0 212.5v0.9M65.5 237.0v0.9M69.5 225.8v0.9M66.7 233.4v0.9M69.1 214.9v0.9M63.4 242.0v0.9M68.3 226.1v0.9M70.9 213.4v0.9M72.4 215.1v0.9M67.9 230.1v0.9M67.9 224.6v0.9M63.9 239.3v0.9M66.1 231.4v0.9M62.9 244.5v0.9M72.0 210.7v0.9M65.2 240.5v0.9M66.0 234.2v0.9M63.9 240.5v0.9M69.9 218.8v0.9M69.3 222.1v0.9M64.0 240.2v0.9M70.9 213.5v0.9M64.1 239.3v0.9M64.5 239.4v0.9M63.8 237.3v0.9M66.6 227.8v0.9M71.1 211.3v0.9M69.3 216.1v0.9M67.8 231.3v0.9M70.8 212.1v0.9M71.1 215.3v0.9M67.7 224.5v0.9M73.6 211.4v0.9M66.8 227.7v0.9M67.1 227.4v0.9M64.7 238.7v0.9M72.9 210.9v0.9M68.9 220.5v0.9M64.8 233.9v0.9M65.8 231.9v0.9M68.0 221.9v0.9M69.5 210.4v0.9M67.7 226.3v0.9M69.0 224.3v0.9M65.2 239.2v0.9M65.0 232.2v0.9M66.5 234.6v0.9M67.7 221.3v0.9M67.8 222.7v0.9M68.5 218.1v0.9M67.0 226.1v0.9M66.5 231.9v0.9M69.7 225.2v0.9M66.8 229.2v0.9M66.6 230.3v0.9M71.2 213.9v0.9M70.1 216.5v0.9M71.7 218.1v0.9M64.9 240.1v0.9M64.1 237.8v0.9M71.4 220.0v0.9M69.8 217.5v0.9M68.9 215.8v0.9M68.9 222.4v0.9M66.8 227.9v0.9M67.0 232.7v0.9M65.9 231.3v0.9M72.1 216.5v0.9M64.9 236.7v0.9M69.9 223.0v0.9M67.7 227.8v0.9M63.5 243.0v0.9M70.4 216.5v0.9M83.1 225.7v0.9M85.4 219.0v0.9M86.8 224.8v0.9M82.1 224.4v0.9M69.3 238.9v0.9M86.2 226.1v0.9M84.1 225.9v0.9M76.4 230.9v0.9M96.3 214.4v0.9M90.4 213.1v0.9M90.8 213.8v0.9M77.4 233.5v0.9M81.3 224.4v0.9M73.4 236.7v0.9M84.0 220.6v0.9M93.0 210.7v0.9M90.8 218.6v0.9M77.2 232.3v0.9M77.0 232.3v0.9M72.4 234.9v0.9M80.7 224.7v0.9M85.7 221.3v0.9M80.2 228.9v0.9M71.6 240.9v0.9M85.9 223.2v0.9M66.3 243.8v0.9M87.5 216.6v0.9M72.9 237.1v0.9M94.2 216.0v0.9M83.1 222.3v0.9M79.7 226.9v0.9M67.5 241.7v0.9M95.1 215.5v0.9M90.5 213.0v0.9M89.3 216.0v0.9M84.3 228.0v0.9M79.1 229.2v0.9M88.7 220.3v0.9M82.7 227.2v0.9M71.7 235.8v0.9M81.1 230.2v0.9M91.5 217.4v0.9M78.6 231.0v0.9M78.0 234.4v0.9M79.0 231.9v0.9M72.3 237.5v0.9M75.3 232.8v0.9M93.4 218.7v0.9M93.5 218.7v0.9M91.9 218.8v0.9M90.6 221.8v0.9M80.8 231.4v0.9M93.3 213.0v0.9M83.2 226.4v0.9M87.5 219.8v0.9M79.1 230.4v0.9M76.5 233.9v0.9M83.5 223.4v0.9M74.3 237.8v0.9M84.9 219.7v0.9M81.8 225.4v0.9M78.7 234.2v0.9M75.6 235.8v0.9M71.2 238.6v0.9M78.1 227.6v0.9M93.9 215.5v0.9M71.7 238.6v0.9M88.0 221.6v0.9M85.2 219.9v0.9M87.8 220.5v0.9M86.6 222.9v0.9M94.4 215.8v0.9M88.5 219.3v0.9M67.7 242.3v0.9M73.3 238.0v0.9M67.3 242.0v0.9M74.3 232.9v0.9M80.0 227.5v0.9M91.5 217.0v0.9M90.8 215.4v0.9M75.0 234.2v0.9M71.3 239.8v0.9M90.9 212.6v0.9M81.6 231.2v0.9M90.1 220.0v0.9M69.0 239.3v0.9M90.7 221.0v0.9M68.3 241.5v0.9M88.6 221.0v0.9M82.0 223.2v0.9M67.9 240.8v0.9M75.3 234.9v0.9M91.9 212.5v0.9M94.4 217.1v0.9M89.6 216.2v0.9M84.0 224.9v0.9M85.3 219.8v0.9M92.3 217.8v0.9M70.7 239.0v0.9M68.9 241.5v0.9M89.7 222.0v0.9M82.9 229.3v0.9M83.3 228.5v0.9M79.3 230.9v0.9M67.3 244.8v0.9M94.8 212.4v0.9M87.0 218.8v0.9M93.1 211.5v0.9M81.9 226.2v0.9M82.0 229.3v0.9M86.6 221.7v0.9M73.4 239.6v0.9M68.1 243.7v0.9M73.8 238.0v0.9M79.5 233.2v0.9M90.1 215.9v0.9M86.9 223.2v0.9M88.9 215.5v0.9M81.0 225.1v0.9M77.1 232.6v0.9M74.2 238.7v0.9M82.2 228.9v0.9M68.1 242.6v0.9M82.4 229.4v0.9M75.2 232.0v0.9M92.6 218.4v0.9M94.1 216.0v0.9M82.9 229.5v0.9M83.3 223.5v0.9M71.0 241.4v0.9M94.9 216.5v0.9M84.7 221.7v0.9M87.0 224.3v0.9M85.7 221.2v0.9M68.6 244.1v0.9M69.1 239.8v0.9M79.3 229.0v0.9M71.9 240.3v0.9M69.4 239.3v0.9M83.4 225.3v0.9M73.9 234.3v0.9M82.5 225.4v0.9M70.4 241.9v0.9M71.5 240.6v0.9M70.7 237.4v0.9M91.7 220.1v0.9M79.8 230.8v0.9M66.1 243.3v0.9M76.2 231.9v0.9M72.9 237.2v0.9M88.0 221.5v0.9M78.1 229.3v0.9M67.5 241.8v0.9M92.6 219.5v0.9M74.3 232.9v0.9M86.5 225.3v0.9M72.0 240.2v0.9M90.5 217.7v0.9M72.0 235.3v0.9M86.7 220.1v0.9M79.9 232.6v0.9M92.1 219.2v0.9M91.1 217.5v0.9M74.0 238.8v0.9M69.1 240.5v0.9M94.4 216.7v0.9M86.6 225.0v0.9M79.2 230.9v0.9M77.6 229.9v0.9M65.3 243.6v0.9M66.6 243.1v0.9M82.3 228.1v0.9M72.2 238.1v0.9M86.8 220.9v0.9M84.7 228.0v0.9M92.3 211.9v0.9M90.4 219.1v0.9M92.7 216.2v0.9M78.1 229.8v0.9M92.4 212.8v0.9M87.1 216.6v0.9M78.4 230.8v0.9M83.2 224.0v0.9M78.6 231.8v0.9M78.8 230.2v0.9M75.5 234.7v0.9M67.7 245.6v0.9M79.2 226.2v0.9M83.9 223.7v0.9M70.3 242.3v0.9M75.8 231.4v0.9M70.8 241.7v0.9M79.1 231.1v0.9M76.8 233.8v0.9M77.0 235.2v0.9M76.3 233.9v0.9M88.5 220.8v0.9M69.3 240.4v0.9M92.4 219.1v0.9M70.7 237.4v0.9M85.0 221.0v0.9M93.9 214.8v0.9M68.5 241.5v0.9M86.4 222.9v0.9M75.9 234.2v0.9M84.9 224.8v0.9M89.8 220.9v0.9M79.0 232.6v0.9M72.7 238.8v0.9M84.9 220.0v0.9M83.2 221.3v0.9M88.5 220.4v0.9M76.1 233.0v0.9M84.6 226.7v0.9M66.4 244.2v0.9M95.5 213.1v0.9M68.0 243.6v0.9M83.4 226.8v0.9M73.7 239.2v0.9M76.0 235.1v0.9M78.4 231.2v0.9M93.4 215.4v0.9M70.8 239.6v0.9M85.4 221.1v0.9M80.5 229.8v0.9M83.6 223.7v0.9M74.7 235.2v0.9M82.8 229.9v0.9M76.0 235.9v0.9M78.6 234.0v0.9M84.4 224.1v0.9M90.1 219.9v0.9M76.3 230.1v0.9M83.4 227.7v0.9M86.3 219.9v0.9M93.4 216.4v0.9M75.7 237.0v0.9M87.9 216.5v0.9M78.0 233.6v0.9M94.6 213.1v0.9M67.4 245.1v0.9M87.8 218.6v0.9M71.8 241.2v0.9M89.8 213.2v0.9M90.5 218.2v0.9M75.6 235.5v0.9M81.2 228.7v0.9M95.2 212.8v0.9M78.4 232.8v0.9M81.4 225.9v0.9M70.8 237.6v0.9M88.2 221.5v0.9M72.1 237.9v0.9M78.6 231.1v0.9M87.4 218.4v0.9M77.0 234.2v0.9M70.6 242.4v0.9M84.0 224.4v0.9M86.9 222.0v0.9M93.1 211.3v0.9M91.4 215.0v0.9M79.1 229.5v0.9M87.3 224.7v0.9M84.6 222.1v0.9M79.4 230.2v0.9M72.4 240.4v0.9M92.7 217.7v0.9M85.8 218.9v0.9M77.6 232.2v0.9M88.9 219.1v0.9M94.6 212.1v0.9M87.7 224.7v0.9M85.5 219.5v0.9M73.5 234.2v0.9M91.2 213.2v0.9M81.4 226.6v0.9M74.6 234.1v0.9M74.0 237.9v0.9M72.5 237.8v0.9M79.8 231.7v0.9M69.9 240.3v0.9M81.2 227.7v0.9M83.3 228.0v0.9M77.9 229.2v0.9M73.4 235.5v0.9M73.0 236.6v0.9M87.9 219.5v0.9M94.1 218.1v0.9M79.7 231.0v0.9M87.3 219.3v0.9M88.7 215.7v0.9M86.8 225.7v0.9M78.1 229.3v0.9M68.2 240.1v0.9M92.7 214.9v0.9M84.5 222.9v0.9M81.4 229.8v0.9M80.7 225.0v0.9M84.7 227.4v0.9M85.1 225.5v0.9M89.7 218.6v0.9M73.6 234.5v0.9M70.1 241.2v0.9M69.4 239.8v0.9M88.2 218.1v0.9M87.0 220.6v0.9M87.1 219.2v0.9M87.7 220.7v0.9M93.7 217.1v0.9M85.0 227.3v0.9M67.7 245.7v0.9M75.8 233.8v0.9M77.3 232.0v0.9M82.2 225.3v0.9M77.5 232.8v0.9M93.8 217.5v0.9M80.1 231.0v0.9M79.2 230.6v0.9M92.4 219.4v0.9M67.9 241.4v0.9M83.4 223.5v0.9M92.3 219.6v0.9M75.9 232.0v0.9M90.8 214.3v0.9M69.6 243.1v0.9M74.5 237.8v0.9M80.9 224.8v0.9M86.1 220.2v0.9M72.8 234.4v0.9M79.3 228.0v0.9M90.7 212.9v0.9M88.0 221.3v0.9" stroke="#506aa8" stroke-width="0.9" stroke-opacity="0.5"/>
<path d="M65.8 245.4 L67.3 242.2 L64.6 241.0 L63.2 244.2Z" fill="#58b040" fill-opacity="0.7" filter="url(#bl)"/>
<path d="M65.5 243.0v0.9M64.6 244.1v0.9M63.9 243.5v0.9M67.1 242.1v0.9M66.9 245.8v0.9M67.9 241.4v0.9M67.7 245.4v0.9M67.3 245.3v0.9M64.8 245.2v0.9M65.3 242.3v0.9M64.1 242.3v0.9M64.8 239.9v0.9M65.6 240.4v0.9M66.0 246.1v0.9M67.0 246.6v0.9M67.5 248.1v0.9M64.9 241.5v0.9M64.8 241.2v0.9M67.2 238.4v0.9M65.1 245.2v0.9M66.0 245.0v0.9M63.4 242.3v0.9M64.8 244.3v0.9M66.0 246.3v0.9M63.1 243.9v0.9M68.6 246.0v0.9M65.4 245.1v0.9M64.7 246.1v0.9M64.2 245.0v0.9M65.4 241.7v0.9M65.4 243.1v0.9M64.0 243.6v0.9M63.7 245.6v0.9M65.9 245.4v0.9M66.1 243.9v0.9M62.9 242.7v0.9M65.1 242.3v0.9M64.9 242.5v0.9M64.3 241.5v0.9M64.3 241.0v0.9M66.7 243.9v0.9M65.8 244.9v0.9M64.5 245.5v0.9M62.3 242.0v0.9M65.1 246.8v0.9M66.8 245.0v0.9M66.3 242.2v0.9M64.8 242.0v0.9M65.2 240.8v0.9M64.6 242.3v0.9" stroke="#58b040" stroke-width="0.9" stroke-opacity="0.5"/>
<path d="M79.7 234.1 L85.7 226.1 L83.3 224.3 L77.3 232.3Z" fill="#5aa060" fill-opacity="0.6" filter="url(#bl)"/>
<path d="M82.0 227.9v0.9M84.0 228.6v0.9M79.2 232.4v0.9M84.0 225.5v0.9M77.2 233.0v0.9M80.4 229.2v0.9M80.5 229.6v0.9M83.6 233.5v0.9M83.7 229.0v0.9M79.7 229.1v0.9M78.1 225.0v0.9M86.2 222.6v0.9M74.5 238.8v0.9M75.9 242.3v0.9M80.4 229.5v0.9M84.1 226.4v0.9M78.0 236.6v0.9M83.7 227.8v0.9M90.3 224.7v0.9M80.4 224.9v0.9M84.1 227.4v0.9M79.3 228.5v0.9M77.6 233.9v0.9M79.3 232.4v0.9M86.7 217.7v0.9M87.8 227.9v0.9M78.9 229.1v0.9M80.5 224.4v0.9M84.5 222.7v0.9M83.6 228.0v0.9M83.6 234.3v0.9M80.7 229.2v0.9M80.3 233.6v0.9M83.9 231.1v0.9M78.6 230.8v0.9M79.5 225.9v0.9M75.8 236.2v0.9M86.6 225.1v0.9M76.3 230.4v0.9M81.4 228.8v0.9M84.1 231.3v0.9M79.1 232.4v0.9M82.6 229.9v0.9M81.7 225.9v0.9M82.4 230.3v0.9M78.3 235.0v0.9M79.9 230.6v0.9M81.3 227.5v0.9M88.1 220.2v0.9M83.1 226.4v0.9M75.1 231.7v0.9M72.3 242.4v0.9M87.9 224.1v0.9M83.4 228.6v0.9M80.9 229.4v0.9M81.3 226.9v0.9M77.8 231.6v0.9M85.6 221.2v0.9M79.1 229.2v0.9M83.8 224.2v0.9M76.3 235.6v0.9M75.0 231.4v0.9M82.2 229.1v0.9M81.4 224.3v0.9M80.4 226.9v0.9M77.8 231.7v0.9M85.0 231.8v0.9M82.2 225.4v0.9M81.2 232.5v0.9M78.8 228.7v0.9M85.9 224.8v0.9M76.6 237.0v0.9M76.3 233.4v0.9M85.4 222.5v0.9M80.5 234.2v0.9M81.1 225.4v0.9M79.1 227.0v0.9M86.6 226.5v0.9M85.2 226.7v0.9M78.9 238.1v0.9M79.5 233.9v0.9M83.9 227.2v0.9M81.9 230.3v0.9M78.8 236.8v0.9M85.2 225.4v0.9M81.5 226.5v0.9M80.7 235.1v0.9M78.2 232.8v0.9M76.8 236.8v0.9M83.6 224.3v0.9" stroke="#58b040" stroke-width="0.9" stroke-opacity="0.5"/>
</g>
<path d="M76.30 208.50 L63.10 248.40 L68.00 250.40 L97.50 250.40" stroke="#222" stroke-width="0.7" fill="none" stroke-linejoin="round"/>
<rect x="59.50" y="208.00" width="38.80" height="43.20" fill="none" stroke="#666" stroke-width="1.2" rx="0.8"/>
<line x1="67.50" y1="250.20" x2="97.50" y2="250.20" stroke="#999" stroke-width="1.3"/>
<text x="87.00" y="247.60" font-size="6.20" fill="#000" textLength="9.20" lengthAdjust="spacingAndGlyphs" stroke="#000" stroke-width="0.2">564</text>
<rect x="104.30" y="207.60" width="38.30" height="43.50" fill="#fff"/>
<g clip-path="url(#cc2)">
<clipPath id="cc2"><rect x="104.8" y="208.1" width="37.3" height="42.5"/></clipPath>
<path d="M109.6 246.6 L122.1 210.9 L112.5 208.3 L105.6 245.6Z" fill="#bcc2e0" fill-opacity="0.6" filter="url(#bl)"/>
<path d="M108.6 246.4 L119.8 210.3 L114.8 208.9 L106.6 245.8Z" fill="#7688bc" fill-opacity="0.5" filter="url(#bl)"/>
<path d="M113.9 247.3 L144.9 218.0 L133.7 208.2 L108.7 242.9Z" fill="#bcc2e0" fill-opacity="0.6" filter="url(#bl)"/>
<path d="M112.7 246.3 L142.3 215.7 L136.3 210.5 L109.9 243.9Z" fill="#7688bc" fill-opacity="0.5" filter="url(#bl)"/>
<path d="M120.0 217.6v0.9M110.8 215.1v0.9M114.2 236.0v0.9M109.6 213.8v0.9M112.3 242.6v0.9M110.1 210.2v0.9M117.4 227.3v0.9M116.3 230.3v0.9M111.2 244.2v0.9M109.7 219.4v0.9M120.7 218.3v0.9M118.9 219.4v0.9M111.1 210.6v0.9M115.4 229.5v0.9M112.1 238.8v0.9M117.9 222.7v0.9M105.4 239.6v0.9M122.3 213.4v0.9M111.9 211.6v0.9M120.4 222.0v0.9M120.7 216.8v0.9M109.8 219.3v0.9M107.5 228.8v0.9M117.3 224.0v0.9M121.3 214.8v0.9M115.9 231.0v0.9M117.1 226.8v0.9M106.1 243.7v0.9M109.6 215.9v0.9M107.6 234.2v0.9M120.5 228.6v0.9M135.9 226.0v0.9M117.0 230.3v0.9M141.0 223.7v0.9M115.3 231.0v0.9M130.0 233.8v0.9M111.3 237.8v0.9M127.8 234.0v0.9M108.0 239.8v0.9M120.7 243.3v0.9M134.5 229.9v0.9M140.1 223.0v0.9M140.5 222.2v0.9M137.7 224.9v0.9M127.8 216.3v0.9M114.3 234.4v0.9M121.2 243.6v0.9M130.5 209.7v0.9M124.5 220.4v0.9M140.4 222.4v0.9M116.8 231.1v0.9M113.9 235.7v0.9M131.0 211.8v0.9M126.7 235.5v0.9M125.4 245.5v0.9M134.0 229.8v0.9M110.7 239.2v0.9M118.2 226.8v0.9M128.3 233.6v0.9M124.4 221.0v0.9M123.5 222.6v0.9M141.0 224.2v0.9M124.2 214.5v0.9M124.0 219.3v0.9M128.8 234.9v0.9M121.5 225.4v0.9M139.8 228.6v0.9M110.4 240.5v0.9M131.6 231.8v0.9M124.2 239.5v0.9M130.8 209.9v0.9M128.9 214.6v0.9M125.4 218.3v0.9M131.3 211.4v0.9M112.9 234.7v0.9M125.5 218.2v0.9M109.9 238.8v0.9M123.8 237.9v0.9M136.5 226.6v0.9M113.0 236.7v0.9M125.3 218.0v0.9M128.9 235.9v0.9M117.2 227.7v0.9M124.4 219.6v0.9M124.0 220.4v0.9M123.5 222.5v0.9M125.2 236.8v0.9" stroke="#9aa0d0" stroke-width="0.9" stroke-opacity="0.5"/>
<path d="M113.3 234.3v0.9M106.6 241.2v0.9M117.6 221.3v0.9M118.8 218.3v0.9M109.1 229.9v0.9M113.9 230.9v0.9M111.5 237.0v0.9M111.5 223.9v0.9M107.3 241.6v0.9M112.5 219.1v0.9M112.8 233.6v0.9M112.3 213.4v0.9M110.1 224.3v0.9M120.0 213.5v0.9M113.4 214.3v0.9M112.6 235.6v0.9M119.4 211.0v0.9M113.2 214.8v0.9M110.4 242.1v0.9M114.3 231.4v0.9M112.0 236.1v0.9M110.2 223.0v0.9M115.1 228.4v0.9M111.8 221.8v0.9M113.1 209.7v0.9M116.7 219.7v0.9M112.9 217.8v0.9M118.0 219.4v0.9M109.2 245.3v0.9M111.5 220.1v0.9M114.6 230.9v0.9M110.6 226.1v0.9M109.7 244.9v0.9M114.5 210.6v0.9M113.0 209.1v0.9M109.1 235.1v0.9M107.0 242.8v0.9M116.2 221.6v0.9M110.3 226.0v0.9M115.6 228.0v0.9M110.4 225.5v0.9M117.1 218.8v0.9M109.2 234.0v0.9M110.4 225.4v0.9M111.3 238.9v0.9M112.1 216.5v0.9M119.6 216.5v0.9M108.7 234.8v0.9M113.3 214.2v0.9M111.1 224.5v0.9M113.4 215.0v0.9M110.5 241.8v0.9M107.9 238.9v0.9M110.7 240.2v0.9M114.6 209.6v0.9M117.9 218.5v0.9M106.9 239.7v0.9M110.4 241.9v0.9M116.3 222.5v0.9M111.3 223.9v0.9M117.7 221.2v0.9M113.6 215.1v0.9M118.8 212.8v0.9M106.5 243.4v0.9M114.1 212.6v0.9M111.7 237.3v0.9M113.1 231.7v0.9M116.8 220.7v0.9M116.9 220.9v0.9M115.6 224.4v0.9M111.5 216.0v0.9M112.2 218.1v0.9M111.2 218.0v0.9M114.0 210.8v0.9M110.2 244.4v0.9M118.7 213.0v0.9M116.7 223.0v0.9M114.2 209.3v0.9M115.9 223.4v0.9M110.9 239.3v0.9M109.0 232.1v0.9M112.4 235.6v0.9M113.8 230.3v0.9M114.3 227.7v0.9M110.2 240.9v0.9M112.5 210.7v0.9M112.3 237.5v0.9M108.4 234.1v0.9M112.4 212.8v0.9M112.6 237.4v0.9M107.2 240.7v0.9M112.2 235.8v0.9M113.2 210.4v0.9M108.6 234.2v0.9M116.0 226.2v0.9M119.0 215.3v0.9M112.0 235.4v0.9M108.8 233.2v0.9M115.9 223.0v0.9M126.9 221.9v0.9M117.4 241.2v0.9M124.2 223.3v0.9M133.5 227.7v0.9M115.8 233.9v0.9M116.7 242.6v0.9M126.5 219.6v0.9M109.7 242.3v0.9M134.1 225.1v0.9M121.4 237.9v0.9M130.5 217.7v0.9M137.3 222.2v0.9M126.2 221.7v0.9M116.2 235.4v0.9M130.7 230.5v0.9M128.1 220.1v0.9M134.7 210.6v0.9M118.9 232.8v0.9M130.4 213.6v0.9M132.9 213.2v0.9M115.4 236.4v0.9M121.0 230.0v0.9M120.1 239.6v0.9M119.6 228.4v0.9M129.4 228.9v0.9M115.4 243.4v0.9M127.3 232.8v0.9M132.4 226.9v0.9M122.1 236.5v0.9M118.5 232.2v0.9M133.0 212.1v0.9M123.8 236.7v0.9M117.4 242.2v0.9M114.2 237.3v0.9M113.1 240.0v0.9M128.9 229.3v0.9M123.7 226.2v0.9M120.7 229.6v0.9M129.9 230.4v0.9M113.8 236.3v0.9M126.1 235.3v0.9M116.8 235.1v0.9M127.3 231.0v0.9M132.7 211.9v0.9M135.3 211.8v0.9M121.8 226.5v0.9M129.0 215.5v0.9M123.7 237.6v0.9M136.2 210.8v0.9M127.4 218.8v0.9M119.3 240.8v0.9M125.9 223.4v0.9M126.9 234.6v0.9M139.4 220.4v0.9M127.0 218.7v0.9M115.2 243.5v0.9M124.0 226.1v0.9M117.2 243.5v0.9M122.8 224.7v0.9M119.1 229.8v0.9M122.7 224.2v0.9M133.8 214.0v0.9M132.0 227.0v0.9M137.9 219.8v0.9M125.2 223.9v0.9M125.9 232.7v0.9M111.8 241.6v0.9M128.0 231.0v0.9M122.8 226.3v0.9M135.6 222.3v0.9M116.4 234.8v0.9M125.7 222.1v0.9M137.3 220.8v0.9M121.6 238.1v0.9M140.7 218.9v0.9M131.2 227.0v0.9M138.2 221.2v0.9M122.6 226.7v0.9M110.4 243.4v0.9M137.4 223.2v0.9M120.6 239.2v0.9M128.1 216.8v0.9M123.8 236.0v0.9M133.4 224.9v0.9M129.6 228.4v0.9M116.4 235.0v0.9M129.7 229.5v0.9M135.2 223.5v0.9M123.2 227.0v0.9M127.4 232.5v0.9M119.1 239.4v0.9M110.3 243.2v0.9M128.1 220.8v0.9M134.7 212.7v0.9M126.5 223.2v0.9M133.7 210.5v0.9M114.8 236.1v0.9M138.9 222.4v0.9M135.4 212.2v0.9M124.5 225.2v0.9M132.5 225.6v0.9M126.7 232.1v0.9M126.2 233.0v0.9M140.9 221.0v0.9M136.9 222.5v0.9M119.4 241.6v0.9M134.3 224.1v0.9M111.7 239.6v0.9M123.0 225.4v0.9M134.6 223.5v0.9M128.8 219.5v0.9M135.1 211.2v0.9M138.4 222.1v0.9M119.3 232.0v0.9M137.1 222.5v0.9M133.1 211.9v0.9M117.1 242.1v0.9M131.7 212.3v0.9M124.4 236.3v0.9M135.4 209.8v0.9M129.7 230.2v0.9M119.4 240.1v0.9M131.0 227.8v0.9M136.1 222.4v0.9M126.6 232.6v0.9M117.5 242.5v0.9M122.6 224.4v0.9M125.7 234.1v0.9M118.5 242.5v0.9M129.3 219.2v0.9M138.6 220.7v0.9M115.3 235.4v0.9M121.3 227.5v0.9M132.6 228.1v0.9M135.3 211.9v0.9M118.5 241.1v0.9M133.4 211.3v0.9M109.3 243.0v0.9M125.0 234.7v0.9M131.9 227.1v0.9M122.9 235.6v0.9M120.8 230.5v0.9M134.4 210.3v0.9M116.0 242.7v0.9M133.6 224.4v0.9M132.3 228.4v0.9M138.0 221.1v0.9M115.3 235.5v0.9M122.4 228.3v0.9M122.7 238.1v0.9M125.1 224.5v0.9M116.0 235.8v0.9M116.0 244.4v0.9M134.8 225.8v0.9M126.0 234.4v0.9M135.6 223.1v0.9M128.8 231.5v0.9M113.4 246.3v0.9M134.6 223.6v0.9M134.9 223.8v0.9M130.8 230.0v0.9M118.3 240.4v0.9M134.7 210.1v0.9M125.4 234.6v0.9M130.0 218.4v0.9M123.6 235.6v0.9M119.7 239.7v0.9M114.2 237.6v0.9M133.7 209.6v0.9M116.6 234.4v0.9M120.9 227.8v0.9M118.8 231.4v0.9M123.7 235.8v0.9M122.7 236.5v0.9M118.9 230.8v0.9M137.9 220.3v0.9M136.3 221.8v0.9M128.6 218.1v0.9M123.1 235.4v0.9M133.7 209.9v0.9M117.7 241.1v0.9M121.2 228.3v0.9M117.8 230.9v0.9M120.8 230.1v0.9M138.5 219.2v0.9M123.2 226.2v0.9M122.4 235.9v0.9" stroke="#7880c0" stroke-width="0.9" stroke-opacity="0.5"/>
<path d="M114.8 223.2v0.9M113.2 230.6v0.9M110.2 234.2v0.9M113.5 219.0v0.9M112.7 228.2v0.9M110.6 231.7v0.9M114.1 218.7v0.9M115.7 219.9v0.9M111.1 230.6v0.9M117.7 214.4v0.9M112.8 222.4v0.9M108.5 237.7v0.9M115.4 220.5v0.9M114.0 218.3v0.9M113.5 218.2v0.9M108.0 241.7v0.9M114.9 222.0v0.9M109.2 235.2v0.9M115.9 214.4v0.9M114.5 220.9v0.9M109.5 238.6v0.9M113.4 227.2v0.9M113.9 223.4v0.9M115.3 214.6v0.9M109.6 239.9v0.9M110.4 230.7v0.9M114.9 215.6v0.9M108.2 243.9v0.9M112.7 224.8v0.9M116.4 218.2v0.9M115.5 222.6v0.9M114.5 226.3v0.9M110.6 236.5v0.9M112.0 228.4v0.9M116.8 218.0v0.9M112.0 224.2v0.9M115.5 218.7v0.9M110.0 236.1v0.9M117.0 210.4v0.9M114.9 217.9v0.9M109.8 235.6v0.9M110.3 233.4v0.9M115.4 221.1v0.9M116.9 209.8v0.9M110.5 237.2v0.9M109.8 240.4v0.9M116.4 216.5v0.9M115.3 215.6v0.9M113.4 226.1v0.9M108.6 239.7v0.9M112.2 222.6v0.9M110.8 234.0v0.9M113.3 229.4v0.9M116.6 215.4v0.9M107.4 244.8v0.9M107.2 245.1v0.9M116.6 214.8v0.9M115.4 212.6v0.9M111.4 231.3v0.9M112.6 220.1v0.9M110.5 235.8v0.9M108.6 240.0v0.9M109.8 235.9v0.9M113.2 218.0v0.9M109.4 242.8v0.9M107.7 241.9v0.9M111.9 234.8v0.9M112.1 228.8v0.9M117.2 216.4v0.9M109.2 243.7v0.9M117.4 211.8v0.9M116.5 211.9v0.9M108.7 244.8v0.9M110.5 236.6v0.9M112.1 224.4v0.9M109.9 240.2v0.9M108.6 246.1v0.9M112.0 232.7v0.9M108.2 244.3v0.9M117.0 215.0v0.9M115.1 220.4v0.9M108.7 240.5v0.9M110.9 229.4v0.9M107.5 245.3v0.9M114.8 221.7v0.9M116.2 219.7v0.9M114.0 218.2v0.9M110.3 233.8v0.9M117.2 211.7v0.9M115.0 216.9v0.9M113.9 228.5v0.9M108.3 244.5v0.9M112.0 231.2v0.9M114.5 215.4v0.9M115.7 214.7v0.9M110.2 231.3v0.9M112.0 223.5v0.9M118.8 211.1v0.9M115.6 211.9v0.9M115.8 219.2v0.9M110.3 235.5v0.9M111.4 232.7v0.9M110.7 233.6v0.9M116.5 218.6v0.9M112.5 227.2v0.9M113.3 218.7v0.9M110.8 234.1v0.9M115.4 219.1v0.9M110.1 235.6v0.9M112.3 221.7v0.9M112.0 232.2v0.9M108.1 244.9v0.9M112.5 230.1v0.9M113.9 225.6v0.9M116.2 210.3v0.9M113.6 216.0v0.9M111.1 237.2v0.9M113.3 228.5v0.9M109.8 240.8v0.9M116.7 214.9v0.9M114.6 219.6v0.9M110.4 236.5v0.9M115.1 220.0v0.9M109.8 240.6v0.9M110.8 235.2v0.9M116.3 214.0v0.9M114.5 217.8v0.9M109.9 238.7v0.9M110.5 229.4v0.9M114.6 224.7v0.9M116.9 216.0v0.9M110.5 236.4v0.9M109.0 242.9v0.9M115.5 220.0v0.9M107.4 243.7v0.9M116.8 218.8v0.9M111.2 237.4v0.9M109.8 234.6v0.9M109.0 241.9v0.9M114.6 223.6v0.9M109.2 241.8v0.9M108.6 239.7v0.9M114.9 210.7v0.9M109.8 237.2v0.9M116.5 213.7v0.9M111.7 233.7v0.9M109.4 241.7v0.9M112.2 226.6v0.9M116.0 220.2v0.9M113.5 224.7v0.9M114.2 224.1v0.9M114.5 220.2v0.9M110.9 238.6v0.9M110.0 238.6v0.9M110.2 236.4v0.9M112.1 228.5v0.9M116.5 211.0v0.9M117.4 211.2v0.9M110.3 235.3v0.9M111.9 228.2v0.9M111.5 230.5v0.9M111.7 229.4v0.9M109.9 237.6v0.9M114.1 221.6v0.9M115.9 218.5v0.9M109.6 238.6v0.9M118.4 211.1v0.9M110.9 238.5v0.9M118.2 213.4v0.9M110.3 237.5v0.9M137.7 216.8v0.9M137.1 213.8v0.9M137.9 215.8v0.9M121.9 233.4v0.9M140.9 216.0v0.9M126.2 224.1v0.9M137.4 218.4v0.9M116.4 239.5v0.9M116.9 235.6v0.9M132.1 221.2v0.9M125.5 232.3v0.9M127.5 225.6v0.9M132.3 219.0v0.9M135.5 219.0v0.9M133.2 221.4v0.9M119.0 234.2v0.9M116.9 239.1v0.9M122.5 235.3v0.9M114.3 243.8v0.9M127.2 230.7v0.9M122.9 230.5v0.9M118.1 238.0v0.9M134.3 216.3v0.9M119.1 236.6v0.9M129.8 224.3v0.9M128.7 226.1v0.9M132.8 220.2v0.9M112.3 245.2v0.9M118.1 237.2v0.9M119.8 235.1v0.9M119.5 232.7v0.9M124.9 228.9v0.9M126.8 227.3v0.9M115.7 241.2v0.9M134.4 223.0v0.9M121.8 234.9v0.9M133.4 221.2v0.9M114.5 239.4v0.9M131.6 220.0v0.9M135.4 218.7v0.9M114.3 239.2v0.9M130.1 220.8v0.9M118.4 236.2v0.9M134.6 221.8v0.9M112.9 243.0v0.9M120.2 231.9v0.9M129.5 221.5v0.9M118.1 235.1v0.9M118.2 238.2v0.9M121.3 231.7v0.9M122.3 232.3v0.9M129.2 222.8v0.9M118.2 238.6v0.9M140.3 217.1v0.9M117.4 235.0v0.9M123.6 230.8v0.9M115.4 239.3v0.9M122.2 235.8v0.9M132.0 222.3v0.9M133.0 221.0v0.9M114.9 238.9v0.9M124.9 226.9v0.9M112.3 241.9v0.9M140.3 214.9v0.9M125.8 227.1v0.9M130.1 223.0v0.9M134.6 220.6v0.9M132.9 218.1v0.9M125.0 230.3v0.9M116.1 240.8v0.9M121.5 233.1v0.9M134.9 220.0v0.9M115.3 241.8v0.9M117.3 236.7v0.9M118.4 237.4v0.9M116.8 239.3v0.9M120.6 234.0v0.9M120.9 232.6v0.9M125.6 227.0v0.9M119.7 237.3v0.9M134.7 217.6v0.9M123.1 231.7v0.9M128.5 229.3v0.9M118.1 237.2v0.9M112.2 244.4v0.9M119.6 232.8v0.9M125.1 232.6v0.9M125.5 231.5v0.9M138.7 216.7v0.9M133.2 220.4v0.9M137.7 214.5v0.9M123.9 232.3v0.9M118.6 235.0v0.9M116.9 241.0v0.9M120.4 235.8v0.9M120.3 237.5v0.9M136.8 215.5v0.9M136.9 216.5v0.9M132.2 222.6v0.9M137.8 213.7v0.9M135.8 214.0v0.9M131.1 219.1v0.9M137.2 219.6v0.9M133.1 217.5v0.9M135.1 221.2v0.9M136.0 219.3v0.9M118.5 235.7v0.9M130.6 221.1v0.9M135.7 221.1v0.9M135.4 213.1v0.9M137.6 216.2v0.9M136.7 213.9v0.9M123.9 227.7v0.9M120.3 232.8v0.9M115.3 240.2v0.9M120.1 234.9v0.9M131.5 225.1v0.9M128.5 223.4v0.9M132.8 220.5v0.9M136.8 213.4v0.9M114.9 241.5v0.9M133.9 217.8v0.9M125.1 226.8v0.9M133.9 219.2v0.9M120.8 235.1v0.9M126.4 230.6v0.9M129.8 222.9v0.9M120.7 236.6v0.9M115.7 241.1v0.9M139.1 214.2v0.9M118.2 235.7v0.9M130.7 224.9v0.9M115.6 241.9v0.9M123.0 230.7v0.9M135.5 216.7v0.9M123.3 234.1v0.9M128.6 223.2v0.9M127.3 224.1v0.9M116.9 240.0v0.9M137.2 216.0v0.9M122.1 231.7v0.9M137.0 215.9v0.9M129.6 221.6v0.9M125.6 226.3v0.9M134.2 218.5v0.9M119.9 232.5v0.9M123.5 232.3v0.9M130.6 220.0v0.9M112.8 243.8v0.9M135.8 219.1v0.9M117.4 238.3v0.9M121.7 234.7v0.9M132.0 219.1v0.9M129.7 226.1v0.9M137.0 214.5v0.9M127.1 229.9v0.9M130.6 224.6v0.9M114.0 241.9v0.9M131.2 223.5v0.9M116.8 240.1v0.9M131.6 224.9v0.9M138.2 213.1v0.9M124.2 227.4v0.9M121.0 236.0v0.9M118.1 237.1v0.9M119.5 237.9v0.9M135.5 222.0v0.9M112.7 242.6v0.9M126.6 229.2v0.9M134.3 214.2v0.9M123.4 228.7v0.9M118.0 239.1v0.9M112.5 245.4v0.9M112.2 245.0v0.9M128.8 224.4v0.9M121.1 231.2v0.9M123.5 229.9v0.9M122.6 232.4v0.9M128.1 221.7v0.9M119.1 239.0v0.9M117.6 238.3v0.9M136.1 220.6v0.9M117.1 240.3v0.9M121.9 235.4v0.9M132.3 219.5v0.9M126.3 226.1v0.9M133.8 221.3v0.9M131.4 217.4v0.9M127.9 229.5v0.9M135.7 212.2v0.9M120.7 234.8v0.9M126.2 226.8v0.9M133.9 221.0v0.9M124.5 232.7v0.9M116.5 238.2v0.9M136.5 219.2v0.9M128.5 227.7v0.9M134.4 218.7v0.9M124.9 227.5v0.9M133.8 220.1v0.9M140.2 215.6v0.9M131.2 220.8v0.9M127.4 224.0v0.9M117.6 239.1v0.9M124.6 225.9v0.9M124.0 230.8v0.9M129.0 225.4v0.9M128.3 225.1v0.9M119.6 236.5v0.9M116.0 238.6v0.9M136.9 213.4v0.9M130.1 220.6v0.9M122.1 229.6v0.9M136.9 212.4v0.9M121.1 235.4v0.9M111.9 244.2v0.9M129.6 225.9v0.9M133.3 215.4v0.9M136.8 211.3v0.9M137.3 215.8v0.9M129.8 224.3v0.9M118.8 235.9v0.9M118.8 237.4v0.9M136.5 213.7v0.9M136.9 218.8v0.9M133.3 219.6v0.9M122.4 234.9v0.9M133.6 224.0v0.9M130.2 222.9v0.9M125.1 232.3v0.9M116.3 237.7v0.9M119.2 239.1v0.9M128.9 224.9v0.9M124.7 229.0v0.9M114.1 241.7v0.9M125.7 229.3v0.9M135.4 217.8v0.9M127.9 228.4v0.9M133.2 223.2v0.9M136.0 213.7v0.9M114.0 240.7v0.9M114.7 240.4v0.9M132.2 223.4v0.9M124.3 228.1v0.9M121.4 235.6v0.9M124.3 233.5v0.9M136.3 214.6v0.9M117.2 237.4v0.9M126.9 226.0v0.9M129.5 228.0v0.9M118.6 234.5v0.9M116.0 241.1v0.9M120.9 233.9v0.9M132.1 222.3v0.9M126.1 229.2v0.9M129.3 226.2v0.9M140.4 214.5v0.9M126.9 226.2v0.9M128.4 228.2v0.9M133.1 216.5v0.9M128.5 229.1v0.9M130.8 220.4v0.9M113.0 241.8v0.9M134.2 221.5v0.9M122.6 230.7v0.9M111.4 244.5v0.9M114.9 239.9v0.9M124.1 230.2v0.9M113.4 242.4v0.9M138.7 216.7v0.9M122.7 231.4v0.9M119.5 235.3v0.9M125.2 229.1v0.9M132.8 223.2v0.9M132.5 217.8v0.9M122.8 229.4v0.9M126.7 227.1v0.9M124.4 226.7v0.9M122.9 230.4v0.9M133.7 220.6v0.9M136.5 220.6v0.9M129.5 220.7v0.9M113.7 243.5v0.9M137.8 213.3v0.9M135.2 218.5v0.9M134.3 218.2v0.9M137.3 216.2v0.9M138.1 219.0v0.9M123.4 227.4v0.9M123.8 233.7v0.9M117.5 237.6v0.9M117.5 235.4v0.9M133.0 218.1v0.9M138.2 216.6v0.9M111.3 242.6v0.9M113.0 245.1v0.9M124.1 230.7v0.9" stroke="#506aa8" stroke-width="0.9" stroke-opacity="0.5"/>
<path d="M110.6 246.3 L112.1 243.1 L109.4 241.9 L108.0 245.1Z" fill="#58b040" fill-opacity="0.7" filter="url(#bl)"/>
<path d="M108.4 242.9v0.9M107.8 244.3v0.9M110.1 242.8v0.9M107.8 243.7v0.9M110.8 246.9v0.9M107.0 244.4v0.9M111.9 242.5v0.9M109.2 245.9v0.9M110.1 242.4v0.9M108.1 243.0v0.9M109.7 244.5v0.9M111.1 242.4v0.9M110.6 244.9v0.9M109.3 245.6v0.9M109.7 245.1v0.9M108.9 242.4v0.9M109.0 247.7v0.9M110.5 244.7v0.9M108.6 244.5v0.9M108.0 244.8v0.9M109.8 243.0v0.9M110.6 241.5v0.9M107.8 245.5v0.9M108.1 241.3v0.9M111.7 245.4v0.9M110.6 244.1v0.9M108.1 245.0v0.9M109.8 242.7v0.9M110.1 245.0v0.9M109.8 245.8v0.9M110.6 241.8v0.9M110.6 243.3v0.9M112.2 238.2v0.9M109.3 245.3v0.9M111.5 242.1v0.9M109.9 245.0v0.9M109.0 245.5v0.9M108.8 242.6v0.9M111.7 242.5v0.9M109.3 248.6v0.9M111.8 243.4v0.9M110.4 242.7v0.9M108.2 243.2v0.9M111.1 245.2v0.9M108.6 239.6v0.9M111.8 242.7v0.9M111.0 245.7v0.9M111.8 242.9v0.9M108.3 242.8v0.9M110.4 244.7v0.9" stroke="#58b040" stroke-width="0.9" stroke-opacity="0.5"/>
<path d="M123.5 233.0 L129.5 225.0 L127.1 223.2 L121.1 231.2Z" fill="#5aa060" fill-opacity="0.6" filter="url(#bl)"/>
<path d="M123.0 230.8v0.9M124.8 229.1v0.9M131.7 215.6v0.9M121.9 233.0v0.9M125.3 223.6v0.9M127.7 230.1v0.9M129.4 225.9v0.9M125.9 231.5v0.9M127.1 224.0v0.9M126.2 227.9v0.9M124.6 227.4v0.9M127.8 228.5v0.9M121.9 230.9v0.9M119.3 239.3v0.9M123.3 234.9v0.9M133.0 221.9v0.9M124.1 232.7v0.9M130.8 224.5v0.9M126.7 226.9v0.9M125.1 221.6v0.9M125.2 233.5v0.9M125.3 228.2v0.9M128.5 227.9v0.9M127.3 226.0v0.9M131.1 223.1v0.9M127.5 216.8v0.9M126.5 229.6v0.9M124.4 225.8v0.9M128.7 225.3v0.9M118.4 235.9v0.9M125.8 224.0v0.9M123.7 232.1v0.9M124.5 225.5v0.9M128.2 227.0v0.9M127.5 230.8v0.9M124.5 230.9v0.9M125.4 225.1v0.9M126.1 225.8v0.9M127.7 221.9v0.9M123.5 234.5v0.9M128.7 221.1v0.9M124.6 227.2v0.9M122.9 231.0v0.9M127.2 227.3v0.9M124.5 227.1v0.9M125.2 228.7v0.9M124.2 229.0v0.9M120.4 234.8v0.9M128.0 226.7v0.9M123.7 227.5v0.9M120.3 228.0v0.9M126.6 225.6v0.9M127.9 226.6v0.9M125.9 226.1v0.9M125.8 225.5v0.9M122.0 231.0v0.9M126.8 226.1v0.9M126.6 228.7v0.9M124.5 225.5v0.9M129.5 225.7v0.9M130.2 224.4v0.9M122.2 229.7v0.9M123.7 225.7v0.9M129.4 225.1v0.9M125.9 226.8v0.9M127.9 226.4v0.9M128.3 227.7v0.9M126.8 226.4v0.9M126.7 224.3v0.9M127.8 227.6v0.9M127.6 229.7v0.9M121.3 225.7v0.9M126.2 225.2v0.9M127.3 224.2v0.9M128.4 226.0v0.9M123.0 232.5v0.9M118.6 235.8v0.9M122.2 232.9v0.9M125.8 224.1v0.9M122.7 227.4v0.9M124.7 231.8v0.9M127.9 222.5v0.9M123.3 225.0v0.9M123.9 229.3v0.9M129.6 220.9v0.9M120.5 231.5v0.9M123.3 229.4v0.9M122.1 232.9v0.9M127.8 226.9v0.9M126.2 230.1v0.9M123.8 229.3v0.9M125.8 227.0v0.9M123.2 233.5v0.9M122.2 233.8v0.9M126.4 229.2v0.9M124.2 231.9v0.9M132.0 220.0v0.9M125.2 226.2v0.9M123.3 231.7v0.9M120.7 236.4v0.9" stroke="#58b040" stroke-width="0.9" stroke-opacity="0.5"/>
</g>
<path d="M121.10 208.10 L107.90 248.30 L112.80 250.30 L141.80 250.30" stroke="#222" stroke-width="0.7" fill="none" stroke-linejoin="round"/>
<rect x="104.30" y="207.60" width="38.30" height="43.50" fill="none" stroke="#666" stroke-width="1.2" rx="0.8"/>
<line x1="112.30" y1="250.10" x2="141.80" y2="250.10" stroke="#999" stroke-width="1.3"/>
<text x="131.30" y="247.50" font-size="6.20" fill="#000" textLength="9.20" lengthAdjust="spacingAndGlyphs" stroke="#000" stroke-width="0.2">583</text>
<rect x="14.30" y="256.90" width="38.70" height="43.70" fill="#fff"/>
<g clip-path="url(#cc3)">
<clipPath id="cc3"><rect x="14.8" y="257.4" width="37.7" height="42.7"/></clipPath>
<path d="M19.1 296.0 L30.3 260.0 L22.3 258.2 L16.1 295.2Z" fill="#bcc2e0" fill-opacity="0.6" filter="url(#bl)"/>
<path d="M18.4 295.8 L28.4 259.6 L24.2 258.6 L16.8 295.4Z" fill="#7688bc" fill-opacity="0.5" filter="url(#bl)"/>
<path d="M21.6 296.9 L46.7 267.0 L36.9 260.2 L18.0 294.3Z" fill="#bcc2e0" fill-opacity="0.6" filter="url(#bl)"/>
<path d="M20.8 296.3 L44.4 265.4 L39.2 261.8 L18.8 294.9Z" fill="#7688bc" fill-opacity="0.5" filter="url(#bl)"/>
<path d="M31.7 263.7v0.9M30.1 271.3v0.9M25.4 279.3v0.9M23.0 286.8v0.9M21.9 258.3v0.9M20.2 262.9v0.9M25.3 276.2v0.9M25.5 280.0v0.9M20.6 267.5v0.9M22.7 287.3v0.9M17.3 279.9v0.9M17.3 284.8v0.9M20.1 270.6v0.9M17.3 288.7v0.9M28.6 267.3v0.9M23.0 283.1v0.9M21.2 260.1v0.9M20.4 292.2v0.9M17.2 282.9v0.9M17.8 286.1v0.9M17.5 279.8v0.9M18.6 280.9v0.9M25.1 276.4v0.9M29.9 262.7v0.9M27.0 270.8v0.9M19.7 261.5v0.9M38.1 277.9v0.9M28.0 270.7v0.9M23.4 283.2v0.9M33.0 283.0v0.9M34.9 280.9v0.9M18.3 293.1v0.9M24.8 277.4v0.9M47.4 268.0v0.9M35.7 279.9v0.9M30.5 286.4v0.9M23.7 283.4v0.9M31.8 265.8v0.9M39.1 277.5v0.9M48.1 268.9v0.9M31.5 286.8v0.9M24.1 294.9v0.9M43.2 274.7v0.9M39.7 275.3v0.9M25.9 292.1v0.9M21.9 287.0v0.9M26.3 272.5v0.9M35.1 282.7v0.9M20.1 287.3v0.9M30.1 287.7v0.9M34.2 263.8v0.9M20.3 287.6v0.9M32.7 268.4v0.9M24.2 282.7v0.9M44.5 275.0v0.9M34.1 285.5v0.9M24.4 295.2v0.9M19.2 290.8v0.9M27.2 290.2v0.9M30.6 286.1v0.9M32.8 264.2v0.9M40.8 276.7v0.9M20.2 289.9v0.9M22.9 283.6v0.9" stroke="#9aa0d0" stroke-width="0.9" stroke-opacity="0.5"/>
<path d="M26.7 266.7v0.9M23.6 277.6v0.9M23.6 277.9v0.9M19.0 281.1v0.9M17.7 291.4v0.9M20.7 288.5v0.9M28.5 264.7v0.9M23.3 260.1v0.9M20.6 290.2v0.9M21.3 286.4v0.9M22.8 282.1v0.9M20.4 277.3v0.9M25.3 271.4v0.9M21.7 286.2v0.9M17.4 289.2v0.9M19.2 292.9v0.9M20.2 276.8v0.9M26.7 267.4v0.9M21.7 269.3v0.9M23.0 265.4v0.9M19.3 280.8v0.9M28.0 264.4v0.9M20.0 289.9v0.9M23.4 278.6v0.9M20.4 274.0v0.9M20.8 270.8v0.9M19.4 280.3v0.9M26.8 268.6v0.9M20.5 275.5v0.9M28.9 263.1v0.9M22.5 280.7v0.9M28.4 261.2v0.9M26.0 270.9v0.9M23.5 278.0v0.9M20.6 274.5v0.9M24.2 274.8v0.9M23.3 277.6v0.9M23.0 259.4v0.9M22.7 263.4v0.9M20.0 291.8v0.9M21.5 272.9v0.9M23.1 278.2v0.9M23.5 258.8v0.9M23.6 261.7v0.9M19.3 283.4v0.9M21.5 272.1v0.9M28.8 259.9v0.9M27.1 268.0v0.9M20.8 269.6v0.9M17.1 294.2v0.9M27.8 266.1v0.9M28.5 261.6v0.9M21.5 272.7v0.9M27.6 261.7v0.9M25.9 272.6v0.9M18.1 287.6v0.9M28.0 265.0v0.9M26.7 266.4v0.9M26.3 270.9v0.9M19.2 282.2v0.9M26.9 269.7v0.9M21.8 267.6v0.9M22.0 282.6v0.9M20.3 278.5v0.9M28.0 261.9v0.9M24.0 258.8v0.9M27.1 267.5v0.9M24.1 276.1v0.9M20.3 274.9v0.9M29.4 260.9v0.9M19.6 294.1v0.9M23.2 263.7v0.9M20.1 277.2v0.9M17.2 289.9v0.9M32.6 281.1v0.9M31.5 270.9v0.9M32.5 281.1v0.9M31.9 273.0v0.9M26.6 281.5v0.9M34.9 267.3v0.9M23.2 294.2v0.9M26.6 282.2v0.9M20.6 290.7v0.9M28.4 286.8v0.9M34.1 269.4v0.9M37.7 276.8v0.9M33.1 271.2v0.9M26.9 288.0v0.9M32.6 271.5v0.9M35.2 268.3v0.9M36.5 276.9v0.9M30.5 273.9v0.9M30.5 284.3v0.9M34.3 267.9v0.9M34.9 269.2v0.9M37.1 276.3v0.9M30.6 283.0v0.9M21.9 289.8v0.9M36.9 277.0v0.9M25.1 282.1v0.9M25.1 283.5v0.9M42.7 268.1v0.9M32.2 273.7v0.9M37.8 264.0v0.9M35.3 267.2v0.9M25.7 290.2v0.9M22.0 289.7v0.9M34.8 277.6v0.9M25.3 292.1v0.9M32.0 281.5v0.9M44.1 267.4v0.9M25.2 290.8v0.9M33.7 267.8v0.9M25.4 291.8v0.9M34.0 270.5v0.9M35.6 266.6v0.9M23.9 292.3v0.9M28.6 277.9v0.9M21.7 290.5v0.9M19.1 293.4v0.9M37.0 263.2v0.9M28.2 287.8v0.9M30.0 275.9v0.9M37.0 264.5v0.9M33.6 267.3v0.9M41.1 269.9v0.9M28.1 287.8v0.9M39.7 272.0v0.9M31.1 273.6v0.9M38.0 264.0v0.9M31.6 272.8v0.9M22.2 288.1v0.9M29.1 278.2v0.9M28.0 280.4v0.9M27.8 278.7v0.9M26.4 282.8v0.9M28.0 279.2v0.9M29.0 276.0v0.9M43.3 268.8v0.9M41.0 270.2v0.9M38.4 263.3v0.9M25.3 291.2v0.9M28.6 278.5v0.9M27.3 280.8v0.9M22.4 294.2v0.9M26.5 288.7v0.9M25.5 281.3v0.9M29.6 274.6v0.9M43.1 268.0v0.9M26.5 280.7v0.9M32.5 281.5v0.9M29.1 276.0v0.9M42.9 268.1v0.9M26.0 283.3v0.9M18.7 294.5v0.9M26.7 281.1v0.9M35.7 263.8v0.9M28.6 285.8v0.9M41.9 269.5v0.9M31.3 282.8v0.9M42.0 271.2v0.9M23.8 286.4v0.9M30.0 275.0v0.9M39.0 273.8v0.9M40.6 270.7v0.9M32.2 281.1v0.9M30.8 284.3v0.9M25.3 290.3v0.9M27.8 279.1v0.9M43.4 269.9v0.9M31.4 275.0v0.9M35.9 278.0v0.9M40.5 270.6v0.9M27.5 280.9v0.9M35.9 266.8v0.9M39.9 272.2v0.9M37.2 264.9v0.9M32.8 281.8v0.9M27.2 279.8v0.9M29.9 285.8v0.9M26.2 281.8v0.9M24.0 292.0v0.9M35.1 266.3v0.9M24.7 291.3v0.9M37.9 275.0v0.9M36.2 267.2v0.9M29.9 276.4v0.9M35.2 266.8v0.9M31.7 282.8v0.9M29.3 277.3v0.9M37.8 262.4v0.9M21.6 295.9v0.9M30.2 276.2v0.9M24.1 292.4v0.9M29.1 277.4v0.9M45.2 266.5v0.9M36.8 277.6v0.9M39.9 274.4v0.9M33.9 269.3v0.9M19.8 292.0v0.9M43.1 269.9v0.9M35.0 266.0v0.9M27.3 289.0v0.9M20.2 290.7v0.9" stroke="#7880c0" stroke-width="0.9" stroke-opacity="0.5"/>
<path d="M21.7 282.8v0.9M27.2 261.2v0.9M22.3 272.4v0.9M26.2 261.7v0.9M27.2 261.7v0.9M25.3 267.9v0.9M17.6 294.0v0.9M23.0 275.7v0.9M18.3 294.4v0.9M19.4 290.8v0.9M19.3 290.4v0.9M23.6 264.1v0.9M20.9 284.0v0.9M19.5 290.1v0.9M26.9 263.5v0.9M24.4 272.0v0.9M23.9 267.4v0.9M21.7 276.7v0.9M20.3 282.5v0.9M24.2 264.9v0.9M22.7 274.8v0.9M23.5 274.5v0.9M22.3 274.4v0.9M24.6 262.1v0.9M27.9 259.8v0.9M24.4 264.5v0.9M24.1 264.6v0.9M25.0 263.1v0.9M19.7 286.5v0.9M22.1 275.9v0.9M23.0 269.2v0.9M24.5 268.7v0.9M24.0 274.4v0.9M20.9 284.1v0.9M23.4 266.6v0.9M25.0 262.6v0.9M24.6 263.6v0.9M18.9 287.2v0.9M23.5 272.5v0.9M19.4 287.4v0.9M23.7 263.3v0.9M21.9 280.8v0.9M19.7 282.7v0.9M21.7 278.8v0.9M18.4 294.6v0.9M17.0 295.4v0.9M26.3 260.3v0.9M18.8 293.9v0.9M18.6 289.7v0.9M19.6 283.5v0.9M27.1 259.6v0.9M24.5 263.4v0.9M17.6 293.8v0.9M23.4 273.1v0.9M22.0 273.1v0.9M19.9 282.8v0.9M25.0 268.1v0.9M23.6 272.3v0.9M26.9 261.7v0.9M25.1 261.1v0.9M21.7 280.6v0.9M22.7 269.1v0.9M26.3 261.0v0.9M24.2 266.2v0.9M24.4 270.9v0.9M25.0 264.8v0.9M20.2 288.8v0.9M24.8 265.3v0.9M18.5 290.9v0.9M22.5 275.3v0.9M24.6 263.4v0.9M23.4 265.4v0.9M20.4 281.4v0.9M21.9 280.5v0.9M18.5 292.0v0.9M17.2 294.4v0.9M21.5 278.6v0.9M18.8 289.7v0.9M25.0 269.5v0.9M20.2 281.7v0.9M23.2 265.9v0.9M21.9 273.0v0.9M23.4 273.0v0.9M22.0 275.3v0.9M25.2 260.5v0.9M25.5 265.2v0.9M19.7 283.9v0.9M25.1 268.2v0.9M21.6 273.4v0.9M22.3 271.5v0.9M27.0 260.7v0.9M21.5 273.8v0.9M26.2 265.3v0.9M24.4 260.7v0.9M17.8 294.1v0.9M20.3 287.2v0.9M20.0 287.5v0.9M18.7 288.2v0.9M19.6 288.9v0.9M25.7 264.6v0.9M24.4 260.5v0.9M25.0 264.8v0.9M25.5 263.1v0.9M26.8 264.4v0.9M23.2 268.5v0.9M25.5 269.0v0.9M19.8 283.3v0.9M25.0 263.2v0.9M25.7 262.4v0.9M19.6 288.9v0.9M18.6 289.8v0.9M25.5 264.7v0.9M21.9 280.0v0.9M25.9 262.8v0.9M25.2 266.7v0.9M18.7 290.2v0.9M20.0 283.6v0.9M25.3 269.6v0.9M21.0 276.1v0.9M17.8 293.2v0.9M26.1 265.7v0.9M24.8 267.8v0.9M18.5 288.4v0.9M21.5 282.5v0.9M24.8 267.0v0.9M23.7 262.7v0.9M22.4 272.2v0.9M25.3 263.2v0.9M19.9 289.9v0.9M22.7 274.6v0.9M21.1 276.7v0.9M25.4 263.9v0.9M24.7 262.1v0.9M24.3 270.3v0.9M20.0 281.1v0.9M22.3 274.0v0.9M26.1 263.8v0.9M20.2 285.0v0.9M20.6 285.8v0.9M26.5 259.8v0.9M30.2 281.7v0.9M33.3 277.0v0.9M28.3 281.1v0.9M41.6 265.7v0.9M26.6 284.7v0.9M41.6 264.2v0.9M33.9 275.5v0.9M25.3 288.6v0.9M30.0 282.5v0.9M34.1 276.9v0.9M37.6 272.8v0.9M25.7 285.4v0.9M21.3 292.8v0.9M37.1 270.6v0.9M34.5 273.3v0.9M26.7 288.1v0.9M39.7 263.1v0.9M22.8 290.2v0.9M40.6 268.8v0.9M39.6 270.5v0.9M36.1 270.6v0.9M38.1 272.6v0.9M27.9 283.2v0.9M21.3 293.8v0.9M26.5 286.8v0.9M26.9 286.6v0.9M33.5 279.2v0.9M35.7 272.5v0.9M35.7 268.6v0.9M36.6 273.0v0.9M37.6 271.2v0.9M25.1 287.7v0.9M36.1 269.3v0.9M25.5 289.3v0.9M33.7 277.4v0.9M36.2 269.4v0.9M41.3 265.2v0.9M28.8 282.4v0.9M29.3 283.1v0.9M21.4 294.3v0.9M19.7 294.0v0.9M39.8 266.0v0.9M24.7 290.5v0.9M30.5 281.8v0.9M27.8 285.5v0.9M33.6 276.9v0.9M37.3 269.3v0.9M28.1 281.9v0.9M41.0 265.9v0.9M35.9 271.2v0.9M28.5 281.2v0.9M31.7 276.8v0.9M33.6 272.7v0.9M32.2 280.3v0.9M36.4 271.1v0.9M21.4 293.0v0.9M25.3 289.1v0.9M35.6 274.2v0.9M25.7 285.7v0.9M29.8 282.7v0.9M40.5 264.0v0.9M40.9 267.1v0.9M37.5 269.0v0.9M30.6 279.9v0.9M39.8 264.7v0.9M30.7 281.2v0.9M27.8 283.1v0.9M32.1 277.4v0.9M35.9 271.1v0.9M39.8 269.3v0.9M28.2 284.8v0.9M35.7 275.9v0.9M43.0 266.4v0.9M19.7 295.0v0.9M42.2 264.0v0.9M35.6 269.7v0.9M21.1 292.7v0.9M23.9 289.2v0.9M37.7 265.5v0.9M27.4 285.8v0.9M30.0 277.3v0.9M25.9 286.0v0.9M20.2 294.1v0.9M25.0 290.3v0.9M33.1 278.4v0.9M38.2 265.8v0.9M28.1 283.2v0.9M32.0 274.6v0.9M34.5 274.6v0.9M28.1 281.2v0.9M35.9 273.3v0.9M32.4 277.5v0.9M34.8 276.2v0.9M31.0 282.0v0.9M41.7 264.6v0.9M37.0 271.1v0.9M30.5 281.8v0.9M41.3 265.5v0.9M22.3 292.5v0.9M40.9 267.1v0.9M26.1 284.1v0.9M37.1 272.1v0.9M27.6 286.3v0.9M32.0 278.7v0.9M37.6 271.1v0.9M23.1 292.3v0.9M22.5 290.0v0.9M32.7 273.6v0.9M41.5 266.1v0.9M38.2 271.6v0.9M30.1 282.6v0.9M32.8 274.4v0.9M25.2 287.2v0.9M39.2 263.6v0.9M26.0 284.1v0.9M36.8 268.6v0.9M24.7 288.3v0.9M25.3 288.2v0.9M27.0 286.8v0.9M32.2 280.4v0.9M40.4 263.5v0.9M32.1 275.9v0.9M25.3 289.8v0.9M34.8 270.5v0.9M30.3 277.4v0.9M25.1 287.5v0.9M28.0 281.6v0.9M35.7 270.7v0.9M27.5 284.9v0.9M27.0 287.0v0.9M26.7 284.9v0.9M30.7 282.9v0.9M39.0 269.7v0.9M36.0 273.2v0.9M25.3 288.3v0.9M33.4 274.2v0.9M31.3 279.5v0.9M39.5 266.2v0.9M26.5 287.3v0.9M35.5 271.7v0.9M27.7 283.9v0.9M42.7 264.8v0.9M20.7 292.4v0.9M24.6 286.6v0.9M32.5 280.1v0.9M24.5 287.7v0.9M33.5 272.5v0.9M40.8 267.7v0.9M27.5 285.8v0.9M37.3 271.1v0.9M39.1 265.8v0.9M38.9 268.1v0.9M20.4 294.1v0.9M35.6 275.1v0.9M39.3 270.3v0.9M40.7 268.6v0.9M24.9 289.7v0.9M29.7 279.6v0.9M40.2 270.2v0.9M41.9 266.2v0.9M36.8 268.4v0.9M26.8 284.6v0.9M24.1 291.2v0.9M29.3 279.2v0.9M39.8 270.1v0.9M23.6 288.2v0.9M36.6 269.3v0.9M25.5 289.0v0.9M28.1 281.5v0.9M39.5 267.3v0.9M32.7 275.7v0.9M29.8 279.4v0.9M40.0 265.4v0.9M20.5 294.9v0.9M33.2 276.4v0.9M31.7 275.6v0.9M40.0 266.1v0.9M34.9 271.4v0.9M28.1 283.1v0.9M34.6 276.0v0.9M40.6 268.5v0.9M38.4 272.4v0.9M22.0 293.1v0.9M34.5 275.6v0.9M28.5 282.6v0.9M42.0 267.2v0.9M27.1 282.2v0.9M39.8 263.1v0.9M40.3 264.2v0.9M23.5 289.3v0.9M31.7 280.1v0.9M27.7 286.9v0.9M22.2 292.5v0.9M32.0 275.7v0.9M33.2 273.6v0.9M28.2 284.1v0.9M26.0 287.6v0.9M32.9 278.1v0.9M38.8 271.7v0.9M41.8 264.2v0.9M29.5 281.8v0.9M28.5 281.3v0.9M38.3 267.2v0.9M30.4 283.1v0.9M27.5 282.6v0.9M37.9 267.6v0.9M40.3 263.2v0.9M42.8 266.7v0.9M43.5 264.8v0.9M34.7 277.3v0.9M20.7 293.7v0.9M40.5 264.8v0.9" stroke="#506aa8" stroke-width="0.9" stroke-opacity="0.5"/>
<path d="M21.6 294.8 L23.1 291.6 L20.4 290.4 L19.0 293.6Z" fill="#58b040" fill-opacity="0.7" filter="url(#bl)"/>
<path d="M22.8 290.9v0.9M22.4 297.2v0.9M19.2 293.7v0.9M19.9 292.8v0.9M20.5 288.3v0.9M22.7 292.5v0.9M22.3 291.3v0.9M20.2 291.8v0.9M18.6 296.5v0.9M22.8 295.5v0.9M21.9 291.9v0.9M21.5 299.0v0.9M23.4 293.3v0.9M19.1 294.1v0.9M16.7 294.9v0.9M19.9 292.2v0.9M22.7 295.9v0.9M20.5 290.7v0.9M18.1 290.4v0.9M21.9 293.4v0.9M19.9 292.9v0.9M20.5 290.0v0.9M20.3 295.4v0.9M23.7 291.4v0.9M21.2 290.2v0.9M21.9 292.5v0.9M20.9 295.3v0.9M22.2 293.7v0.9M21.7 294.1v0.9M17.8 293.5v0.9M20.1 296.1v0.9M20.9 291.0v0.9M19.9 294.8v0.9M21.0 292.8v0.9M22.9 294.0v0.9M20.7 295.5v0.9M21.9 293.8v0.9M21.5 287.0v0.9M22.5 291.8v0.9M22.0 291.4v0.9M20.9 290.0v0.9M22.2 290.9v0.9M23.4 293.0v0.9M21.5 291.0v0.9M19.5 293.5v0.9M20.4 292.5v0.9M18.4 291.9v0.9M21.4 289.9v0.9M19.1 290.3v0.9M21.1 291.5v0.9M18.8 291.4v0.9M21.3 290.0v0.9M21.3 298.0v0.9M17.7 290.9v0.9M20.3 293.1v0.9M23.0 292.5v0.9M19.6 289.7v0.9M15.2 288.8v0.9M23.2 289.8v0.9M21.7 293.5v0.9M20.0 289.2v0.9M24.6 294.2v0.9M21.3 289.2v0.9M21.2 289.3v0.9M18.1 292.5v0.9M20.7 293.1v0.9M21.0 292.2v0.9M21.0 289.7v0.9M20.4 293.8v0.9M23.8 288.1v0.9M22.9 290.8v0.9M22.5 291.0v0.9M20.5 292.6v0.9M20.7 292.6v0.9M22.2 294.4v0.9M19.5 294.3v0.9M21.1 289.7v0.9M19.0 295.4v0.9M22.6 290.6v0.9M22.0 290.6v0.9" stroke="#58b040" stroke-width="0.9" stroke-opacity="0.5"/>
</g>
<path d="M31.10 257.40 L17.90 297.80 L22.80 299.80 L52.20 299.80" stroke="#222" stroke-width="0.7" fill="none" stroke-linejoin="round"/>
<rect x="14.30" y="256.90" width="38.70" height="43.70" fill="none" stroke="#666" stroke-width="1.2" rx="0.8"/>
<line x1="22.30" y1="299.60" x2="52.20" y2="299.60" stroke="#999" stroke-width="1.3"/>
<text x="41.70" y="297.00" font-size="6.20" fill="#000" textLength="9.20" lengthAdjust="spacingAndGlyphs" stroke="#000" stroke-width="0.2">287</text>
<rect x="59.60" y="256.70" width="38.40" height="43.70" fill="#fff"/>
<g clip-path="url(#cc4)">
<clipPath id="cc4"><rect x="60.1" y="257.2" width="37.4" height="42.7"/></clipPath>
<path d="M64.4 295.8 L76.4 260.0 L67.8 257.8 L61.4 295.0Z" fill="#bcc2e0" fill-opacity="0.6" filter="url(#bl)"/>
<path d="M63.7 295.6 L74.4 259.5 L69.8 258.3 L62.1 295.2Z" fill="#7688bc" fill-opacity="0.5" filter="url(#bl)"/>
<path d="M67.8 297.0 L95.6 265.4 L84.6 257.4 L63.4 293.8Z" fill="#bcc2e0" fill-opacity="0.6" filter="url(#bl)"/>
<path d="M66.8 296.2 L93.0 263.5 L87.2 259.3 L64.4 294.6Z" fill="#7688bc" fill-opacity="0.5" filter="url(#bl)"/>
<path d="M67.1 288.3v0.9M66.2 291.7v0.9M62.6 288.2v0.9M64.7 294.6v0.9M66.9 289.3v0.9M71.0 281.7v0.9M75.5 266.9v0.9M65.5 269.6v0.9M71.5 280.2v0.9M67.3 260.7v0.9M74.8 264.7v0.9M66.5 266.6v0.9M67.1 258.6v0.9M76.5 260.3v0.9M64.7 267.7v0.9M64.1 277.1v0.9M70.6 277.2v0.9M68.5 285.1v0.9M62.1 281.5v0.9M62.5 288.3v0.9M77.9 262.3v0.9M65.8 265.3v0.9M61.9 290.2v0.9M69.7 280.2v0.9M63.2 264.2v0.9M64.8 271.4v0.9M71.2 275.2v0.9M75.9 262.9v0.9M61.8 292.4v0.9M66.0 261.6v0.9M86.9 279.2v0.9M85.3 277.9v0.9M80.4 283.1v0.9M74.7 272.8v0.9M95.7 268.0v0.9M83.7 278.7v0.9M94.0 270.2v0.9M79.4 265.8v0.9M78.5 285.0v0.9M76.9 265.3v0.9M93.1 268.8v0.9M73.8 291.2v0.9M66.0 286.7v0.9M75.2 288.8v0.9M83.0 258.0v0.9M78.3 286.9v0.9M77.8 267.4v0.9M80.5 262.6v0.9M72.4 278.8v0.9M69.8 279.3v0.9M83.1 281.0v0.9M80.3 265.2v0.9M95.6 266.0v0.9M75.4 288.2v0.9M84.0 279.4v0.9M91.6 269.7v0.9M88.0 276.2v0.9M71.2 279.5v0.9M88.7 273.8v0.9M79.5 266.7v0.9M62.8 292.3v0.9M82.3 261.3v0.9M69.1 277.4v0.9M79.0 265.3v0.9M78.9 267.3v0.9M67.2 286.7v0.9M80.0 282.9v0.9M93.0 268.6v0.9M71.6 292.8v0.9M87.7 275.6v0.9M82.4 260.8v0.9M94.2 275.7v0.9M67.5 284.8v0.9M69.5 279.4v0.9M87.8 277.4v0.9M79.8 265.7v0.9M89.3 273.5v0.9M72.5 277.5v0.9M78.0 267.7v0.9" stroke="#9aa0d0" stroke-width="0.9" stroke-opacity="0.5"/>
<path d="M74.9 262.1v0.9M68.1 267.5v0.9M70.1 273.8v0.9M73.2 264.6v0.9M68.9 258.5v0.9M62.9 290.1v0.9M68.2 280.3v0.9M74.5 259.9v0.9M68.2 258.0v0.9M72.1 267.1v0.9M68.1 266.3v0.9M66.0 269.8v0.9M64.4 283.9v0.9M66.1 287.8v0.9M69.0 260.2v0.9M65.1 291.9v0.9M64.8 281.0v0.9M67.2 271.5v0.9M68.2 264.7v0.9M66.1 288.6v0.9M68.9 277.7v0.9M73.3 262.6v0.9M70.3 272.8v0.9M72.2 269.5v0.9M64.2 294.3v0.9M67.0 285.7v0.9M67.6 263.1v0.9M65.5 289.9v0.9M68.9 262.7v0.9M66.6 287.0v0.9M64.4 283.4v0.9M69.7 260.0v0.9M69.9 277.0v0.9M65.6 274.2v0.9M68.7 279.8v0.9M67.9 281.5v0.9M64.0 286.2v0.9M67.9 264.3v0.9M71.5 272.6v0.9M68.6 261.5v0.9M70.5 276.0v0.9M67.1 266.5v0.9M66.8 271.2v0.9M68.2 266.9v0.9M62.5 290.7v0.9M74.1 260.4v0.9M75.4 260.2v0.9M67.1 284.8v0.9M72.5 268.1v0.9M63.3 289.4v0.9M75.4 260.7v0.9M71.8 271.6v0.9M68.5 264.5v0.9M74.0 263.9v0.9M65.1 278.5v0.9M68.5 281.1v0.9M64.2 280.4v0.9M66.0 275.1v0.9M64.3 293.7v0.9M64.9 279.6v0.9M63.0 289.1v0.9M71.0 272.6v0.9M66.5 275.1v0.9M64.3 285.1v0.9M66.5 274.9v0.9M67.3 267.3v0.9M66.7 274.0v0.9M65.2 292.8v0.9M71.4 273.7v0.9M84.4 259.2v0.9M67.4 288.2v0.9M72.4 289.0v0.9M82.1 279.4v0.9M83.3 276.5v0.9M87.8 272.4v0.9M85.4 262.1v0.9M67.7 289.7v0.9M82.2 278.3v0.9M65.9 291.1v0.9M81.8 268.1v0.9M72.7 290.5v0.9M77.4 273.7v0.9M81.5 267.6v0.9M78.4 270.1v0.9M86.3 272.1v0.9M76.9 274.0v0.9M79.1 283.3v0.9M71.3 281.0v0.9M85.6 273.4v0.9M74.4 277.5v0.9M83.1 265.7v0.9M66.9 289.9v0.9M70.2 293.2v0.9M92.1 264.1v0.9M84.1 259.3v0.9M77.9 283.2v0.9M72.0 280.8v0.9M70.1 292.0v0.9M83.0 262.4v0.9M88.2 270.4v0.9M76.2 276.5v0.9M78.4 272.7v0.9M69.3 294.2v0.9M79.4 267.6v0.9M76.7 284.7v0.9M79.8 268.1v0.9M76.4 283.9v0.9M75.2 274.7v0.9M78.8 283.1v0.9M71.4 282.5v0.9M79.6 270.8v0.9M85.9 260.6v0.9M70.7 291.7v0.9M79.8 270.4v0.9M69.1 294.6v0.9M78.3 272.2v0.9M85.3 262.8v0.9M68.1 295.2v0.9M85.4 274.8v0.9M65.0 293.3v0.9M80.7 266.9v0.9M80.5 281.5v0.9M78.0 270.0v0.9M84.6 259.5v0.9M82.8 262.9v0.9M83.3 264.9v0.9M79.4 271.2v0.9M83.7 276.3v0.9M75.8 274.9v0.9M71.2 290.5v0.9M88.0 273.1v0.9M70.1 283.0v0.9M85.8 273.4v0.9M78.2 269.9v0.9M90.5 269.7v0.9M82.9 261.5v0.9M67.6 289.7v0.9M91.6 266.0v0.9M85.2 276.4v0.9M82.3 277.4v0.9M81.0 281.4v0.9M89.1 271.2v0.9M81.5 278.3v0.9M88.1 270.6v0.9M83.9 261.3v0.9M89.2 272.0v0.9M85.0 273.6v0.9M69.9 292.2v0.9M87.9 272.2v0.9M66.1 289.6v0.9M82.4 279.4v0.9M86.6 259.1v0.9M84.6 259.2v0.9M74.7 277.1v0.9M76.1 285.3v0.9M80.2 267.6v0.9M74.2 287.0v0.9M75.6 285.2v0.9M84.5 259.4v0.9M76.5 286.2v0.9M70.4 292.3v0.9M80.3 267.6v0.9M67.9 295.3v0.9M91.4 267.0v0.9M89.5 269.6v0.9M80.1 270.8v0.9M74.6 277.2v0.9M72.0 291.0v0.9M86.0 259.4v0.9M70.7 283.1v0.9M81.8 264.8v0.9M75.0 287.1v0.9M84.5 275.4v0.9M78.5 271.3v0.9M78.1 281.9v0.9M77.1 274.5v0.9M85.0 273.7v0.9M87.1 270.8v0.9M92.5 267.6v0.9M70.2 285.8v0.9M78.8 283.8v0.9M68.1 294.6v0.9M83.3 261.6v0.9M73.5 290.0v0.9M66.4 291.1v0.9M73.1 289.8v0.9M88.6 271.0v0.9M74.4 289.0v0.9M72.9 281.7v0.9M90.4 269.8v0.9M83.2 276.3v0.9M79.3 267.2v0.9M74.8 287.9v0.9M67.7 295.7v0.9M76.8 272.9v0.9M65.6 292.0v0.9" stroke="#7880c0" stroke-width="0.9" stroke-opacity="0.5"/>
<path d="M73.3 259.5v0.9M70.5 269.0v0.9M68.7 270.0v0.9M73.3 261.7v0.9M67.0 279.7v0.9M70.0 264.2v0.9M62.6 294.8v0.9M70.5 267.3v0.9M71.7 264.8v0.9M68.7 274.0v0.9M67.5 277.4v0.9M71.3 266.0v0.9M70.5 266.5v0.9M65.1 288.5v0.9M68.4 273.8v0.9M69.2 265.6v0.9M71.2 268.2v0.9M69.7 263.1v0.9M67.9 272.0v0.9M64.8 290.9v0.9M65.2 288.7v0.9M63.4 292.1v0.9M65.1 285.0v0.9M65.5 282.5v0.9M65.0 286.4v0.9M70.7 261.4v0.9M70.6 265.1v0.9M65.3 288.6v0.9M70.4 269.5v0.9M63.2 294.8v0.9M65.3 282.8v0.9M63.4 295.2v0.9M66.1 283.0v0.9M66.8 279.3v0.9M71.3 263.8v0.9M70.0 266.7v0.9M65.8 284.0v0.9M69.8 261.4v0.9M71.2 264.4v0.9M63.9 288.7v0.9M67.8 269.9v0.9M63.3 290.9v0.9M64.2 290.8v0.9M65.9 279.5v0.9M68.3 278.8v0.9M68.2 271.8v0.9M69.8 268.9v0.9M71.1 265.1v0.9M66.9 282.5v0.9M67.7 269.4v0.9M70.9 266.5v0.9M66.2 283.8v0.9M67.4 279.8v0.9M70.7 262.1v0.9M65.1 284.4v0.9M68.5 271.3v0.9M64.2 289.9v0.9M68.1 272.1v0.9M69.8 265.6v0.9M65.8 279.7v0.9M69.7 273.4v0.9M68.3 273.1v0.9M70.9 266.2v0.9M65.9 284.1v0.9M68.4 267.3v0.9M71.5 267.6v0.9M66.1 282.8v0.9M67.8 276.3v0.9M68.8 273.4v0.9M64.8 291.2v0.9M68.8 274.6v0.9M67.7 273.2v0.9M63.6 294.0v0.9M70.2 272.9v0.9M66.6 279.5v0.9M66.5 280.7v0.9M63.4 295.0v0.9M67.9 279.2v0.9M68.3 271.2v0.9M70.5 263.9v0.9M72.4 260.3v0.9M67.9 273.1v0.9M69.8 266.5v0.9M66.3 278.6v0.9M70.0 260.9v0.9M66.5 278.8v0.9M64.8 289.0v0.9M65.7 284.9v0.9M66.8 277.2v0.9M69.5 265.2v0.9M69.5 261.7v0.9M65.1 287.4v0.9M69.2 274.8v0.9M71.6 262.7v0.9M69.5 272.2v0.9M67.2 274.9v0.9M69.0 275.8v0.9M72.7 261.5v0.9M70.9 263.0v0.9M71.1 260.1v0.9M70.7 262.6v0.9M65.1 286.8v0.9M69.3 274.3v0.9M65.2 287.9v0.9M70.4 263.7v0.9M66.0 278.0v0.9M70.7 266.7v0.9M73.2 262.2v0.9M70.2 261.9v0.9M68.1 276.0v0.9M68.6 273.9v0.9M65.3 282.0v0.9M64.4 289.9v0.9M71.3 262.6v0.9M64.5 290.3v0.9M69.0 273.2v0.9M65.9 280.3v0.9M70.4 263.8v0.9M63.9 289.2v0.9M63.6 291.9v0.9M72.7 260.0v0.9M69.7 264.9v0.9M70.1 271.5v0.9M64.7 288.8v0.9M70.1 271.1v0.9M69.4 270.4v0.9M63.0 294.5v0.9M71.7 259.7v0.9M72.9 263.3v0.9M65.1 289.3v0.9M69.2 270.7v0.9M69.3 265.5v0.9M65.6 284.4v0.9M70.3 269.7v0.9M66.3 283.4v0.9M71.2 259.8v0.9M69.0 271.8v0.9M73.3 259.6v0.9M70.4 270.2v0.9M67.9 275.3v0.9M67.9 274.1v0.9M68.9 270.1v0.9M69.6 274.4v0.9M69.0 273.5v0.9M66.9 279.4v0.9M71.7 260.7v0.9M70.0 270.3v0.9M67.3 276.3v0.9M66.1 278.9v0.9M69.2 265.0v0.9M65.6 284.6v0.9M69.8 270.0v0.9M70.1 260.9v0.9M67.7 275.6v0.9M71.5 260.7v0.9M66.9 279.5v0.9M71.6 261.1v0.9M63.1 293.0v0.9M70.1 271.4v0.9M64.3 286.6v0.9M69.7 269.8v0.9M77.9 276.3v0.9M85.4 266.0v0.9M88.8 266.1v0.9M85.1 270.4v0.9M81.0 274.1v0.9M82.3 274.2v0.9M84.0 272.2v0.9M88.4 264.1v0.9M86.3 264.2v0.9M68.2 290.3v0.9M83.3 271.0v0.9M82.1 268.0v0.9M78.3 278.7v0.9M84.5 269.6v0.9M80.7 277.4v0.9M85.1 272.5v0.9M90.6 262.9v0.9M74.4 283.7v0.9M81.1 269.3v0.9M81.7 276.3v0.9M76.8 283.2v0.9M81.0 274.3v0.9M66.5 293.6v0.9M90.8 262.0v0.9M87.2 263.2v0.9M85.8 264.4v0.9M75.5 283.7v0.9M84.3 268.2v0.9M86.4 269.0v0.9M76.2 277.7v0.9M67.6 290.7v0.9M75.3 279.7v0.9M74.4 284.2v0.9M81.8 276.7v0.9M69.6 291.8v0.9M75.5 279.6v0.9M74.9 283.7v0.9M86.6 265.4v0.9M81.8 276.1v0.9M89.6 266.6v0.9M65.4 294.1v0.9M69.9 291.9v0.9M77.7 275.8v0.9M91.1 263.2v0.9M80.9 273.9v0.9M83.6 266.9v0.9M84.6 265.6v0.9M81.7 271.4v0.9M74.7 280.3v0.9M91.1 262.3v0.9M75.9 281.7v0.9M76.4 279.0v0.9M77.6 277.3v0.9M80.6 278.4v0.9M79.7 274.7v0.9M80.0 277.2v0.9M80.9 276.4v0.9M85.1 266.3v0.9M89.3 263.5v0.9M71.0 288.7v0.9M82.4 270.9v0.9M70.7 288.0v0.9M81.4 276.1v0.9M75.7 284.0v0.9M70.1 288.4v0.9M77.0 277.2v0.9M81.5 270.2v0.9M79.0 278.8v0.9M71.3 288.4v0.9M73.0 287.4v0.9M88.5 264.1v0.9M73.2 287.6v0.9M69.9 287.5v0.9M84.9 265.7v0.9M82.0 270.3v0.9M76.9 280.5v0.9M87.4 269.0v0.9M75.1 278.8v0.9M79.9 275.5v0.9M71.5 289.6v0.9M88.9 262.1v0.9M66.0 293.0v0.9M81.4 271.8v0.9M71.6 288.6v0.9M80.5 274.2v0.9M89.1 266.1v0.9M82.8 274.7v0.9M79.9 272.4v0.9M75.0 283.7v0.9M81.3 270.2v0.9M80.4 273.8v0.9M80.2 276.9v0.9M80.9 275.7v0.9M70.9 285.8v0.9M75.6 282.6v0.9M80.8 270.5v0.9M81.5 277.3v0.9M78.1 280.0v0.9M68.4 293.2v0.9M73.7 282.3v0.9M75.2 278.5v0.9M80.3 271.5v0.9M66.9 292.9v0.9M86.7 270.2v0.9M67.8 294.6v0.9M87.8 260.1v0.9M67.7 292.9v0.9M84.7 264.5v0.9M77.8 279.0v0.9M67.7 290.4v0.9M83.1 269.1v0.9M70.7 286.4v0.9M87.8 261.8v0.9M90.4 266.0v0.9M77.3 282.1v0.9M86.8 267.7v0.9M66.4 292.7v0.9M65.8 293.9v0.9M87.3 266.0v0.9M69.9 291.1v0.9M69.7 288.0v0.9M83.9 267.4v0.9M79.6 274.0v0.9M78.8 273.2v0.9M77.0 281.2v0.9M81.2 275.1v0.9M89.0 265.6v0.9M83.7 267.4v0.9M72.4 286.8v0.9M78.2 277.2v0.9M76.4 283.3v0.9M76.2 277.2v0.9M76.8 280.6v0.9M82.8 270.7v0.9M89.4 262.4v0.9M71.2 284.8v0.9M68.6 291.8v0.9M88.8 266.7v0.9M81.9 276.7v0.9M80.4 275.9v0.9M70.3 286.0v0.9M72.5 284.2v0.9M79.4 274.8v0.9M76.6 283.1v0.9M73.0 287.5v0.9M67.2 290.9v0.9M79.9 277.6v0.9M83.6 266.7v0.9M73.0 282.2v0.9M77.5 275.6v0.9M79.6 274.4v0.9M85.3 264.7v0.9M70.0 286.6v0.9M77.2 280.6v0.9M89.0 262.4v0.9M71.9 288.0v0.9M86.6 269.4v0.9M76.4 280.5v0.9M85.3 269.1v0.9M70.8 286.6v0.9M78.3 273.6v0.9M71.0 286.8v0.9M73.4 287.0v0.9M80.2 270.9v0.9M82.9 272.1v0.9M83.1 268.3v0.9M74.4 282.0v0.9M81.0 274.7v0.9M82.8 268.3v0.9M75.0 284.6v0.9M81.5 273.1v0.9M74.5 285.8v0.9M73.9 283.3v0.9M88.6 263.1v0.9M81.5 277.4v0.9M81.9 269.6v0.9M86.9 266.0v0.9M81.4 269.3v0.9M72.8 285.4v0.9M83.1 270.7v0.9M80.5 278.0v0.9M87.7 267.0v0.9M68.0 293.7v0.9M77.6 276.8v0.9M69.1 289.1v0.9M65.9 294.9v0.9M88.0 267.3v0.9M71.4 285.8v0.9M82.8 268.5v0.9M87.7 266.7v0.9M77.2 282.0v0.9M86.7 270.0v0.9M82.3 274.8v0.9M80.4 277.6v0.9M71.0 289.0v0.9M78.8 280.7v0.9M88.8 262.4v0.9M73.6 280.9v0.9M84.1 272.1v0.9M87.0 264.1v0.9M88.0 260.3v0.9M69.6 289.6v0.9M82.8 273.6v0.9M67.1 290.8v0.9M82.3 272.8v0.9M82.5 273.8v0.9M87.4 264.1v0.9M73.4 287.6v0.9M89.6 261.3v0.9M74.4 284.7v0.9M81.6 277.1v0.9M79.2 276.8v0.9M84.4 270.9v0.9M76.6 282.0v0.9M69.7 290.8v0.9M87.0 267.7v0.9M88.4 266.8v0.9M81.4 270.2v0.9M68.7 293.2v0.9M87.8 263.3v0.9M86.4 269.1v0.9M83.2 271.7v0.9M69.6 287.2v0.9M80.3 277.4v0.9M83.1 269.6v0.9M87.1 264.0v0.9M79.2 275.9v0.9M82.9 266.6v0.9M79.6 275.1v0.9M87.6 265.1v0.9M85.3 269.9v0.9M84.6 270.8v0.9M83.1 270.1v0.9M70.0 289.1v0.9M75.2 278.9v0.9M86.9 264.2v0.9M85.5 266.4v0.9M87.7 267.8v0.9M76.2 277.5v0.9M78.1 281.1v0.9M76.0 281.1v0.9M70.8 286.2v0.9M83.2 271.4v0.9M77.7 278.8v0.9M74.5 282.4v0.9M87.1 260.7v0.9M86.3 266.6v0.9M72.2 283.6v0.9M66.9 292.4v0.9M71.8 286.3v0.9M90.5 262.9v0.9M77.9 280.4v0.9M85.6 266.7v0.9M69.9 290.3v0.9M72.2 286.0v0.9M75.4 283.8v0.9M71.0 287.7v0.9M78.3 276.5v0.9M74.2 284.1v0.9M85.0 270.8v0.9M80.4 275.6v0.9M78.8 273.0v0.9M78.3 280.0v0.9M71.7 284.4v0.9" stroke="#506aa8" stroke-width="0.9" stroke-opacity="0.5"/>
<path d="M66.9 294.6 L68.4 291.4 L65.7 290.2 L64.3 293.4Z" fill="#58b040" fill-opacity="0.7" filter="url(#bl)"/>
<path d="M68.6 294.1v0.9M64.9 293.0v0.9M65.4 289.0v0.9M65.8 292.8v0.9M64.5 295.0v0.9M69.6 290.1v0.9M64.6 291.8v0.9M66.7 290.5v0.9M65.4 294.8v0.9M64.6 292.5v0.9M64.0 292.4v0.9M65.2 295.1v0.9M66.1 291.3v0.9M65.5 295.1v0.9M67.5 291.9v0.9M63.8 292.3v0.9M67.9 292.7v0.9M63.8 293.2v0.9M65.7 292.5v0.9M65.8 290.6v0.9M64.7 294.3v0.9M66.8 290.3v0.9M63.3 294.6v0.9M67.0 292.7v0.9M65.3 296.2v0.9M63.7 291.6v0.9M67.0 293.3v0.9M67.0 289.6v0.9M67.3 294.9v0.9M65.3 294.5v0.9M65.6 292.4v0.9M66.1 292.0v0.9M66.3 295.0v0.9M68.2 293.7v0.9M67.0 289.9v0.9M65.8 293.4v0.9M66.2 291.5v0.9M64.6 294.4v0.9M67.1 286.7v0.9M70.6 293.7v0.9M66.4 294.7v0.9M67.0 295.9v0.9M65.4 294.4v0.9M67.4 288.8v0.9M69.5 291.6v0.9M64.0 292.3v0.9M67.8 290.4v0.9M65.8 291.6v0.9M65.8 287.0v0.9M68.4 290.4v0.9M67.2 292.5v0.9M63.2 292.2v0.9M64.5 292.1v0.9M65.1 292.1v0.9M65.9 292.9v0.9M67.0 290.4v0.9M68.2 296.6v0.9M66.5 296.7v0.9M68.2 295.1v0.9M65.4 295.1v0.9M62.9 288.5v0.9M67.1 295.9v0.9M66.7 290.3v0.9M63.9 292.9v0.9M66.6 289.6v0.9M65.8 291.9v0.9M65.2 287.4v0.9M64.4 292.3v0.9M69.1 295.4v0.9M65.5 290.4v0.9M66.7 291.3v0.9M66.3 293.9v0.9M66.7 294.5v0.9M69.1 289.6v0.9M68.6 288.3v0.9M64.8 295.0v0.9M64.6 290.9v0.9M66.5 290.7v0.9M65.6 292.7v0.9M65.7 291.2v0.9" stroke="#58b040" stroke-width="0.9" stroke-opacity="0.5"/>
</g>
<path d="M76.40 257.20 L63.20 297.60 L68.10 299.60 L97.20 299.60" stroke="#222" stroke-width="0.7" fill="none" stroke-linejoin="round"/>
<rect x="59.60" y="256.70" width="38.40" height="43.70" fill="none" stroke="#666" stroke-width="1.2" rx="0.8"/>
<line x1="67.60" y1="299.40" x2="97.20" y2="299.40" stroke="#999" stroke-width="1.3"/>
<text x="86.70" y="296.80" font-size="6.20" fill="#000" textLength="9.20" lengthAdjust="spacingAndGlyphs" stroke="#000" stroke-width="0.2">373</text>
<rect x="104.40" y="256.70" width="38.80" height="43.70" fill="#fff"/>
<g clip-path="url(#cc5)">
<clipPath id="cc5"><rect x="104.9" y="257.2" width="37.8" height="42.7"/></clipPath>
<path d="M109.2 295.8 L120.7 259.9 L112.1 257.9 L106.2 295.0Z" fill="#bcc2e0" fill-opacity="0.6" filter="url(#bl)"/>
<path d="M108.5 295.6 L118.7 259.4 L114.1 258.4 L106.9 295.2Z" fill="#7688bc" fill-opacity="0.5" filter="url(#bl)"/>
<path d="M112.8 296.3 L143.5 264.9 L132.3 255.9 L108.0 292.5Z" fill="#bcc2e0" fill-opacity="0.6" filter="url(#bl)"/>
<path d="M111.7 295.4 L140.8 262.8 L135.0 258.0 L109.1 293.4Z" fill="#7688bc" fill-opacity="0.5" filter="url(#bl)"/>
<path d="M119.0 274.4v0.9M109.1 273.9v0.9M119.9 263.3v0.9M110.8 265.6v0.9M110.8 291.9v0.9M110.3 293.3v0.9M118.6 266.0v0.9M110.7 267.5v0.9M117.7 270.4v0.9M116.0 279.9v0.9M109.8 258.0v0.9M107.0 290.8v0.9M116.9 271.3v0.9M113.7 281.3v0.9M111.4 258.3v0.9M109.1 264.9v0.9M111.2 259.1v0.9M116.5 280.7v0.9M120.6 262.1v0.9M118.0 271.3v0.9M114.0 283.0v0.9M108.7 277.6v0.9M117.8 270.7v0.9M114.2 279.9v0.9M110.0 269.8v0.9M107.3 281.9v0.9M140.8 268.5v0.9M134.5 276.6v0.9M124.9 284.2v0.9M133.2 277.6v0.9M127.8 280.6v0.9M125.4 263.1v0.9M127.2 263.5v0.9M118.1 271.1v0.9M133.9 275.6v0.9M134.9 274.1v0.9M118.9 291.9v0.9M126.7 262.8v0.9M125.9 284.7v0.9M128.0 261.4v0.9M127.5 281.2v0.9M117.5 277.1v0.9M127.7 281.1v0.9M141.2 268.8v0.9M127.8 280.7v0.9M125.3 259.1v0.9M135.6 276.1v0.9M114.4 274.2v0.9M130.8 258.6v0.9M132.6 276.7v0.9M117.2 276.1v0.9M126.2 265.1v0.9M127.9 282.4v0.9M118.7 276.6v0.9M118.5 291.0v0.9M127.9 261.7v0.9M109.3 290.6v0.9M124.4 268.1v0.9M137.5 272.9v0.9M137.2 271.5v0.9M119.5 289.8v0.9M126.3 265.6v0.9M125.2 263.3v0.9M121.1 270.2v0.9M119.0 289.7v0.9M125.0 262.0v0.9M128.3 280.9v0.9M127.5 263.6v0.9M122.9 268.1v0.9M123.1 285.8v0.9M135.0 273.6v0.9M132.6 277.6v0.9M131.2 282.4v0.9M122.2 287.7v0.9M113.0 284.8v0.9M119.6 289.2v0.9M140.5 270.1v0.9M119.5 273.7v0.9M118.1 290.6v0.9M124.1 268.6v0.9M130.2 259.0v0.9M120.4 274.1v0.9" stroke="#9aa0d0" stroke-width="0.9" stroke-opacity="0.5"/>
<path d="M119.0 260.8v0.9M112.2 265.4v0.9M113.2 260.6v0.9M111.0 272.3v0.9M111.3 271.2v0.9M110.0 279.2v0.9M113.0 280.4v0.9M111.6 264.2v0.9M111.9 284.7v0.9M118.4 260.7v0.9M108.2 286.3v0.9M110.3 291.6v0.9M108.8 285.4v0.9M111.0 273.4v0.9M112.9 265.2v0.9M118.7 261.0v0.9M113.2 259.4v0.9M111.7 268.6v0.9M112.9 259.6v0.9M111.4 270.8v0.9M112.3 284.9v0.9M112.6 261.9v0.9M112.5 263.7v0.9M110.4 276.2v0.9M112.3 285.2v0.9M113.8 281.0v0.9M114.7 273.9v0.9M113.2 262.6v0.9M108.9 295.3v0.9M111.4 268.7v0.9M116.7 270.5v0.9M111.8 270.5v0.9M112.1 266.3v0.9M118.2 262.3v0.9M109.8 278.5v0.9M115.9 269.9v0.9M111.1 287.6v0.9M113.6 277.8v0.9M110.4 290.4v0.9M115.7 270.0v0.9M112.6 265.6v0.9M113.1 260.1v0.9M112.6 284.7v0.9M110.6 275.6v0.9M114.9 272.2v0.9M108.3 288.0v0.9M112.3 282.4v0.9M110.7 276.6v0.9M113.5 277.4v0.9M116.5 268.3v0.9M118.2 261.4v0.9M107.8 289.7v0.9M111.0 271.9v0.9M112.4 264.1v0.9M112.8 265.1v0.9M113.6 261.4v0.9M109.9 279.2v0.9M114.9 272.4v0.9M111.2 265.5v0.9M114.5 277.7v0.9M118.7 263.3v0.9M114.9 274.5v0.9M109.8 278.7v0.9M112.6 265.2v0.9M115.0 272.8v0.9M113.9 279.5v0.9M111.6 264.6v0.9M115.9 270.2v0.9M113.2 258.5v0.9M117.6 264.5v0.9M110.2 278.9v0.9M111.9 264.4v0.9M107.3 292.9v0.9M112.4 262.9v0.9M118.5 262.7v0.9M116.2 271.9v0.9M109.4 281.5v0.9M113.1 279.9v0.9M110.1 291.6v0.9M118.9 263.3v0.9M111.9 269.5v0.9M110.5 271.0v0.9M116.0 269.1v0.9M135.8 268.4v0.9M116.1 284.2v0.9M135.3 268.8v0.9M118.9 279.6v0.9M130.6 264.1v0.9M130.1 263.3v0.9M134.3 258.3v0.9M131.3 274.6v0.9M129.6 262.0v0.9M117.0 281.0v0.9M114.9 285.1v0.9M130.0 260.6v0.9M127.7 278.4v0.9M128.2 278.4v0.9M112.6 288.4v0.9M122.4 272.7v0.9M138.5 265.8v0.9M139.8 266.2v0.9M124.3 272.8v0.9M120.9 287.1v0.9M125.7 282.3v0.9M140.5 267.1v0.9M130.7 273.6v0.9M134.6 258.5v0.9M109.6 291.0v0.9M115.2 283.8v0.9M127.8 266.8v0.9M129.4 262.1v0.9M132.2 261.1v0.9M132.8 272.6v0.9M124.3 281.5v0.9M125.2 280.0v0.9M114.3 292.8v0.9M133.8 271.7v0.9M138.2 268.7v0.9M115.3 284.9v0.9M116.2 290.3v0.9M138.5 266.4v0.9M114.7 292.5v0.9M115.4 290.9v0.9M115.1 282.8v0.9M134.4 257.7v0.9M134.3 269.6v0.9M131.3 273.1v0.9M120.4 274.6v0.9M123.8 269.7v0.9M131.2 260.3v0.9M130.5 273.9v0.9M120.6 286.1v0.9M110.8 289.8v0.9M129.1 262.5v0.9M114.5 286.4v0.9M138.8 267.0v0.9M121.1 275.6v0.9M120.1 276.3v0.9M126.8 278.4v0.9M120.8 285.8v0.9M114.4 292.1v0.9M126.4 279.4v0.9M128.6 276.6v0.9M116.1 281.2v0.9M121.0 285.5v0.9M121.3 276.8v0.9M116.0 290.4v0.9M125.0 271.2v0.9M131.0 260.4v0.9M121.1 276.6v0.9M132.2 259.7v0.9M115.2 285.3v0.9M139.8 266.2v0.9M131.1 258.8v0.9M128.4 265.8v0.9M131.8 260.9v0.9M117.2 290.5v0.9M128.2 277.0v0.9M139.0 265.7v0.9M138.0 265.7v0.9M131.1 263.3v0.9M111.1 290.7v0.9M113.1 286.8v0.9M120.1 278.2v0.9M132.2 259.2v0.9M122.1 273.3v0.9M126.1 281.9v0.9M122.3 284.3v0.9M130.2 262.2v0.9M131.4 262.8v0.9M118.6 279.4v0.9M130.0 265.0v0.9M130.4 264.8v0.9M131.3 262.8v0.9M120.8 275.2v0.9M138.2 265.4v0.9M133.5 273.7v0.9M126.7 268.6v0.9M129.2 275.5v0.9M119.8 277.6v0.9M109.3 292.0v0.9M128.2 267.4v0.9M129.8 276.5v0.9M126.3 281.4v0.9M133.6 259.3v0.9M120.9 273.9v0.9M132.4 260.7v0.9M118.2 289.4v0.9M118.4 280.0v0.9M125.6 267.7v0.9M122.7 272.5v0.9M121.8 285.0v0.9M115.1 291.9v0.9M115.9 284.3v0.9M130.1 276.0v0.9M113.6 287.4v0.9M133.0 272.9v0.9M127.4 266.0v0.9M122.7 273.1v0.9M113.8 292.8v0.9M134.4 259.0v0.9M128.2 263.2v0.9M141.3 263.7v0.9M136.7 269.8v0.9M117.2 281.7v0.9M117.8 278.5v0.9M126.9 280.6v0.9M125.9 270.1v0.9M114.3 285.5v0.9M117.3 282.2v0.9M126.1 269.0v0.9M135.6 269.6v0.9M119.0 277.4v0.9M118.3 288.9v0.9M122.6 283.1v0.9M137.2 267.9v0.9M120.5 277.2v0.9M127.2 280.0v0.9M129.6 264.7v0.9M125.4 271.0v0.9M127.2 279.2v0.9M136.0 269.1v0.9M114.2 294.0v0.9M136.6 267.0v0.9M133.9 270.0v0.9M116.1 282.2v0.9M131.2 274.2v0.9M132.0 273.3v0.9M130.1 264.6v0.9M131.0 262.7v0.9M128.9 276.1v0.9M135.4 268.9v0.9" stroke="#7880c0" stroke-width="0.9" stroke-opacity="0.5"/>
<path d="M110.9 276.9v0.9M111.0 279.2v0.9M112.6 272.2v0.9M110.5 285.5v0.9M109.0 288.1v0.9M110.0 286.1v0.9M115.3 259.2v0.9M112.8 276.8v0.9M108.0 291.4v0.9M109.7 284.5v0.9M114.1 270.0v0.9M114.2 267.5v0.9M108.0 294.4v0.9M116.0 259.0v0.9M109.3 288.8v0.9M112.5 276.1v0.9M111.9 274.4v0.9M109.2 289.4v0.9M117.0 262.9v0.9M112.8 275.3v0.9M117.7 259.3v0.9M116.3 265.5v0.9M111.6 280.2v0.9M110.3 283.8v0.9M111.5 281.2v0.9M113.3 268.6v0.9M108.2 292.0v0.9M112.7 275.0v0.9M111.2 283.8v0.9M113.5 266.6v0.9M110.5 281.9v0.9M111.1 275.1v0.9M117.8 260.4v0.9M110.5 283.2v0.9M113.7 268.9v0.9M109.9 288.0v0.9M115.7 269.3v0.9M114.6 259.3v0.9M114.4 264.6v0.9M116.8 261.4v0.9M113.7 276.4v0.9M108.5 288.3v0.9M110.3 282.8v0.9M112.0 279.5v0.9M116.2 265.9v0.9M113.1 267.3v0.9M115.0 265.6v0.9M111.1 280.7v0.9M115.4 266.2v0.9M114.7 261.2v0.9M111.9 276.6v0.9M112.7 273.5v0.9M114.4 270.3v0.9M113.6 267.2v0.9M108.2 294.0v0.9M113.4 272.7v0.9M113.2 273.7v0.9M108.2 291.0v0.9M115.1 263.6v0.9M114.5 261.1v0.9M109.7 289.0v0.9M113.9 260.8v0.9M111.2 278.0v0.9M113.0 273.7v0.9M112.4 273.0v0.9M112.9 272.1v0.9M114.8 263.6v0.9M110.4 282.5v0.9M114.1 266.9v0.9M113.6 272.1v0.9M112.1 275.8v0.9M108.2 293.3v0.9M108.8 286.1v0.9M113.4 272.3v0.9M113.3 270.3v0.9M108.2 290.2v0.9M112.4 276.3v0.9M110.4 284.1v0.9M113.7 268.1v0.9M110.4 282.5v0.9M115.5 260.8v0.9M111.0 284.5v0.9M114.7 268.9v0.9M107.9 293.4v0.9M109.0 289.0v0.9M113.0 277.0v0.9M111.0 279.0v0.9M111.5 277.0v0.9M112.7 270.6v0.9M116.6 262.6v0.9M109.3 286.6v0.9M114.4 261.5v0.9M115.5 265.2v0.9M116.5 259.0v0.9M112.4 270.2v0.9M116.6 264.9v0.9M115.0 259.5v0.9M117.7 259.3v0.9M115.1 267.3v0.9M112.5 278.0v0.9M112.8 273.3v0.9M113.1 273.6v0.9M111.1 281.2v0.9M115.1 265.4v0.9M112.9 268.5v0.9M115.4 264.0v0.9M112.6 275.0v0.9M114.3 266.8v0.9M110.9 278.6v0.9M116.4 260.8v0.9M111.8 276.6v0.9M112.8 272.9v0.9M115.7 258.8v0.9M114.9 267.4v0.9M116.4 259.5v0.9M109.5 286.1v0.9M113.5 266.5v0.9M116.5 259.0v0.9M113.0 273.6v0.9M112.1 280.1v0.9M112.3 277.5v0.9M115.6 259.0v0.9M110.2 281.3v0.9M116.2 266.3v0.9M111.4 274.2v0.9M110.3 284.6v0.9M111.6 276.1v0.9M107.4 294.9v0.9M110.6 279.2v0.9M112.5 272.9v0.9M111.0 280.5v0.9M114.5 266.6v0.9M113.3 268.2v0.9M113.3 272.9v0.9M116.0 259.8v0.9M112.1 277.5v0.9M113.8 272.1v0.9M114.2 263.3v0.9M111.1 281.1v0.9M109.5 289.4v0.9M109.3 286.3v0.9M114.4 269.0v0.9M113.8 271.9v0.9M114.9 267.3v0.9M114.5 269.1v0.9M108.8 286.7v0.9M112.6 277.7v0.9M111.7 279.6v0.9M112.5 274.5v0.9M112.6 278.1v0.9M110.7 277.4v0.9M124.0 276.6v0.9M124.2 278.4v0.9M128.4 272.7v0.9M119.1 286.7v0.9M129.0 269.7v0.9M117.6 282.9v0.9M119.3 286.0v0.9M126.2 276.9v0.9M123.2 278.0v0.9M118.8 285.9v0.9M124.2 273.9v0.9M112.3 290.6v0.9M131.5 268.1v0.9M117.9 281.9v0.9M133.6 269.9v0.9M125.4 274.6v0.9M128.3 273.8v0.9M133.8 267.5v0.9M131.6 270.0v0.9M126.1 276.3v0.9M133.4 262.6v0.9M126.5 277.7v0.9M128.2 272.2v0.9M112.0 293.6v0.9M130.4 266.4v0.9M130.0 271.8v0.9M121.4 280.0v0.9M116.0 285.7v0.9M111.2 291.8v0.9M117.0 288.3v0.9M119.8 283.2v0.9M115.4 290.1v0.9M124.1 278.4v0.9M115.9 285.4v0.9M132.3 268.1v0.9M134.6 263.4v0.9M138.2 262.2v0.9M137.6 264.8v0.9M132.8 263.2v0.9M112.9 292.9v0.9M123.9 276.5v0.9M114.0 288.0v0.9M138.7 263.4v0.9M126.0 278.9v0.9M112.6 291.3v0.9M121.6 282.9v0.9M121.2 277.4v0.9M130.3 268.6v0.9M130.9 269.3v0.9M113.5 288.3v0.9M112.8 289.9v0.9M134.1 264.3v0.9M124.2 277.1v0.9M136.7 265.7v0.9M135.2 263.1v0.9M130.8 270.3v0.9M129.9 271.5v0.9M135.2 260.7v0.9M131.7 270.9v0.9M130.6 271.3v0.9M122.7 282.5v0.9M125.1 274.7v0.9M128.2 276.3v0.9M134.5 262.6v0.9M131.4 266.7v0.9M118.4 284.1v0.9M134.2 260.8v0.9M114.7 287.8v0.9M130.7 266.0v0.9M125.0 275.3v0.9M113.2 288.9v0.9M122.3 278.5v0.9M126.8 277.6v0.9M133.2 269.3v0.9M128.3 270.0v0.9M127.9 269.9v0.9M126.2 272.4v0.9M124.6 274.8v0.9M132.6 263.6v0.9M120.7 279.4v0.9M127.5 275.2v0.9M125.5 278.0v0.9M134.4 264.8v0.9M124.4 275.7v0.9M123.0 282.2v0.9M127.7 275.0v0.9M137.6 260.3v0.9M129.2 273.9v0.9M130.8 270.0v0.9M116.3 288.1v0.9M112.8 290.8v0.9M130.4 273.4v0.9M114.5 287.5v0.9M132.4 266.0v0.9M123.8 274.9v0.9M137.4 263.8v0.9M125.8 276.6v0.9M127.5 274.5v0.9M127.6 271.1v0.9M121.5 280.9v0.9M116.8 287.1v0.9M134.2 269.2v0.9M130.2 268.6v0.9M132.9 265.2v0.9M130.8 264.7v0.9M127.7 275.0v0.9M121.7 282.6v0.9M122.1 277.1v0.9M113.5 289.1v0.9M123.0 281.4v0.9M134.8 264.7v0.9M128.9 268.4v0.9M120.0 282.0v0.9M114.2 288.7v0.9M133.5 261.8v0.9M132.3 269.1v0.9M111.1 292.6v0.9M138.6 263.7v0.9M128.9 272.0v0.9M135.4 263.8v0.9M132.1 267.3v0.9M130.7 268.1v0.9M128.1 276.2v0.9M111.9 290.0v0.9M116.8 285.1v0.9M128.5 270.4v0.9M134.8 263.2v0.9M118.6 285.5v0.9M120.5 279.8v0.9M125.6 276.1v0.9M128.4 269.6v0.9M121.1 279.9v0.9M116.1 284.3v0.9M119.5 282.1v0.9M121.1 284.1v0.9M112.2 292.4v0.9M118.8 284.0v0.9M109.8 293.4v0.9M122.9 277.4v0.9M134.8 263.8v0.9M115.2 285.9v0.9M122.3 278.0v0.9M125.0 275.7v0.9M131.9 271.1v0.9M118.3 283.9v0.9M131.3 272.8v0.9M118.3 281.8v0.9M131.8 265.7v0.9M122.6 279.5v0.9M130.7 271.5v0.9M125.2 278.4v0.9M125.4 272.7v0.9M121.4 279.3v0.9M132.1 270.7v0.9M128.9 267.4v0.9M115.1 286.5v0.9M137.2 260.2v0.9M128.7 268.3v0.9M123.8 276.4v0.9M135.4 263.4v0.9M131.6 264.3v0.9M110.8 292.1v0.9M130.1 272.5v0.9M125.8 276.2v0.9M125.8 277.6v0.9M110.6 294.4v0.9M126.1 276.2v0.9M128.7 273.1v0.9M139.8 262.6v0.9M115.6 289.5v0.9M120.7 281.9v0.9M134.3 266.3v0.9M120.1 282.2v0.9M117.7 285.5v0.9M132.5 271.3v0.9M123.9 278.0v0.9M125.0 273.6v0.9M111.2 292.9v0.9M133.1 270.3v0.9M137.0 265.5v0.9M130.2 268.1v0.9M117.1 287.4v0.9M114.5 287.1v0.9M123.7 276.0v0.9M117.5 284.6v0.9M114.7 290.3v0.9M131.8 263.8v0.9M131.5 271.4v0.9M112.7 290.2v0.9M124.4 280.0v0.9M134.0 262.0v0.9M135.8 259.4v0.9M126.6 275.5v0.9M137.9 261.7v0.9M136.5 267.0v0.9M118.8 283.6v0.9M122.0 276.3v0.9M125.5 275.9v0.9M136.6 262.8v0.9M125.1 277.1v0.9M135.2 258.8v0.9M130.5 269.2v0.9M123.5 278.3v0.9M125.0 277.5v0.9M126.2 277.8v0.9M123.5 275.4v0.9M136.1 259.8v0.9M120.3 279.0v0.9M131.8 263.2v0.9M127.1 272.7v0.9M124.6 279.4v0.9M123.2 281.9v0.9M111.5 293.4v0.9M132.5 269.8v0.9M132.1 268.8v0.9M132.4 262.4v0.9M125.7 277.9v0.9M138.9 261.6v0.9M125.7 274.8v0.9M126.8 271.9v0.9M127.4 272.5v0.9M136.6 262.5v0.9M130.6 267.8v0.9M113.2 293.0v0.9M116.3 285.0v0.9M114.0 290.6v0.9M132.1 266.7v0.9M135.1 261.7v0.9M130.1 266.5v0.9M132.0 270.6v0.9M117.8 285.4v0.9M119.1 283.6v0.9M128.5 271.0v0.9M123.4 277.4v0.9M123.8 274.1v0.9M123.2 279.5v0.9M126.2 272.8v0.9M135.7 267.0v0.9M112.4 290.7v0.9M114.5 286.7v0.9M132.1 269.1v0.9M116.3 287.5v0.9M131.5 264.4v0.9M119.0 285.5v0.9M115.5 286.9v0.9M122.6 279.0v0.9M134.3 268.4v0.9M120.3 285.1v0.9M132.0 263.4v0.9M123.2 276.6v0.9M120.2 283.0v0.9M133.6 262.8v0.9M138.2 264.3v0.9M121.2 281.0v0.9M127.5 274.3v0.9M127.9 273.7v0.9M131.5 272.5v0.9M118.0 286.7v0.9M114.5 286.7v0.9M114.3 288.3v0.9M129.2 266.9v0.9M118.8 282.8v0.9M127.1 271.3v0.9M121.6 281.7v0.9M128.0 271.0v0.9M115.3 288.1v0.9M125.7 279.0v0.9M116.2 286.0v0.9M124.7 274.7v0.9M111.1 292.6v0.9M118.1 283.1v0.9M111.7 292.5v0.9M132.6 262.9v0.9M129.9 274.5v0.9M119.3 284.7v0.9" stroke="#506aa8" stroke-width="0.9" stroke-opacity="0.5"/>
<path d="M111.7 293.6 L113.2 290.4 L110.5 289.2 L109.1 292.4Z" fill="#58b040" fill-opacity="0.7" filter="url(#bl)"/>
<path d="M110.8 293.1v0.9M112.6 290.1v0.9M109.0 292.6v0.9M110.4 293.9v0.9M111.5 290.2v0.9M112.2 288.0v0.9M112.9 290.7v0.9M113.3 289.8v0.9M110.4 292.8v0.9M110.3 291.0v0.9M111.9 290.4v0.9M108.6 290.7v0.9M111.5 289.8v0.9M110.1 288.5v0.9M110.2 292.0v0.9M110.9 293.2v0.9M108.0 292.7v0.9M111.5 287.9v0.9M112.3 289.5v0.9M114.6 295.2v0.9M112.8 294.0v0.9M111.7 294.7v0.9M110.4 293.1v0.9M110.1 295.7v0.9M109.9 290.9v0.9M113.6 292.7v0.9M110.4 288.6v0.9M112.6 287.2v0.9M109.3 289.3v0.9M111.6 292.2v0.9M112.0 292.5v0.9M110.0 294.4v0.9M109.2 289.8v0.9M110.3 292.4v0.9M110.9 293.9v0.9M107.3 293.0v0.9M110.6 293.5v0.9M110.2 288.3v0.9M113.5 292.7v0.9M108.7 291.2v0.9M111.6 292.1v0.9M112.0 292.4v0.9M112.8 290.8v0.9M111.9 292.8v0.9M109.8 291.7v0.9M110.9 290.9v0.9M110.8 291.0v0.9M110.8 288.6v0.9M111.3 290.0v0.9M110.6 294.3v0.9" stroke="#58b040" stroke-width="0.9" stroke-opacity="0.5"/>
<path d="M120.6 285.3 L126.6 277.3 L124.2 275.5 L118.2 283.5Z" fill="#5aa060" fill-opacity="0.6" filter="url(#bl)"/>
<path d="M117.1 285.9v0.9M124.9 275.0v0.9M121.8 280.5v0.9M124.7 274.8v0.9M119.8 283.9v0.9M119.9 288.3v0.9M121.9 275.8v0.9M122.5 287.3v0.9M118.6 282.9v0.9M117.3 283.1v0.9M116.3 287.6v0.9M122.1 283.9v0.9M125.3 278.6v0.9M123.1 277.6v0.9M124.4 274.6v0.9M120.6 285.3v0.9M117.5 284.8v0.9M124.3 280.5v0.9M125.4 279.1v0.9M120.7 282.2v0.9M117.8 283.5v0.9M121.2 280.3v0.9M124.7 279.7v0.9M121.8 287.2v0.9M125.2 278.8v0.9M123.1 277.7v0.9M122.9 275.5v0.9M124.8 277.9v0.9M124.8 279.0v0.9M115.3 287.6v0.9M125.5 277.1v0.9M121.8 282.8v0.9M122.7 279.0v0.9M116.8 289.2v0.9M120.5 281.5v0.9M119.5 279.5v0.9M122.2 277.6v0.9M124.8 273.8v0.9M118.2 283.6v0.9M118.4 284.6v0.9M117.8 280.6v0.9M121.9 278.0v0.9M122.6 278.9v0.9M120.8 281.0v0.9M124.9 281.2v0.9M120.8 281.1v0.9M120.8 279.7v0.9M120.2 284.5v0.9M123.7 281.8v0.9M125.4 273.6v0.9M124.8 281.1v0.9M121.0 281.2v0.9M122.9 276.0v0.9M119.4 286.9v0.9M123.8 283.2v0.9M121.4 280.5v0.9M125.0 276.5v0.9M124.7 276.0v0.9M119.6 277.7v0.9M118.0 283.7v0.9M120.6 285.1v0.9M118.8 284.1v0.9M125.2 277.1v0.9M123.2 282.4v0.9M120.4 281.1v0.9M125.2 276.0v0.9M120.0 281.6v0.9M121.3 291.6v0.9M122.2 281.8v0.9M115.8 281.6v0.9M125.6 275.3v0.9M121.5 285.0v0.9M124.7 278.5v0.9M128.0 269.6v0.9M119.1 282.1v0.9M119.7 285.8v0.9M123.1 279.6v0.9M120.1 282.3v0.9M129.3 268.5v0.9M121.7 276.7v0.9M123.3 278.7v0.9M118.7 287.0v0.9M122.4 277.7v0.9M119.4 283.8v0.9M124.3 282.4v0.9M121.1 280.2v0.9M115.7 285.0v0.9M123.1 281.0v0.9M121.7 279.3v0.9M126.9 278.4v0.9" stroke="#58b040" stroke-width="0.9" stroke-opacity="0.5"/>
<circle cx="111.9" cy="293.9" r="1.1" fill="#d07030" fill-opacity="0.8" filter="url(#bl)"/>
</g>
<path d="M121.20 257.20 L108.00 297.60 L112.90 299.60 L142.40 299.60" stroke="#222" stroke-width="0.7" fill="none" stroke-linejoin="round"/>
<rect x="104.40" y="256.70" width="38.80" height="43.70" fill="none" stroke="#666" stroke-width="1.2" rx="0.8"/>
<line x1="112.40" y1="299.40" x2="142.40" y2="299.40" stroke="#999" stroke-width="1.3"/>
<text x="131.90" y="296.80" font-size="6.20" fill="#000" textLength="9.20" lengthAdjust="spacingAndGlyphs" stroke="#000" stroke-width="0.2">451</text>
<line x1="9.00" y1="309.40" x2="9.00" y2="281.50" stroke="#222" stroke-width="0.7"/>
<path d="M9 279.5 L7.8 282.2 L10.2 282.2 Z" fill="#222"/>
<line x1="9.00" y1="309.40" x2="40.50" y2="309.40" stroke="#222" stroke-width="0.7"/>
<path d="M42.6 309.4 L39.9 308.2 L39.9 310.6 Z" fill="#222"/>
<text x="5.90" y="305.00" font-size="4.40" fill="#111" textLength="23.30" lengthAdjust="spacingAndGlyphs" transform="rotate(-90 5.90 305.00)" stroke="#111" stroke-width="0.15">Side Scatter</text>
<text x="10.20" y="314.60" font-size="4.51" fill="#111" textLength="30.60" lengthAdjust="spacingAndGlyphs" stroke="#111" stroke-width="0.15">Forward Scatter</text>
<text x="154.30" y="202.60" font-size="12.06" fill="#111" font-weight="bold" textLength="8.50" lengthAdjust="spacingAndGlyphs">D</text>
<text x="194.60" y="221.00" font-size="5.52" fill="#111" font-weight="bold" textLength="47.30" lengthAdjust="spacingAndGlyphs">IFN-γ Production</text>
<rect x="179.30" y="225.60" width="77.40" height="34.20" fill="#fff" stroke="#999" stroke-width="0.6"/>
<text x="173.10" y="261.50" font-size="5.00" fill="#222" font-weight="bold" textLength="2.50" lengthAdjust="spacingAndGlyphs">0</text>
<line x1="179.30" y1="252.96" x2="256.70" y2="252.96" stroke="#c8c8c8" stroke-width="0.5"/>
<text x="165.60" y="254.66" font-size="5.00" fill="#222" font-weight="bold" textLength="10.00" lengthAdjust="spacingAndGlyphs">1000</text>
<line x1="179.30" y1="246.12" x2="256.70" y2="246.12" stroke="#c8c8c8" stroke-width="0.5"/>
<text x="165.60" y="247.82" font-size="5.00" fill="#222" font-weight="bold" textLength="10.00" lengthAdjust="spacingAndGlyphs">2000</text>
<line x1="179.30" y1="239.28" x2="256.70" y2="239.28" stroke="#c8c8c8" stroke-width="0.5"/>
<text x="165.60" y="240.98" font-size="5.00" fill="#222" font-weight="bold" textLength="10.00" lengthAdjust="spacingAndGlyphs">3000</text>
<line x1="179.30" y1="232.44" x2="256.70" y2="232.44" stroke="#c8c8c8" stroke-width="0.5"/>
<text x="165.60" y="234.14" font-size="5.00" fill="#222" font-weight="bold" textLength="10.00" lengthAdjust="spacingAndGlyphs">4000</text>
<text x="165.60" y="227.30" font-size="5.00" fill="#222" font-weight="bold" textLength="10.00" lengthAdjust="spacingAndGlyphs">5000</text>
<line x1="179.30" y1="225.60" x2="179.30" y2="259.80" stroke="#555" stroke-width="0.7"/>
<line x1="179.30" y1="259.80" x2="256.70" y2="259.80" stroke="#555" stroke-width="0.7"/>
<rect x="184.70" y="248.86" width="7.60" height="10.94" fill="#111"/>
<line x1="188.50" y1="248.86" x2="188.50" y2="243.73" stroke="#111" stroke-width="0.6"/>
<line x1="187.50" y1="243.73" x2="189.50" y2="243.73" stroke="#111" stroke-width="0.6"/>
<rect x="192.50" y="258.09" width="5.70" height="1.71" fill="#c4c4c4" stroke="#333" stroke-width="0.4"/>
<line x1="194.35" y1="257.68" x2="196.35" y2="257.68" stroke="#111" stroke-width="0.5"/>
<rect x="210.50" y="248.17" width="7.80" height="11.63" fill="#111"/>
<line x1="214.40" y1="248.17" x2="214.40" y2="245.78" stroke="#111" stroke-width="0.6"/>
<line x1="213.40" y1="245.78" x2="215.40" y2="245.78" stroke="#111" stroke-width="0.6"/>
<rect x="219.00" y="256.93" width="6.30" height="2.87" fill="#c4c4c4" stroke="#333" stroke-width="0.4"/>
<line x1="221.15" y1="256.52" x2="223.15" y2="256.52" stroke="#111" stroke-width="0.5"/>
<rect x="236.30" y="235.18" width="7.90" height="24.62" fill="#111"/>
<line x1="240.25" y1="235.18" x2="240.25" y2="229.70" stroke="#111" stroke-width="0.6"/>
<line x1="239.25" y1="229.70" x2="241.25" y2="229.70" stroke="#111" stroke-width="0.6"/>
<rect x="244.80" y="257.75" width="6.40" height="2.05" fill="#c4c4c4" stroke="#333" stroke-width="0.4"/>
<line x1="247.00" y1="257.34" x2="249.00" y2="257.34" stroke="#111" stroke-width="0.5"/>
<text x="162.00" y="252.20" font-size="5.40" fill="#111" font-weight="bold" textLength="18.50" lengthAdjust="spacingAndGlyphs" transform="rotate(-90 162.00 252.20)">pg/ml</text>
<text x="183.30" y="269.00" font-size="5.52" fill="#111" textLength="19.00" lengthAdjust="spacingAndGlyphs" stroke="#111" stroke-width="0.15">anti-CD3</text>
<text x="213.00" y="269.00" font-size="5.52" fill="#111" textLength="10.40" lengthAdjust="spacingAndGlyphs" stroke="#111" stroke-width="0.15">anti-</text>
<text x="207.00" y="274.20" font-size="5.52" fill="#111" textLength="22.50" lengthAdjust="spacingAndGlyphs" stroke="#111" stroke-width="0.15">CD3+anti-</text>
<text x="212.20" y="279.40" font-size="5.52" fill="#111" textLength="11.20" lengthAdjust="spacingAndGlyphs" stroke="#111" stroke-width="0.15">CD28</text>
<text x="238.70" y="269.00" font-size="5.52" fill="#111" textLength="9.80" lengthAdjust="spacingAndGlyphs" stroke="#111" stroke-width="0.15">anti-</text>
<text x="233.00" y="274.20" font-size="5.52" fill="#111" textLength="21.60" lengthAdjust="spacingAndGlyphs" stroke="#111" stroke-width="0.15">CD3+IL-2</text>
<rect x="258.90" y="235.50" width="22.60" height="14.20" fill="#fff" stroke="#aaa" stroke-width="0.5"/>
<rect x="261.10" y="237.30" width="3.50" height="3.60" fill="#111"/>
<text x="266.00" y="241.80" font-size="5.52" fill="#111" font-weight="bold" textLength="10.60" lengthAdjust="spacingAndGlyphs">Cre-</text>
<rect x="261.10" y="244.90" width="3.50" height="3.50" fill="#c4c4c4" stroke="#333" stroke-width="0.3"/>
<text x="266.00" y="248.40" font-size="5.52" fill="#111" font-weight="bold" textLength="13.30" lengthAdjust="spacingAndGlyphs">Cre+</text>
<text x="325.60" y="220.70" font-size="5.81" fill="#111" font-weight="bold" textLength="39.50" lengthAdjust="spacingAndGlyphs">IL-2 Production</text>
<rect x="309.60" y="226.20" width="71.60" height="38.70" fill="#fff" stroke="#999" stroke-width="0.6"/>
<text x="304.70" y="266.60" font-size="5.00" fill="#222" font-weight="bold" textLength="2.70" lengthAdjust="spacingAndGlyphs">0</text>
<line x1="309.60" y1="255.22" x2="381.20" y2="255.22" stroke="#c8c8c8" stroke-width="0.5"/>
<text x="296.60" y="256.92" font-size="5.00" fill="#222" font-weight="bold" textLength="10.80" lengthAdjust="spacingAndGlyphs">2000</text>
<line x1="309.60" y1="245.55" x2="381.20" y2="245.55" stroke="#c8c8c8" stroke-width="0.5"/>
<text x="296.60" y="247.25" font-size="5.00" fill="#222" font-weight="bold" textLength="10.80" lengthAdjust="spacingAndGlyphs">4000</text>
<line x1="309.60" y1="235.88" x2="381.20" y2="235.88" stroke="#c8c8c8" stroke-width="0.5"/>
<text x="296.60" y="237.57" font-size="5.00" fill="#222" font-weight="bold" textLength="10.80" lengthAdjust="spacingAndGlyphs">6000</text>
<text x="296.60" y="227.90" font-size="5.00" fill="#222" font-weight="bold" textLength="10.80" lengthAdjust="spacingAndGlyphs">8000</text>
<line x1="309.60" y1="226.20" x2="309.60" y2="264.90" stroke="#555" stroke-width="0.7"/>
<line x1="309.60" y1="264.90" x2="381.20" y2="264.90" stroke="#555" stroke-width="0.7"/>
<rect x="324.50" y="238.29" width="21.40" height="26.61" fill="#111"/>
<line x1="335.20" y1="238.29" x2="335.20" y2="232.49" stroke="#111" stroke-width="0.6"/>
<line x1="334.20" y1="232.49" x2="336.20" y2="232.49" stroke="#111" stroke-width="0.6"/>
<rect x="346.10" y="255.27" width="20.40" height="9.63" fill="#c4c4c4" stroke="#333" stroke-width="0.5"/>
<line x1="355.30" y1="254.26" x2="357.30" y2="254.26" stroke="#111" stroke-width="0.5"/>
<text x="293.60" y="252.80" font-size="5.20" fill="#111" font-weight="bold" textLength="10.70" lengthAdjust="spacingAndGlyphs" transform="rotate(-90 293.60 252.80)">pg/ml</text>
<text x="316.10" y="273.70" font-size="5.52" fill="#111" font-weight="bold" textLength="57.00" lengthAdjust="spacingAndGlyphs">anti-CD3 + anti-CD28</text>
<rect x="384.10" y="237.80" width="19.30" height="14.40" fill="#fff" stroke="#aaa" stroke-width="0.5"/>
<rect x="385.50" y="240.30" width="2.80" height="3.30" fill="#111"/>
<text x="390.20" y="244.00" font-size="4.94" fill="#111" font-weight="bold" textLength="9.50" lengthAdjust="spacingAndGlyphs">Cre-</text>
<rect x="385.50" y="246.90" width="2.80" height="3.30" fill="#c4c4c4" stroke="#333" stroke-width="0.3"/>
<text x="390.20" y="250.20" font-size="4.94" fill="#111" font-weight="bold" textLength="12.00" lengthAdjust="spacingAndGlyphs">Cre+</text>
<line x1="355.60" y1="255.27" x2="355.60" y2="254.02" stroke="#111" stroke-width="0.5"/>
<text x="417.00" y="200.40" font-size="10.47" fill="#111" font-weight="bold" textLength="7.20" lengthAdjust="spacingAndGlyphs">E</text>
<rect x="430.20" y="208.40" width="64.10" height="63.60" fill="#fff" stroke="#444" stroke-width="0.8"/>
<line x1="430.20" y1="222.23" x2="431.40" y2="222.23" stroke="#444" stroke-width="0.5"/>
<line x1="430.20" y1="236.05" x2="431.40" y2="236.05" stroke="#444" stroke-width="0.5"/>
<line x1="430.20" y1="249.88" x2="431.40" y2="249.88" stroke="#444" stroke-width="0.5"/>
<path d="M460.9 248.0v0.8M457.8 261.9v0.8M475.1 245.6v0.8M479.8 241.9v0.8M482.7 255.3v0.8M481.0 255.7v0.8M491.3 258.2v0.8M466.8 254.9v0.8M471.6 245.1v0.8M459.4 261.6v0.8M483.4 266.9v0.8M477.3 252.2v0.8M463.6 258.6v0.8M475.5 266.2v0.8M480.1 248.3v0.8M458.1 237.4v0.8M481.7 249.7v0.8M463.5 237.7v0.8M468.3 264.7v0.8M458.0 259.8v0.8M480.7 257.1v0.8M473.0 244.0v0.8M476.7 254.7v0.8M490.4 252.5v0.8M461.7 265.0v0.8M474.4 246.9v0.8M475.5 240.9v0.8M453.9 264.3v0.8M466.8 261.7v0.8M455.1 251.1v0.8" stroke="#e090a0" stroke-width="0.8" stroke-opacity="0.5"/>
<path d="M456.1 261.7v0.8M473.1 248.6v0.8M463.1 242.8v0.8M454.9 258.1v0.8M459.7 239.3v0.8M463.1 250.5v0.8M491.4 248.3v0.8M464.0 267.1v0.8M478.9 250.7v0.8M463.7 243.2v0.8M452.2 251.1v0.8M475.1 239.4v0.8M467.4 241.5v0.8M473.3 247.0v0.8M476.3 261.1v0.8M464.0 248.2v0.8M448.7 242.8v0.8M474.2 261.8v0.8" stroke="#a0a8cc" stroke-width="0.8" stroke-opacity="0.45"/>
<path d="M451.6 231.0v0.9M492.5 221.9v0.9M472.5 223.1v0.9M478.8 222.1v0.9M481.0 223.4v0.9M469.8 222.7v0.9M450.3 231.2v0.9M469.1 224.2v0.9M471.8 224.6v0.9M480.1 221.0v0.9M478.6 222.4v0.9M466.7 225.8v0.9M442.9 238.2v0.9M473.9 223.1v0.9M465.6 224.0v0.9M462.7 226.0v0.9M487.4 223.7v0.9M459.4 225.5v0.9M451.2 229.6v0.9M481.6 218.5v0.9M489.5 220.4v0.9M489.2 221.2v0.9M485.1 222.4v0.9M449.8 230.6v0.9M480.3 221.7v0.9M446.3 235.7v0.9M471.3 225.2v0.9M468.1 226.7v0.9M456.5 227.4v0.9M480.3 221.4v0.9M461.2 227.2v0.9M456.6 227.4v0.9M454.5 229.5v0.9M487.9 220.2v0.9M485.1 222.9v0.9M479.0 224.3v0.9M490.5 223.6v0.9M486.4 220.5v0.9M477.3 224.9v0.9M444.7 233.9v0.9M472.7 225.0v0.9M491.2 221.6v0.9M492.6 218.5v0.9M462.7 225.9v0.9M484.5 221.8v0.9M448.5 230.4v0.9M447.5 232.5v0.9M477.1 223.1v0.9M457.6 226.5v0.9M483.3 221.8v0.9M460.9 226.3v0.9M491.0 220.8v0.9M468.2 225.6v0.9M488.5 221.8v0.9M478.5 221.6v0.9M444.4 236.8v0.9M477.0 223.4v0.9M451.7 232.2v0.9M454.3 229.3v0.9M446.4 233.9v0.9M459.8 227.0v0.9M474.4 222.8v0.9M471.3 223.1v0.9M462.2 225.5v0.9M476.5 222.7v0.9M442.0 241.1v0.9M473.2 223.2v0.9M454.5 227.6v0.9M477.3 223.2v0.9M483.7 223.8v0.9M468.4 221.7v0.9M473.0 223.0v0.9M471.0 224.8v0.9M492.3 222.8v0.9M461.7 226.8v0.9M475.3 223.0v0.9M470.4 226.1v0.9M461.0 226.2v0.9M449.2 231.4v0.9M489.4 222.3v0.9M478.6 223.3v0.9M445.1 235.6v0.9M491.8 220.6v0.9M467.3 223.3v0.9M448.6 230.8v0.9M470.9 224.0v0.9M481.6 220.0v0.9M479.1 223.5v0.9M471.0 224.9v0.9M445.4 234.6v0.9M473.7 222.9v0.9M458.8 228.6v0.9M476.3 225.7v0.9M481.5 221.0v0.9M487.9 220.4v0.9M446.9 232.3v0.9M475.2 223.8v0.9M465.4 226.0v0.9M458.9 226.5v0.9M489.9 220.9v0.9M464.3 224.2v0.9M481.6 223.4v0.9M456.6 229.4v0.9M484.9 224.3v0.9M487.4 222.7v0.9M444.2 237.5v0.9M485.5 224.0v0.9M460.1 227.1v0.9M457.7 225.8v0.9M479.5 222.0v0.9M486.9 221.9v0.9M480.8 222.4v0.9M479.2 223.9v0.9M464.2 225.4v0.9M491.3 222.5v0.9M449.0 231.4v0.9M451.6 230.0v0.9M455.5 229.1v0.9M492.0 219.1v0.9M479.5 224.5v0.9M447.7 233.2v0.9M492.6 220.2v0.9M451.2 231.3v0.9M471.3 223.1v0.9M454.2 226.6v0.9M473.3 223.7v0.9M492.6 218.2v0.9M451.3 229.5v0.9M481.7 220.1v0.9M462.4 224.4v0.9M468.8 224.8v0.9M464.2 224.6v0.9M486.7 220.7v0.9M443.5 235.9v0.9M483.0 221.2v0.9M464.9 225.8v0.9M451.5 231.1v0.9M492.0 219.0v0.9M478.8 223.3v0.9M442.1 239.6v0.9M453.5 229.6v0.9M459.2 226.5v0.9M487.6 221.1v0.9M467.1 225.1v0.9M471.8 224.4v0.9M463.1 225.2v0.9M463.4 225.7v0.9M470.8 225.3v0.9M486.4 222.3v0.9M474.9 224.5v0.9M448.2 233.3v0.9M451.8 231.3v0.9M453.9 228.9v0.9M459.4 228.7v0.9M452.0 231.5v0.9M478.8 223.1v0.9M474.5 222.1v0.9M462.2 226.8v0.9M447.9 230.5v0.9M480.2 223.3v0.9M454.2 229.8v0.9M469.8 223.1v0.9M461.8 224.4v0.9M446.4 230.9v0.9M473.1 224.5v0.9M476.3 223.2v0.9M491.3 219.2v0.9M491.5 220.8v0.9M451.8 227.5v0.9M458.6 226.6v0.9M487.4 219.9v0.9M483.4 221.6v0.9M478.1 223.4v0.9M449.9 229.8v0.9M465.7 225.2v0.9M477.9 221.6v0.9M446.7 231.9v0.9M488.8 220.5v0.9M476.0 220.5v0.9M477.5 224.4v0.9M477.0 221.6v0.9M445.3 236.5v0.9M486.7 221.8v0.9M465.0 225.6v0.9M486.5 222.9v0.9M482.6 222.7v0.9M455.5 228.8v0.9M482.1 222.1v0.9M466.2 227.6v0.9M454.7 227.9v0.9M488.2 221.7v0.9M444.1 235.1v0.9M445.2 235.3v0.9M456.3 230.3v0.9M466.7 224.7v0.9M487.9 223.5v0.9M481.2 220.9v0.9M473.8 221.5v0.9M475.4 223.1v0.9M492.3 222.0v0.9M482.6 224.5v0.9M467.8 225.3v0.9M465.2 224.4v0.9M474.3 224.3v0.9M486.7 221.4v0.9M478.1 223.7v0.9M478.3 222.2v0.9M488.6 222.7v0.9M486.4 220.3v0.9M477.0 222.2v0.9M471.5 223.6v0.9M492.5 221.2v0.9M460.7 226.3v0.9M457.3 227.9v0.9M483.0 221.4v0.9M454.9 226.6v0.9M450.8 233.1v0.9M474.5 223.0v0.9M447.2 234.8v0.9M479.0 222.5v0.9M462.0 229.2v0.9M478.6 225.6v0.9M476.9 223.5v0.9M489.7 221.1v0.9M482.0 221.7v0.9M464.7 226.2v0.9M478.4 225.2v0.9M463.1 227.4v0.9M446.7 234.0v0.9M457.3 228.2v0.9M482.2 222.4v0.9M458.8 228.0v0.9M484.6 221.7v0.9M481.7 221.2v0.9M451.7 228.5v0.9M485.9 223.0v0.9M454.4 227.9v0.9M448.4 231.7v0.9M461.4 229.6v0.9M459.5 226.5v0.9M484.1 221.8v0.9M483.7 221.8v0.9M489.1 221.5v0.9M485.0 221.8v0.9M491.5 220.1v0.9M477.3 226.3v0.9M480.0 223.2v0.9M454.2 230.0v0.9M477.1 221.9v0.9M444.5 236.1v0.9M443.3 239.5v0.9M454.8 229.9v0.9M451.6 230.6v0.9M483.9 219.8v0.9M489.7 221.8v0.9M492.3 221.3v0.9M484.3 223.0v0.9M462.2 227.0v0.9M476.6 222.6v0.9M458.2 227.0v0.9M466.7 223.9v0.9M481.1 222.6v0.9M453.6 228.3v0.9M455.8 228.3v0.9M480.8 220.5v0.9M484.9 221.9v0.9M442.6 240.4v0.9M463.2 224.9v0.9M484.4 221.3v0.9M455.8 226.3v0.9M456.3 228.5v0.9M478.3 222.4v0.9M449.6 231.3v0.9M477.8 223.6v0.9M487.4 219.7v0.9M478.4 223.1v0.9M475.1 220.9v0.9M472.1 224.3v0.9M448.4 232.6v0.9M450.0 230.0v0.9M473.6 224.2v0.9M485.9 221.3v0.9M486.1 224.2v0.9M454.7 227.8v0.9M447.0 232.5v0.9M456.2 227.9v0.9M444.3 236.0v0.9M484.9 223.4v0.9M447.6 230.6v0.9M444.1 236.9v0.9M462.9 224.9v0.9M480.1 221.4v0.9M452.3 229.3v0.9M450.2 230.0v0.9M445.2 232.0v0.9M456.4 226.8v0.9M470.0 224.0v0.9M470.7 224.0v0.9M466.6 225.5v0.9M485.1 222.7v0.9M485.1 222.9v0.9M474.0 221.8v0.9M483.8 224.3v0.9M468.1 225.9v0.9M486.4 220.4v0.9M471.3 222.9v0.9M488.7 220.9v0.9M453.8 229.4v0.9M457.5 230.2v0.9M473.2 225.5v0.9M484.5 220.4v0.9M456.5 228.2v0.9M488.7 220.2v0.9M482.0 222.8v0.9M487.7 222.8v0.9M466.8 224.8v0.9M485.8 220.9v0.9M469.5 224.7v0.9M460.8 226.3v0.9M463.1 227.9v0.9M476.6 222.8v0.9M483.7 222.5v0.9M483.5 221.5v0.9M453.7 227.3v0.9M470.6 225.2v0.9M474.9 221.4v0.9M476.8 223.2v0.9M486.7 221.9v0.9M443.7 236.7v0.9M480.0 223.7v0.9M479.9 224.4v0.9M459.0 224.8v0.9M457.8 228.1v0.9M449.4 231.9v0.9M491.8 219.6v0.9M446.5 232.7v0.9M489.6 221.2v0.9M455.4 230.3v0.9M459.0 228.0v0.9M459.7 227.9v0.9M474.0 223.2v0.9M451.2 229.2v0.9M471.3 222.8v0.9M464.0 226.3v0.9M453.1 230.6v0.9M477.0 224.3v0.9M479.5 221.6v0.9M454.9 227.2v0.9M489.7 219.8v0.9M458.5 226.8v0.9M464.5 226.7v0.9M484.8 221.6v0.9M450.8 229.5v0.9M457.0 227.0v0.9M460.7 225.0v0.9M466.0 226.1v0.9M487.4 222.8v0.9M467.5 226.8v0.9M484.3 221.1v0.9M488.8 221.9v0.9M477.1 222.7v0.9M480.5 220.9v0.9M491.6 220.7v0.9M463.1 222.5v0.9M460.4 228.3v0.9M488.6 219.7v0.9M467.4 222.1v0.9M455.3 229.8v0.9M453.2 229.6v0.9M466.5 225.9v0.9M464.8 225.0v0.9M462.7 226.0v0.9M471.0 225.4v0.9M489.3 221.7v0.9M477.9 225.1v0.9M470.3 223.3v0.9M443.9 237.9v0.9M486.5 222.2v0.9M462.2 227.4v0.9M472.5 225.3v0.9M469.0 225.5v0.9M474.1 224.6v0.9M480.5 222.8v0.9M486.0 221.3v0.9M461.6 225.2v0.9M484.9 222.3v0.9M467.7 226.0v0.9M452.2 230.2v0.9M443.5 238.2v0.9M468.2 225.0v0.9M442.1 241.9v0.9M472.7 225.7v0.9M492.6 217.8v0.9M479.6 221.7v0.9M465.0 226.0v0.9M484.3 222.1v0.9M478.3 222.5v0.9M477.2 223.6v0.9M490.4 221.1v0.9M472.2 228.0v0.9M455.6 228.9v0.9M490.3 222.9v0.9M455.3 228.3v0.9M455.6 228.8v0.9M456.5 227.0v0.9M478.3 223.2v0.9M457.3 227.4v0.9M453.4 230.3v0.9M446.1 233.8v0.9M478.8 222.7v0.9M446.0 231.3v0.9M476.0 223.4v0.9M460.8 225.3v0.9M461.6 226.9v0.9M446.3 234.0v0.9M455.6 228.7v0.9M462.1 227.4v0.9M455.1 229.4v0.9M471.1 223.5v0.9M481.9 220.8v0.9M483.7 221.1v0.9M445.5 234.6v0.9M479.7 221.8v0.9M448.2 232.7v0.9M454.0 229.9v0.9M486.7 220.6v0.9M486.6 221.6v0.9M488.5 222.2v0.9M457.1 225.2v0.9M468.9 222.7v0.9M466.9 227.3v0.9M490.3 220.4v0.9M480.4 222.5v0.9M444.0 236.7v0.9M490.1 218.6v0.9M491.6 220.2v0.9M457.2 228.5v0.9M453.9 228.6v0.9M459.0 229.9v0.9M463.2 225.6v0.9M469.7 225.3v0.9M489.0 219.2v0.9M463.7 225.8v0.9M490.6 222.5v0.9M476.0 223.7v0.9M470.9 223.4v0.9M489.8 219.1v0.9M484.9 220.8v0.9M467.8 223.9v0.9M467.6 222.9v0.9M471.5 224.8v0.9M464.0 224.8v0.9M486.9 220.1v0.9M457.3 226.5v0.9M484.7 222.0v0.9M480.5 223.0v0.9M451.8 229.8v0.9M474.9 223.5v0.9M448.0 231.0v0.9M474.7 222.3v0.9M459.0 226.1v0.9M462.9 226.1v0.9M464.7 227.6v0.9M480.7 221.5v0.9M459.4 226.5v0.9M478.7 224.5v0.9M452.5 227.3v0.9M458.3 227.8v0.9M465.0 225.8v0.9M480.9 223.8v0.9M452.0 228.8v0.9M464.4 226.0v0.9M474.2 224.2v0.9M470.7 224.5v0.9M488.9 222.1v0.9M476.8 222.1v0.9M460.5 225.8v0.9M482.9 223.9v0.9M491.6 221.1v0.9M477.0 223.2v0.9M483.9 222.0v0.9M454.3 227.0v0.9M478.9 223.5v0.9M459.9 225.5v0.9M469.0 221.9v0.9M465.4 224.2v0.9M479.4 220.2v0.9M490.3 221.7v0.9M457.9 224.2v0.9M478.8 222.8v0.9M462.7 226.5v0.9M491.1 220.7v0.9M490.3 222.1v0.9M492.7 220.9v0.9M485.7 220.5v0.9M447.1 233.3v0.9M462.3 226.0v0.9M457.4 228.3v0.9M486.9 220.5v0.9M470.0 223.4v0.9M445.9 234.8v0.9M468.4 227.7v0.9M490.5 220.1v0.9M449.1 229.1v0.9M452.5 230.3v0.9M447.1 233.0v0.9M481.9 222.7v0.9M480.6 222.8v0.9M480.2 222.4v0.9M484.3 222.1v0.9M492.6 221.3v0.9M484.2 222.6v0.9M478.1 223.1v0.9M453.5 228.3v0.9M448.8 231.9v0.9M469.8 221.9v0.9M442.5 238.6v0.9M463.3 227.1v0.9M453.2 229.8v0.9M462.1 227.8v0.9M478.6 222.3v0.9M475.6 223.7v0.9M492.2 222.7v0.9M448.6 232.3v0.9M455.2 227.3v0.9M478.0 223.2v0.9M455.0 227.8v0.9M470.6 224.5v0.9M444.3 235.1v0.9M453.2 229.5v0.9M474.8 224.6v0.9M473.4 223.1v0.9M480.0 224.5v0.9M462.2 223.5v0.9M453.8 230.3v0.9M488.3 220.5v0.9M452.1 229.8v0.9M451.2 229.5v0.9M450.6 229.6v0.9M478.1 223.8v0.9M490.8 219.6v0.9M466.2 225.7v0.9M464.8 225.3v0.9M458.2 227.3v0.9M481.1 222.9v0.9M467.7 222.9v0.9M466.2 225.4v0.9M474.8 222.0v0.9M470.2 225.0v0.9M460.2 225.4v0.9M489.0 221.9v0.9M488.7 221.0v0.9M456.3 229.2v0.9M491.4 221.9v0.9M443.2 238.7v0.9M468.7 224.3v0.9M452.4 229.6v0.9M470.6 223.0v0.9M446.3 233.7v0.9M461.8 225.8v0.9M475.3 223.7v0.9M456.2 226.0v0.9M443.4 236.9v0.9M470.5 222.4v0.9M479.6 220.5v0.9M486.3 221.1v0.9M485.2 221.0v0.9M482.6 219.3v0.9M446.0 234.1v0.9M489.4 220.2v0.9M484.5 223.1v0.9M453.3 228.9v0.9M445.1 234.9v0.9M491.6 221.2v0.9M450.5 231.8v0.9M490.5 218.6v0.9M459.0 226.8v0.9M468.8 224.5v0.9M480.4 224.1v0.9M474.1 222.5v0.9M491.4 220.4v0.9M443.8 237.5v0.9M492.3 222.5v0.9M486.7 221.6v0.9M468.5 227.5v0.9M474.0 222.4v0.9M488.2 220.0v0.9M489.0 220.2v0.9M461.3 228.7v0.9M479.3 223.5v0.9M460.5 228.0v0.9M491.8 219.8v0.9M450.2 230.6v0.9M443.6 235.1v0.9M468.6 228.3v0.9M449.3 234.7v0.9M477.0 222.3v0.9M490.6 220.9v0.9M474.1 222.7v0.9M452.5 228.8v0.9M461.9 226.9v0.9M470.4 224.3v0.9M465.2 225.3v0.9M455.5 227.5v0.9M471.7 223.4v0.9M455.5 227.2v0.9M450.8 229.5v0.9M484.5 222.8v0.9M457.3 226.4v0.9M455.5 229.9v0.9M445.2 237.4v0.9M461.3 225.8v0.9M459.6 225.9v0.9M484.0 222.1v0.9M488.4 221.0v0.9M486.4 220.3v0.9M490.7 221.8v0.9M453.6 230.7v0.9M481.9 221.0v0.9M460.1 228.0v0.9M447.7 232.9v0.9M468.5 225.5v0.9M458.7 225.7v0.9M455.8 226.7v0.9M489.2 220.7v0.9M453.5 227.7v0.9M464.5 225.7v0.9M454.3 227.5v0.9M454.8 229.5v0.9M461.6 223.2v0.9M469.7 223.7v0.9M462.9 227.3v0.9M462.8 226.2v0.9M450.2 228.9v0.9M463.2 226.0v0.9M481.6 221.9v0.9M446.0 233.5v0.9M471.8 222.6v0.9M456.7 226.7v0.9M462.8 225.6v0.9M472.0 222.6v0.9M456.7 226.7v0.9M442.4 238.4v0.9M482.5 223.3v0.9M491.0 217.5v0.9M480.1 221.5v0.9M480.2 222.6v0.9M466.6 224.6v0.9M475.6 223.7v0.9M480.5 222.5v0.9M455.4 227.5v0.9M477.1 224.7v0.9M490.3 223.0v0.9M476.8 222.8v0.9M483.1 223.6v0.9M462.8 224.8v0.9M489.5 219.8v0.9M483.5 221.2v0.9M488.6 219.9v0.9M475.5 222.8v0.9M449.7 229.9v0.9M473.4 224.1v0.9M456.3 231.1v0.9M488.9 220.9v0.9M474.3 224.1v0.9M461.7 227.9v0.9M449.3 231.1v0.9M461.0 227.4v0.9M471.9 224.8v0.9M461.3 225.6v0.9M485.5 220.5v0.9M479.1 222.5v0.9M444.6 237.8v0.9M457.1 230.6v0.9M472.3 224.3v0.9M486.5 222.1v0.9M489.1 221.2v0.9M443.9 235.7v0.9M464.9 223.2v0.9M488.6 221.4v0.9M459.5 225.3v0.9M452.8 230.7v0.9M471.8 224.6v0.9M454.4 228.1v0.9M460.6 226.3v0.9M478.6 223.6v0.9M451.3 231.3v0.9M488.3 222.0v0.9M489.9 223.9v0.9M492.0 220.5v0.9M447.4 234.5v0.9M492.3 220.7v0.9M451.6 229.6v0.9M449.6 229.3v0.9M484.1 224.3v0.9M461.9 226.2v0.9M472.7 223.5v0.9M465.1 227.8v0.9M478.1 224.0v0.9M450.9 228.9v0.9M469.4 225.6v0.9M477.2 221.9v0.9M468.6 224.4v0.9M456.1 228.1v0.9M454.3 229.0v0.9M482.6 222.3v0.9M455.6 225.9v0.9M486.8 219.7v0.9M457.2 229.2v0.9M460.5 225.6v0.9M458.3 227.0v0.9M481.3 223.2v0.9M477.9 219.3v0.9M463.1 224.1v0.9M475.0 223.6v0.9M489.9 218.2v0.9M469.5 223.0v0.9M467.9 225.7v0.9M469.7 224.4v0.9M443.2 237.1v0.9M458.8 227.2v0.9M488.4 221.9v0.9M474.8 223.0v0.9M469.9 225.2v0.9M472.2 224.1v0.9M466.9 224.4v0.9M476.0 222.9v0.9M475.9 223.7v0.9M490.6 222.6v0.9M488.7 220.2v0.9M482.3 221.1v0.9M468.3 224.2v0.9M473.2 222.4v0.9M481.6 220.8v0.9M464.8 224.5v0.9M463.1 225.0v0.9M467.7 223.6v0.9M464.6 224.9v0.9M488.1 223.1v0.9M454.8 227.5v0.9M477.1 221.7v0.9M478.3 222.6v0.9M463.8 225.7v0.9M471.6 221.9v0.9M478.1 220.7v0.9M477.9 221.5v0.9M451.1 232.0v0.9M488.4 219.9v0.9M479.7 222.6v0.9M472.6 224.3v0.9M447.0 232.9v0.9M475.1 223.4v0.9M472.0 223.5v0.9M456.5 228.9v0.9M458.0 229.5v0.9M481.6 224.8v0.9M463.6 228.3v0.9M488.6 223.4v0.9M449.0 232.5v0.9M467.7 224.5v0.9M474.2 223.5v0.9M457.2 228.2v0.9M488.3 220.7v0.9M462.3 226.7v0.9M490.6 219.2v0.9M474.2 222.8v0.9M457.0 228.3v0.9M449.5 230.8v0.9M485.6 222.7v0.9M442.7 237.0v0.9M452.7 229.3v0.9M479.7 223.1v0.9M453.4 231.0v0.9M488.1 221.1v0.9M452.3 230.1v0.9M455.3 228.9v0.9M492.2 221.7v0.9M464.4 223.8v0.9M447.6 233.7v0.9M448.5 232.5v0.9M453.7 228.1v0.9M454.2 228.5v0.9M465.6 221.7v0.9M480.6 221.6v0.9M461.3 226.5v0.9M462.5 225.9v0.9M448.7 233.8v0.9M464.9 225.3v0.9M491.9 220.6v0.9M476.1 222.6v0.9M455.3 227.6v0.9M486.6 221.8v0.9M485.4 221.7v0.9M455.1 229.8v0.9M449.0 232.2v0.9M486.4 222.1v0.9M452.0 228.9v0.9M471.2 224.0v0.9M480.2 222.1v0.9M450.7 229.8v0.9M448.1 232.6v0.9M472.3 222.9v0.9M489.3 223.8v0.9M481.2 220.5v0.9M462.2 225.9v0.9M469.1 223.1v0.9M467.9 224.3v0.9M486.9 223.5v0.9M487.2 221.3v0.9M460.8 227.2v0.9M470.6 224.5v0.9M483.0 221.8v0.9M483.6 219.2v0.9M460.4 227.8v0.9M462.1 226.5v0.9M487.7 222.7v0.9M483.4 221.1v0.9M481.3 220.9v0.9M491.4 220.8v0.9M484.5 218.5v0.9M452.2 228.0v0.9M483.2 221.0v0.9M450.9 229.9v0.9M474.5 223.9v0.9M489.0 220.7v0.9M469.8 225.7v0.9M462.4 226.7v0.9M490.9 221.7v0.9M486.4 223.0v0.9M470.5 223.6v0.9M446.8 231.6v0.9M447.0 232.7v0.9M492.3 220.5v0.9M455.2 227.7v0.9M455.4 226.5v0.9M468.7 223.8v0.9M465.4 225.5v0.9M446.9 232.1v0.9M472.6 220.5v0.9M465.6 224.4v0.9M481.8 222.1v0.9M479.6 223.5v0.9M450.7 231.1v0.9M480.1 225.0v0.9M447.0 233.1v0.9M486.2 222.1v0.9M480.6 223.8v0.9M490.8 221.5v0.9M480.8 221.8v0.9M467.1 225.5v0.9M490.8 222.2v0.9M443.8 236.1v0.9M488.3 219.9v0.9M469.4 224.3v0.9M449.8 233.4v0.9M479.5 222.4v0.9M453.3 229.5v0.9M486.9 223.1v0.9M452.1 232.0v0.9M490.3 222.8v0.9M472.2 224.4v0.9M475.2 224.0v0.9M473.9 223.8v0.9M481.0 221.5v0.9M488.1 221.5v0.9M473.5 226.1v0.9M482.3 222.0v0.9M481.0 223.5v0.9M480.7 224.4v0.9M449.1 231.9v0.9M456.2 228.1v0.9M483.0 222.2v0.9M464.1 223.6v0.9M490.8 221.6v0.9M467.7 225.4v0.9M458.4 226.9v0.9M482.0 219.8v0.9M461.7 225.2v0.9M472.9 223.1v0.9M472.1 225.2v0.9M485.2 223.7v0.9M483.6 222.7v0.9M482.3 222.6v0.9M484.9 219.6v0.9M466.9 222.9v0.9M456.6 226.7v0.9M464.7 225.5v0.9M483.8 221.0v0.9M475.0 225.0v0.9M444.0 233.8v0.9M477.6 222.7v0.9M486.9 218.9v0.9M445.3 231.5v0.9M466.9 225.5v0.9M460.2 228.6v0.9M478.4 222.6v0.9M476.0 222.9v0.9M462.0 226.0v0.9M476.9 224.8v0.9M455.9 227.9v0.9M446.4 234.1v0.9M488.5 226.7v0.9M481.9 223.2v0.9M472.3 225.3v0.9M491.0 223.6v0.9M455.2 229.9v0.9M472.4 224.6v0.9M490.1 229.6v0.9M476.3 225.5v0.9M451.0 236.0v0.9M472.3 225.8v0.9M469.0 224.2v0.9M452.7 233.1v0.9M470.0 228.4v0.9M446.2 241.3v0.9M465.5 226.4v0.9M464.5 226.6v0.9M477.7 225.9v0.9M471.5 227.5v0.9M470.7 226.9v0.9M453.0 231.6v0.9M478.5 226.9v0.9M476.9 229.2v0.9M483.1 222.8v0.9M474.6 224.7v0.9M476.6 226.7v0.9M486.7 229.0v0.9M485.6 222.9v0.9M474.9 225.4v0.9M487.4 226.4v0.9M459.1 229.3v0.9M443.7 241.2v0.9M450.0 236.4v0.9M483.9 228.5v0.9M448.5 235.3v0.9M453.2 237.5v0.9M484.6 224.4v0.9M481.7 223.0v0.9M449.1 233.2v0.9M445.5 234.4v0.9M491.0 222.5v0.9M471.8 228.8v0.9M473.2 227.9v0.9M487.0 224.0v0.9M471.7 229.9v0.9M454.5 233.8v0.9M467.2 227.8v0.9M452.9 229.1v0.9M459.9 229.9v0.9M454.3 229.6v0.9M475.8 227.1v0.9M478.1 229.7v0.9M450.0 233.2v0.9M492.0 226.6v0.9M447.3 236.5v0.9M446.6 238.5v0.9M443.6 240.7v0.9M489.4 223.4v0.9M443.3 242.4v0.9M466.0 228.4v0.9M461.7 228.7v0.9M449.6 236.2v0.9M476.9 227.0v0.9M451.1 236.8v0.9M454.9 232.8v0.9M468.2 233.5v0.9M478.2 227.3v0.9M450.3 236.3v0.9M478.6 223.8v0.9M464.9 227.4v0.9M485.5 228.5v0.9M472.7 229.7v0.9M489.9 224.5v0.9M464.8 227.0v0.9M475.2 227.3v0.9M468.3 228.3v0.9M443.5 243.6v0.9M489.6 223.7v0.9M491.1 223.4v0.9M483.1 225.3v0.9M478.8 227.0v0.9M484.9 223.1v0.9M466.2 228.4v0.9M475.3 228.5v0.9M458.8 229.0v0.9M481.2 223.8v0.9M443.0 241.9v0.9M474.2 225.8v0.9M473.2 223.9v0.9M454.4 231.9v0.9M465.8 229.2v0.9M470.5 230.9v0.9M482.1 229.5v0.9M446.8 234.8v0.9M455.0 233.0v0.9M454.5 229.4v0.9M490.6 225.3v0.9M460.5 232.3v0.9M464.1 229.4v0.9M483.9 223.7v0.9M476.2 223.5v0.9M477.4 221.9v0.9M468.1 228.7v0.9M451.6 232.3v0.9M446.6 237.9v0.9M454.0 230.0v0.9M468.9 225.0v0.9M477.8 226.7v0.9M445.2 238.0v0.9M466.2 232.2v0.9M462.6 227.7v0.9M476.5 228.2v0.9M466.4 231.9v0.9M485.6 223.6v0.9M478.6 225.0v0.9M460.4 228.1v0.9M463.7 229.3v0.9M489.7 223.6v0.9M451.0 233.1v0.9M465.9 230.8v0.9M488.6 224.5v0.9M469.9 223.4v0.9M465.0 230.0v0.9M460.8 229.6v0.9M484.7 230.3v0.9M471.9 228.9v0.9M478.6 224.7v0.9M449.8 231.7v0.9M469.4 223.6v0.9M467.0 226.4v0.9M456.5 229.1v0.9M479.1 227.7v0.9M478.4 224.6v0.9M470.7 228.2v0.9M460.8 232.9v0.9M479.7 229.4v0.9M476.3 227.3v0.9M482.5 228.1v0.9M454.6 230.8v0.9M473.4 229.2v0.9M475.2 225.5v0.9M464.8 227.5v0.9M487.9 226.1v0.9M479.2 224.6v0.9M458.1 226.4v0.9M474.2 225.2v0.9M442.2 239.4v0.9M471.1 227.8v0.9M465.3 227.3v0.9M492.7 226.5v0.9M475.2 227.5v0.9M486.8 220.9v0.9M480.3 225.0v0.9M465.7 228.1v0.9M446.2 235.9v0.9M469.9 227.2v0.9M486.6 226.3v0.9M492.2 224.3v0.9M463.3 232.5v0.9M468.1 230.2v0.9M452.7 236.0v0.9M472.5 225.0v0.9M450.3 234.2v0.9M470.3 229.0v0.9M454.7 231.8v0.9M447.5 235.7v0.9M457.4 228.2v0.9M489.1 224.8v0.9M481.4 229.0v0.9M475.4 225.3v0.9M454.2 232.0v0.9M491.1 223.0v0.9M445.9 237.9v0.9M477.0 226.7v0.9M489.9 232.0v0.9M483.8 223.7v0.9M486.0 226.2v0.9M464.6 229.0v0.9M479.8 229.0v0.9M467.9 228.2v0.9M468.3 228.5v0.9M480.4 222.9v0.9M442.9 242.0v0.9M456.5 232.5v0.9M489.8 225.5v0.9M476.7 229.3v0.9M452.0 230.2v0.9M458.1 229.2v0.9M466.6 226.2v0.9M479.8 227.4v0.9M453.4 233.9v0.9M466.3 226.1v0.9M490.4 226.8v0.9M442.9 243.8v0.9M490.8 221.2v0.9M459.8 234.8v0.9M464.5 227.8v0.9M485.4 223.6v0.9M478.2 224.6v0.9M479.2 227.7v0.9M477.9 229.4v0.9M473.9 226.1v0.9M467.2 227.6v0.9M448.6 232.9v0.9M460.3 228.0v0.9M482.4 227.3v0.9M475.2 225.4v0.9M456.9 234.7v0.9M456.3 228.6v0.9M452.8 232.4v0.9M458.1 228.9v0.9M483.4 226.5v0.9M445.3 240.5v0.9M458.7 228.9v0.9M442.7 242.1v0.9M458.1 230.1v0.9M460.7 228.9v0.9M489.8 223.0v0.9M486.8 224.7v0.9M446.4 240.0v0.9M444.5 238.7v0.9M444.8 245.7v0.9M443.3 244.9v0.9M444.7 243.6v0.9M443.2 242.7v0.9M444.2 240.1v0.9M443.5 237.8v0.9M442.7 244.2v0.9M443.1 243.3v0.9M443.4 243.4v0.9M443.0 237.8v0.9M444.0 239.3v0.9M442.8 241.2v0.9M443.5 245.0v0.9M444.0 240.9v0.9M443.4 242.4v0.9M442.6 239.7v0.9M443.8 245.5v0.9M443.8 238.9v0.9M444.7 244.2v0.9M442.9 240.3v0.9M442.4 243.9v0.9M442.8 244.4v0.9M444.1 244.0v0.9M443.7 239.2v0.9M442.4 242.3v0.9M442.3 241.7v0.9M444.2 238.3v0.9M443.4 241.9v0.9M442.7 238.8v0.9M443.8 238.6v0.9M442.7 239.0v0.9M444.6 245.1v0.9M442.6 242.2v0.9M443.3 237.3v0.9M442.9 242.9v0.9M442.3 245.6v0.9M443.0 240.1v0.9M444.7 238.3v0.9M442.6 241.3v0.9" stroke="#c8202c" stroke-width="0.9" stroke-opacity="0.6"/>
<path d="M462.1 220.1v0.9M491.4 218.4v0.9M467.1 220.9v0.9M487.2 217.7v0.9M468.0 220.6v0.9M457.6 222.1v0.9M464.0 219.7v0.9M481.3 219.6v0.9M447.0 227.2v0.9M488.1 219.0v0.9M484.3 218.5v0.9M449.0 226.3v0.9M479.3 218.6v0.9M486.7 219.6v0.9M469.6 219.1v0.9M488.9 214.5v0.9M478.0 217.6v0.9M479.7 217.5v0.9M452.9 222.7v0.9M450.0 224.4v0.9M478.9 217.6v0.9M491.3 217.4v0.9M460.9 219.7v0.9M455.3 222.1v0.9M461.4 218.5v0.9M489.7 219.5v0.9M454.9 221.0v0.9M453.7 223.3v0.9M480.5 218.4v0.9M447.4 224.6v0.9M481.7 218.2v0.9M447.1 225.3v0.9M461.2 218.1v0.9M466.6 219.9v0.9M486.9 216.5v0.9M453.2 224.3v0.9M473.9 216.5v0.9M481.6 219.9v0.9M465.5 218.1v0.9M478.8 219.1v0.9M490.1 217.9v0.9M492.6 217.6v0.9M466.6 221.1v0.9M476.8 217.8v0.9M488.3 216.8v0.9M468.8 219.9v0.9M492.7 215.1v0.9M471.9 217.5v0.9M457.7 220.7v0.9M447.0 226.5v0.9M482.6 216.3v0.9M484.9 218.4v0.9M477.7 220.7v0.9M491.1 214.9v0.9M447.8 224.6v0.9M454.3 221.1v0.9M465.7 219.6v0.9M448.8 225.2v0.9M488.7 217.0v0.9M457.9 221.3v0.9M458.1 220.2v0.9M462.8 220.7v0.9M460.3 222.6v0.9M473.3 218.9v0.9M480.3 218.7v0.9M459.4 222.5v0.9M459.5 221.0v0.9M481.2 218.9v0.9M481.9 217.3v0.9M463.0 221.6v0.9M446.4 226.2v0.9M443.8 226.9v0.9M460.7 220.6v0.9M467.1 219.0v0.9M455.6 222.9v0.9M473.3 218.8v0.9M488.4 217.1v0.9M459.3 220.6v0.9M479.2 218.4v0.9M466.7 218.9v0.9M471.6 218.6v0.9M449.7 225.6v0.9M463.0 220.5v0.9M486.9 216.9v0.9M467.6 221.8v0.9M451.5 222.8v0.9M456.2 221.7v0.9M485.2 217.1v0.9M479.0 218.1v0.9M475.0 219.3v0.9M455.7 222.3v0.9M457.2 220.3v0.9M483.8 219.1v0.9M492.2 216.7v0.9M468.8 220.9v0.9M464.0 220.5v0.9M490.0 214.3v0.9M454.1 222.3v0.9M465.6 220.5v0.9M480.9 218.1v0.9M446.2 226.6v0.9M490.1 218.4v0.9M458.1 223.4v0.9M480.2 218.2v0.9M452.7 225.3v0.9M490.8 216.1v0.9M485.9 215.9v0.9M451.9 223.0v0.9M477.9 217.8v0.9M462.1 221.6v0.9M449.3 225.3v0.9M444.3 226.1v0.9M471.8 220.6v0.9M454.3 222.9v0.9M491.8 216.4v0.9M459.5 222.6v0.9M489.4 218.2v0.9M457.5 221.8v0.9M482.5 216.3v0.9M462.8 222.3v0.9M452.0 223.0v0.9M453.5 223.1v0.9M472.3 218.4v0.9M455.0 222.1v0.9M472.2 217.9v0.9M479.1 218.7v0.9M452.9 223.6v0.9M484.6 217.7v0.9M480.5 218.7v0.9M461.8 221.7v0.9M490.2 215.6v0.9M449.6 225.4v0.9M446.7 226.3v0.9M468.7 221.3v0.9M488.0 218.1v0.9M491.8 217.4v0.9M466.4 219.7v0.9M453.1 222.0v0.9M450.0 223.4v0.9M449.2 223.1v0.9M466.7 220.3v0.9M469.9 218.3v0.9M480.8 216.8v0.9M467.1 221.0v0.9M446.7 228.1v0.9M456.5 222.6v0.9M476.8 220.0v0.9M450.5 222.6v0.9M479.8 218.1v0.9M448.9 224.7v0.9M465.6 219.2v0.9M451.9 224.4v0.9M485.4 216.3v0.9M471.9 220.1v0.9M449.2 225.4v0.9M450.4 224.1v0.9M465.9 220.1v0.9M446.8 226.3v0.9M446.1 222.9v0.9M464.6 221.2v0.9M461.9 220.7v0.9M479.1 217.7v0.9M484.6 217.6v0.9M465.1 220.3v0.9M480.1 219.4v0.9M466.9 219.6v0.9M465.4 220.0v0.9M489.8 217.1v0.9M491.5 217.2v0.9M462.1 220.8v0.9M453.2 223.3v0.9M473.3 216.7v0.9M491.1 217.2v0.9M465.6 220.9v0.9M468.9 220.4v0.9M482.7 220.3v0.9M460.8 221.2v0.9M466.2 221.0v0.9M478.3 218.8v0.9M449.3 221.8v0.9M455.9 220.2v0.9M469.2 221.5v0.9M481.3 218.6v0.9M465.3 219.1v0.9M483.8 215.5v0.9M459.9 218.5v0.9M491.5 214.7v0.9M477.7 218.6v0.9M474.2 219.2v0.9M460.4 220.8v0.9M470.6 219.7v0.9M484.0 217.1v0.9M449.8 223.6v0.9M481.1 219.1v0.9M472.3 220.1v0.9M465.6 218.7v0.9M472.2 217.3v0.9M461.6 222.4v0.9M455.1 222.5v0.9M485.3 218.5v0.9M479.8 218.2v0.9M489.0 218.5v0.9M491.8 217.5v0.9M447.9 228.0v0.9M446.0 229.1v0.9M479.9 220.1v0.9M474.6 217.8v0.9M453.7 223.1v0.9M487.8 220.1v0.9M457.3 221.0v0.9M461.6 222.2v0.9M456.9 222.3v0.9M477.4 218.1v0.9M466.7 217.7v0.9M482.4 218.3v0.9M483.7 219.9v0.9M484.5 217.9v0.9M443.5 229.2v0.9M487.9 219.2v0.9M473.0 219.4v0.9M459.3 221.1v0.9M485.7 217.8v0.9M474.4 218.0v0.9M468.2 219.6v0.9M462.4 219.6v0.9M483.2 217.5v0.9M481.0 217.0v0.9M459.5 220.6v0.9M463.6 220.5v0.9M467.3 220.7v0.9M464.0 220.9v0.9M462.8 218.2v0.9M487.0 217.4v0.9M461.2 221.3v0.9M488.6 217.7v0.9M483.1 217.7v0.9M466.5 217.5v0.9M454.6 223.6v0.9M483.4 218.4v0.9M449.6 224.0v0.9M456.9 222.1v0.9M473.7 217.3v0.9M462.4 218.5v0.9M457.9 222.4v0.9M446.3 226.6v0.9M443.6 229.9v0.9M469.1 220.5v0.9M489.5 216.7v0.9M453.2 223.1v0.9M480.4 220.0v0.9M458.0 221.4v0.9M463.7 219.3v0.9M460.5 221.6v0.9M453.6 225.2v0.9M492.4 217.4v0.9M492.6 215.7v0.9M456.5 223.3v0.9M451.2 224.8v0.9M484.7 217.7v0.9M472.5 219.2v0.9M473.1 220.3v0.9M455.9 219.7v0.9M468.7 220.5v0.9M490.0 216.6v0.9M480.1 217.5v0.9M478.5 218.6v0.9M455.6 221.7v0.9M467.1 220.0v0.9M492.1 215.9v0.9M476.7 217.8v0.9M478.3 217.6v0.9M456.8 221.4v0.9M476.1 220.7v0.9M470.6 218.3v0.9M461.2 220.7v0.9M471.0 219.1v0.9M484.1 218.2v0.9M456.2 222.1v0.9M470.2 217.1v0.9M450.9 222.0v0.9M452.2 221.4v0.9M445.9 226.8v0.9M465.4 219.9v0.9M455.0 221.3v0.9M448.7 225.0v0.9M473.0 217.6v0.9M479.6 218.3v0.9M464.7 219.1v0.9M490.0 219.0v0.9M469.3 220.4v0.9M472.7 219.0v0.9M461.6 223.6v0.9M462.4 223.0v0.9M486.2 218.4v0.9M447.4 226.2v0.9M445.8 227.4v0.9M471.1 220.3v0.9M471.3 217.7v0.9M492.6 216.6v0.9M459.6 222.2v0.9M476.0 218.1v0.9M470.8 219.4v0.9M492.1 218.2v0.9M487.6 216.3v0.9M470.5 217.6v0.9M456.3 222.2v0.9M475.5 217.7v0.9M471.1 219.3v0.9M454.9 222.1v0.9M468.7 219.2v0.9M447.7 224.9v0.9M485.9 217.4v0.9M445.1 227.6v0.9M491.6 216.1v0.9M462.9 221.7v0.9M458.5 222.9v0.9M485.4 216.7v0.9M475.4 218.8v0.9M457.4 221.8v0.9M458.2 222.1v0.9M457.2 222.5v0.9M468.8 220.6v0.9M475.6 217.0v0.9M476.5 218.0v0.9M469.8 219.9v0.9M460.1 220.7v0.9M444.6 229.7v0.9M466.8 218.7v0.9M486.7 215.0v0.9M489.3 216.2v0.9M463.0 220.4v0.9M491.6 218.2v0.9M469.7 219.3v0.9M465.6 220.3v0.9M490.3 215.4v0.9M489.1 218.3v0.9M490.8 217.0v0.9M461.4 219.6v0.9M490.9 217.7v0.9M447.7 223.6v0.9M478.1 218.2v0.9M462.8 220.1v0.9M469.0 219.6v0.9M453.5 223.5v0.9M469.2 221.6v0.9M467.2 220.0v0.9M460.3 221.1v0.9M475.8 219.7v0.9M481.1 216.4v0.9M474.6 219.6v0.9M485.3 217.4v0.9M445.5 224.9v0.9M464.0 222.0v0.9M454.2 224.2v0.9M490.2 216.8v0.9M480.3 218.7v0.9M455.4 221.6v0.9M477.4 219.4v0.9M472.0 218.1v0.9M492.1 215.3v0.9M476.8 217.3v0.9M463.8 221.1v0.9M486.3 215.8v0.9M485.7 217.1v0.9M480.2 219.1v0.9M480.3 217.3v0.9M488.6 215.2v0.9M460.3 221.3v0.9M453.9 223.7v0.9M491.9 215.9v0.9M475.8 218.6v0.9M489.1 217.8v0.9M459.0 222.2v0.9M481.2 219.3v0.9M474.7 220.7v0.9M479.3 218.8v0.9M462.7 221.9v0.9M483.4 217.2v0.9M449.9 223.6v0.9M479.7 220.0v0.9M480.5 218.0v0.9M487.3 217.2v0.9M446.8 226.0v0.9M471.2 220.2v0.9M450.2 223.6v0.9M463.2 220.8v0.9M463.6 222.1v0.9M446.0 227.9v0.9M456.2 223.1v0.9M491.2 216.4v0.9M461.8 219.4v0.9M466.6 219.8v0.9M471.5 220.4v0.9M463.9 221.9v0.9M444.8 225.3v0.9M475.8 218.7v0.9M466.6 218.6v0.9M481.3 218.8v0.9M456.2 223.2v0.9M487.7 217.7v0.9M484.2 216.6v0.9M473.2 218.5v0.9M483.6 217.1v0.9M478.1 219.3v0.9M466.5 220.0v0.9M483.9 217.6v0.9M487.0 219.4v0.9M454.3 222.6v0.9M460.0 220.3v0.9M464.0 220.7v0.9M465.6 218.5v0.9M479.6 218.5v0.9M487.7 216.7v0.9M472.2 217.6v0.9M456.9 220.2v0.9M469.7 219.4v0.9M466.0 219.9v0.9M473.2 217.7v0.9M486.5 217.9v0.9M451.3 223.6v0.9M449.5 223.6v0.9M469.4 220.4v0.9M454.4 223.6v0.9M468.5 222.2v0.9M456.7 224.9v0.9M468.5 218.3v0.9M452.2 222.3v0.9M486.9 217.1v0.9M467.9 220.1v0.9M476.9 217.3v0.9M462.0 222.2v0.9M485.5 219.5v0.9M448.1 224.3v0.9M467.4 218.7v0.9M455.4 222.1v0.9M475.3 219.2v0.9M467.3 220.3v0.9M479.2 220.3v0.9M478.0 219.7v0.9M482.1 217.2v0.9M469.9 220.1v0.9M443.6 226.6v0.9M490.7 218.7v0.9M448.8 225.2v0.9M482.9 217.3v0.9M486.7 217.7v0.9M458.7 222.4v0.9M473.9 218.2v0.9M468.6 219.7v0.9M471.8 218.1v0.9M457.8 221.4v0.9M459.4 221.8v0.9M460.3 220.9v0.9M453.6 222.3v0.9M492.3 216.7v0.9M487.7 217.0v0.9M483.0 215.6v0.9M472.8 217.2v0.9M452.8 223.7v0.9M469.5 219.5v0.9M473.7 219.1v0.9M448.7 224.5v0.9M450.2 222.4v0.9M484.0 219.8v0.9M446.9 225.3v0.9M457.5 221.4v0.9M462.5 220.7v0.9M457.4 222.8v0.9M463.6 219.2v0.9M481.7 217.2v0.9M460.4 222.6v0.9M462.1 221.0v0.9M456.7 219.7v0.9M475.8 220.2v0.9M481.2 219.4v0.9M480.4 218.5v0.9M487.7 217.4v0.9M444.9 227.6v0.9M490.4 215.9v0.9M491.2 217.1v0.9M478.0 217.9v0.9M451.5 223.1v0.9M461.5 221.2v0.9M447.5 225.1v0.9M458.5 221.4v0.9M483.8 217.4v0.9M487.7 218.9v0.9M477.5 219.6v0.9M458.6 219.1v0.9M455.4 224.9v0.9M462.5 220.6v0.9M490.3 217.9v0.9M487.6 217.8v0.9M450.7 224.5v0.9M483.5 217.2v0.9M452.1 221.9v0.9M473.9 218.9v0.9M487.6 219.2v0.9M487.2 217.8v0.9M472.2 219.3v0.9M467.9 221.8v0.9M459.4 221.6v0.9M485.9 215.6v0.9M470.9 219.6v0.9M473.6 219.0v0.9M446.4 225.8v0.9M483.8 217.3v0.9M445.2 226.8v0.9M470.0 217.2v0.9M460.6 220.9v0.9M492.3 216.9v0.9M460.4 221.4v0.9M464.8 219.9v0.9M489.4 217.0v0.9M483.9 217.7v0.9M447.5 222.1v0.9M479.8 218.6v0.9M467.0 219.3v0.9M456.1 223.3v0.9M486.2 217.0v0.9M458.9 219.9v0.9M463.5 219.4v0.9M459.8 222.7v0.9M466.9 220.7v0.9M456.2 221.7v0.9M451.9 224.4v0.9M475.5 219.1v0.9M464.5 221.0v0.9M486.8 216.7v0.9M490.9 216.1v0.9M477.2 220.3v0.9M473.7 220.3v0.9M478.0 217.4v0.9M490.8 216.6v0.9M444.2 228.3v0.9M481.4 215.7v0.9M492.3 217.4v0.9M459.1 221.9v0.9M445.3 228.5v0.9M450.5 224.9v0.9M468.4 220.1v0.9M455.9 221.5v0.9M486.3 215.7v0.9M473.4 219.0v0.9M481.7 215.9v0.9M462.3 218.8v0.9M458.6 220.6v0.9M464.4 221.9v0.9M451.3 223.8v0.9M468.6 219.9v0.9M488.7 217.8v0.9M462.9 222.4v0.9M475.3 218.2v0.9M470.4 218.1v0.9M455.6 220.6v0.9M473.1 218.9v0.9M457.1 222.6v0.9M484.3 218.8v0.9M454.8 222.1v0.9M454.9 222.1v0.9M488.5 218.4v0.9M472.4 217.5v0.9M454.9 222.6v0.9M464.9 219.9v0.9M461.7 221.0v0.9M474.6 218.1v0.9M448.8 224.3v0.9M474.5 218.9v0.9M491.9 217.1v0.9M481.8 218.9v0.9M483.5 217.4v0.9M487.1 217.2v0.9M460.1 221.0v0.9M465.1 218.8v0.9M455.4 222.9v0.9M457.3 223.0v0.9M451.5 223.8v0.9M458.0 223.9v0.9M457.6 222.0v0.9M471.6 218.9v0.9M473.4 218.8v0.9M484.9 217.8v0.9M481.5 219.6v0.9M474.0 218.0v0.9M478.9 219.4v0.9M468.2 219.5v0.9M482.7 216.0v0.9M468.0 220.2v0.9M461.2 221.5v0.9M474.1 219.8v0.9M453.2 223.4v0.9M472.9 219.7v0.9M448.2 227.2v0.9M464.3 220.3v0.9M466.0 217.9v0.9M491.1 218.2v0.9M462.9 219.6v0.9M455.8 222.1v0.9M478.1 218.0v0.9M457.7 222.4v0.9M465.9 221.5v0.9M447.8 226.6v0.9M465.8 221.7v0.9M484.0 217.7v0.9M463.5 220.4v0.9M475.9 218.7v0.9M462.6 220.0v0.9M457.6 223.4v0.9M480.1 218.5v0.9M486.4 218.1v0.9M470.0 219.9v0.9M460.3 221.6v0.9M446.9 226.4v0.9M467.8 220.0v0.9M450.2 224.4v0.9M480.5 217.5v0.9M485.1 216.8v0.9M447.0 223.5v0.9M447.5 226.8v0.9M453.3 221.9v0.9M448.5 225.1v0.9M486.6 217.9v0.9M467.2 218.4v0.9M473.8 217.4v0.9M462.4 220.7v0.9M485.5 216.8v0.9M475.2 218.6v0.9M483.9 216.7v0.9M473.3 219.0v0.9M479.9 219.2v0.9M466.9 222.1v0.9M467.3 217.9v0.9M454.6 222.4v0.9M455.3 222.2v0.9M468.1 219.7v0.9M452.1 223.8v0.9M489.0 218.3v0.9M476.4 218.3v0.9M471.7 220.8v0.9M443.7 227.0v0.9M485.2 218.3v0.9M492.0 218.4v0.9M465.4 220.3v0.9M468.6 220.2v0.9M473.2 217.9v0.9M483.0 218.9v0.9M472.5 218.0v0.9M450.5 223.5v0.9M483.6 218.3v0.9M479.1 219.3v0.9M488.1 218.5v0.9M487.0 216.7v0.9M472.6 219.8v0.9M467.3 222.1v0.9M488.9 216.9v0.9M464.5 222.0v0.9M459.4 220.4v0.9M456.7 221.3v0.9M492.4 217.2v0.9M466.0 220.5v0.9M485.9 218.0v0.9M466.6 218.8v0.9M452.8 223.8v0.9M457.1 220.1v0.9M479.0 219.1v0.9M457.8 221.0v0.9M482.4 217.1v0.9M443.9 227.6v0.9M462.6 220.5v0.9M470.3 218.7v0.9M483.5 217.5v0.9M479.3 218.7v0.9M479.7 216.2v0.9M465.0 218.7v0.9M471.7 217.0v0.9M462.9 221.3v0.9M458.3 220.1v0.9M482.3 219.5v0.9M455.5 223.7v0.9M463.3 217.4v0.9M484.4 217.2v0.9M457.9 220.2v0.9M443.5 229.5v0.9M485.9 216.8v0.9M487.2 218.6v0.9M481.6 216.5v0.9M485.7 220.0v0.9M488.3 216.4v0.9M462.5 221.1v0.9M455.3 222.2v0.9M487.8 214.7v0.9M463.0 219.8v0.9M448.4 226.4v0.9M485.2 219.6v0.9M467.8 219.6v0.9M490.8 216.9v0.9M460.5 221.5v0.9M470.2 220.7v0.9M470.6 219.2v0.9M484.6 217.0v0.9M462.7 218.7v0.9M482.2 219.4v0.9M481.7 218.3v0.9M463.8 219.3v0.9M472.3 219.5v0.9M480.5 217.5v0.9M470.0 221.1v0.9M490.2 216.6v0.9M467.0 219.0v0.9M456.6 222.3v0.9M462.1 221.2v0.9M474.4 220.4v0.9M482.1 218.0v0.9M472.5 216.0v0.9M476.6 217.3v0.9M463.5 220.3v0.9M461.9 220.1v0.9M468.6 220.8v0.9M473.4 217.3v0.9M475.1 215.8v0.9M475.0 220.2v0.9M468.9 218.8v0.9M492.7 217.2v0.9M448.9 225.2v0.9M463.7 219.2v0.9M461.8 221.8v0.9M474.9 218.4v0.9M467.2 219.1v0.9M472.7 217.8v0.9M450.8 225.6v0.9M443.7 229.0v0.9M472.1 218.8v0.9M462.7 222.5v0.9M447.2 226.2v0.9M477.9 219.3v0.9M480.6 219.5v0.9M473.9 216.4v0.9M447.1 225.2v0.9M476.1 217.7v0.9M454.8 221.9v0.9M479.4 218.8v0.9M491.2 216.2v0.9M477.5 219.5v0.9M483.3 217.3v0.9M478.3 219.1v0.9M461.9 219.2v0.9M473.8 218.9v0.9M492.4 216.5v0.9M466.7 220.6v0.9M489.1 217.5v0.9M454.7 222.3v0.9M458.1 222.0v0.9M454.3 221.0v0.9M484.4 219.1v0.9M463.8 218.9v0.9M485.7 217.4v0.9M452.9 225.8v0.9M466.1 219.3v0.9M483.3 219.8v0.9M472.7 218.1v0.9M475.3 218.5v0.9M447.1 225.3v0.9M469.1 216.7v0.9M469.5 218.5v0.9M490.4 216.6v0.9M456.9 220.2v0.9M482.5 218.0v0.9M461.8 222.1v0.9M452.0 224.7v0.9M485.9 219.9v0.9M485.5 217.9v0.9M471.5 220.8v0.9M479.1 217.0v0.9M459.3 221.9v0.9M450.2 224.5v0.9M479.3 217.4v0.9M465.5 217.5v0.9M464.6 221.6v0.9M492.6 215.4v0.9M444.4 229.1v0.9M484.8 217.3v0.9M456.6 220.2v0.9M481.3 217.5v0.9M480.2 220.3v0.9M447.6 226.8v0.9M485.7 216.1v0.9M457.4 221.2v0.9M484.4 217.8v0.9M490.5 216.3v0.9M467.2 220.4v0.9M465.1 219.6v0.9M456.8 222.6v0.9M453.6 223.1v0.9M472.0 218.6v0.9M489.9 217.3v0.9M477.5 217.5v0.9M467.2 219.8v0.9M489.7 216.0v0.9M490.2 217.8v0.9M466.4 220.3v0.9M480.8 213.9v0.9M451.7 222.7v0.9M488.4 215.3v0.9M488.9 217.0v0.9M451.2 221.9v0.9M472.1 220.0v0.9M443.6 227.3v0.9M445.4 225.4v0.9M481.0 217.4v0.9M468.5 219.1v0.9M445.0 227.2v0.9M483.3 217.5v0.9M462.7 219.8v0.9M457.7 220.0v0.9M473.8 218.1v0.9M444.8 226.3v0.9M457.8 219.8v0.9M449.4 223.3v0.9M465.8 219.1v0.9M458.3 221.1v0.9M477.7 216.1v0.9M447.0 223.8v0.9M472.8 218.7v0.9M490.3 215.3v0.9M454.8 222.5v0.9M446.1 225.3v0.9M446.0 226.6v0.9M460.0 217.4v0.9M463.7 218.9v0.9M461.6 221.0v0.9M469.7 218.2v0.9M452.5 221.6v0.9M478.3 216.9v0.9M468.0 217.8v0.9M486.9 215.4v0.9M492.5 215.4v0.9M456.3 219.8v0.9M489.1 216.6v0.9M475.2 219.0v0.9M463.4 218.0v0.9M480.8 216.1v0.9M477.1 219.1v0.9M483.8 215.6v0.9M473.2 220.1v0.9M477.1 218.8v0.9M450.0 224.1v0.9M477.2 214.9v0.9M468.0 217.5v0.9M477.0 213.3v0.9M486.7 215.8v0.9M479.8 216.9v0.9M479.4 217.3v0.9M457.4 220.8v0.9M487.5 215.2v0.9M448.0 223.3v0.9M463.5 219.1v0.9M459.2 220.1v0.9M473.5 214.9v0.9M451.5 216.2v0.9M451.9 220.4v0.9M463.4 219.8v0.9M449.2 224.9v0.9M492.8 214.6v0.9M446.3 224.8v0.9M482.7 217.7v0.9M465.1 217.8v0.9M476.9 217.6v0.9M489.8 216.8v0.9M477.8 216.5v0.9M484.6 214.9v0.9M482.2 215.3v0.9M466.9 219.5v0.9M447.7 222.9v0.9M478.9 217.8v0.9M463.1 217.7v0.9M458.8 221.4v0.9M457.7 221.4v0.9M473.4 216.7v0.9M462.4 220.1v0.9M454.5 221.3v0.9M479.5 219.9v0.9M482.2 215.4v0.9M456.9 216.3v0.9M483.7 218.2v0.9M484.2 215.8v0.9M478.2 217.4v0.9M474.9 218.5v0.9M472.4 217.3v0.9M490.0 215.6v0.9M450.7 223.1v0.9M488.3 215.5v0.9M481.2 216.1v0.9M482.2 213.2v0.9M447.1 223.2v0.9M460.8 222.0v0.9M482.1 218.1v0.9M457.7 220.4v0.9M474.4 214.6v0.9M467.2 217.8v0.9M462.4 218.3v0.9M464.8 220.2v0.9M485.7 217.4v0.9M457.7 220.1v0.9M455.1 217.7v0.9M448.2 224.1v0.9M452.5 220.2v0.9M460.5 217.7v0.9M475.0 217.5v0.9M470.0 218.2v0.9M477.7 218.3v0.9M491.4 213.4v0.9M476.9 218.4v0.9M474.5 218.4v0.9M467.8 219.2v0.9M447.0 223.9v0.9M451.1 222.6v0.9M474.0 215.9v0.9M466.0 219.6v0.9M459.7 219.2v0.9M491.1 216.1v0.9M469.3 220.1v0.9M454.2 222.8v0.9M482.4 217.6v0.9M472.1 216.4v0.9M482.5 217.0v0.9M476.1 216.0v0.9M489.0 214.8v0.9M464.9 217.6v0.9M486.6 216.5v0.9M490.2 213.4v0.9M484.6 215.7v0.9M460.1 219.4v0.9M460.9 219.4v0.9M457.4 219.0v0.9M453.2 222.8v0.9M454.6 218.5v0.9M472.7 219.0v0.9M456.3 219.8v0.9M487.4 215.1v0.9M469.7 217.6v0.9M445.1 227.7v0.9M444.2 223.0v0.9M474.2 214.7v0.9M491.7 212.0v0.9M489.4 216.6v0.9M459.4 218.5v0.9M468.0 220.0v0.9M480.6 213.3v0.9M456.8 219.7v0.9M467.9 215.9v0.9M474.5 218.7v0.9M466.7 218.6v0.9M471.1 217.2v0.9M470.5 219.8v0.9M475.2 215.2v0.9M483.0 215.5v0.9M462.1 219.1v0.9M452.8 219.9v0.9M477.8 214.2v0.9M457.2 220.8v0.9M474.7 219.2v0.9M453.1 221.1v0.9M491.9 215.6v0.9M492.8 215.4v0.9M491.1 210.6v0.9M453.9 220.2v0.9M477.6 218.7v0.9M453.5 221.3v0.9M492.1 216.8v0.9M470.0 219.6v0.9M489.2 214.4v0.9M455.6 219.9v0.9M485.4 217.8v0.9M486.2 216.6v0.9M445.6 225.2v0.9M462.0 220.1v0.9M452.0 223.2v0.9M478.6 215.7v0.9M462.6 220.8v0.9M471.2 217.4v0.9M471.3 218.8v0.9M455.1 220.6v0.9M458.6 219.4v0.9M478.8 217.5v0.9M458.1 218.9v0.9M473.8 216.7v0.9M451.0 222.3v0.9M469.1 216.4v0.9M457.8 220.7v0.9M487.7 217.7v0.9M449.5 222.6v0.9M467.8 219.3v0.9M468.1 219.7v0.9M459.8 219.1v0.9M452.3 219.3v0.9M457.5 220.7v0.9M483.3 214.4v0.9M491.6 217.8v0.9M454.7 221.6v0.9M465.8 217.6v0.9" stroke="#2a3a9a" stroke-width="0.9" stroke-opacity="0.6"/>
<path d="M483.0 224.9v0.8M483.1 231.0v0.8M486.4 223.8v0.8M455.7 225.4v0.8M492.1 222.2v0.8M456.2 230.1v0.8M490.0 225.0v0.8M484.9 223.2v0.8M459.7 222.7v0.8M478.3 224.9v0.8M481.5 220.6v0.8M450.5 234.5v0.8M473.9 221.1v0.8M479.7 226.6v0.8M463.4 224.3v0.8M462.4 227.5v0.8M457.7 230.2v0.8M459.3 227.2v0.8M458.9 234.4v0.8M491.9 221.8v0.8M488.8 218.6v0.8M483.3 223.6v0.8M478.1 220.8v0.8M466.0 227.6v0.8M478.8 225.3v0.8M454.6 235.5v0.8M485.9 223.3v0.8M448.5 235.5v0.8M473.8 221.8v0.8M469.7 222.5v0.8M482.3 224.3v0.8M453.1 229.0v0.8M492.6 220.5v0.8M447.0 228.5v0.8M485.8 222.3v0.8M490.6 220.3v0.8M478.2 223.6v0.8M471.7 223.5v0.8M466.8 224.3v0.8M487.3 220.2v0.8M466.4 223.9v0.8M486.8 223.2v0.8M473.1 223.9v0.8M468.6 225.2v0.8M453.4 228.1v0.8M488.3 225.8v0.8M478.9 224.0v0.8M487.3 224.3v0.8M470.5 222.6v0.8M478.8 222.0v0.8M470.4 225.7v0.8M468.2 226.0v0.8M462.9 225.0v0.8M468.5 226.9v0.8M471.1 222.4v0.8M459.7 232.7v0.8M465.4 227.3v0.8M492.0 219.1v0.8M482.6 221.2v0.8M472.4 222.9v0.8M449.3 233.6v0.8M462.4 225.0v0.8M489.0 221.7v0.8M474.6 222.7v0.8M485.8 219.9v0.8M466.4 222.5v0.8M459.5 223.2v0.8M461.4 225.2v0.8M476.7 222.1v0.8M449.1 229.4v0.8M485.1 221.1v0.8M484.8 219.5v0.8M448.1 231.8v0.8M490.4 230.7v0.8M453.1 231.6v0.8M468.4 223.3v0.8M483.6 230.1v0.8M455.9 232.4v0.8M454.6 227.2v0.8M475.0 218.5v0.8" stroke="#4050a0" stroke-width="0.8" stroke-opacity="0.5"/>
<text x="432.20" y="216.00" font-size="7.41" fill="#2c3488" font-weight="bold" textLength="12.20" lengthAdjust="spacingAndGlyphs">Cre-</text>
<text x="432.20" y="223.90" font-size="6.98" fill="#c02830" font-weight="bold" textLength="14.50" lengthAdjust="spacingAndGlyphs">Cre+</text>
<text x="423.90" y="253.50" font-size="5.60" fill="#111" font-weight="bold" textLength="30.70" lengthAdjust="spacingAndGlyphs" transform="rotate(-90 423.90 253.50)">p65α-APC</text>
<text x="447.00" y="280.20" font-size="7.41" fill="#111" font-weight="bold" textLength="48.50" lengthAdjust="spacingAndGlyphs">Forward Scatter</text>
</svg></body></html>
